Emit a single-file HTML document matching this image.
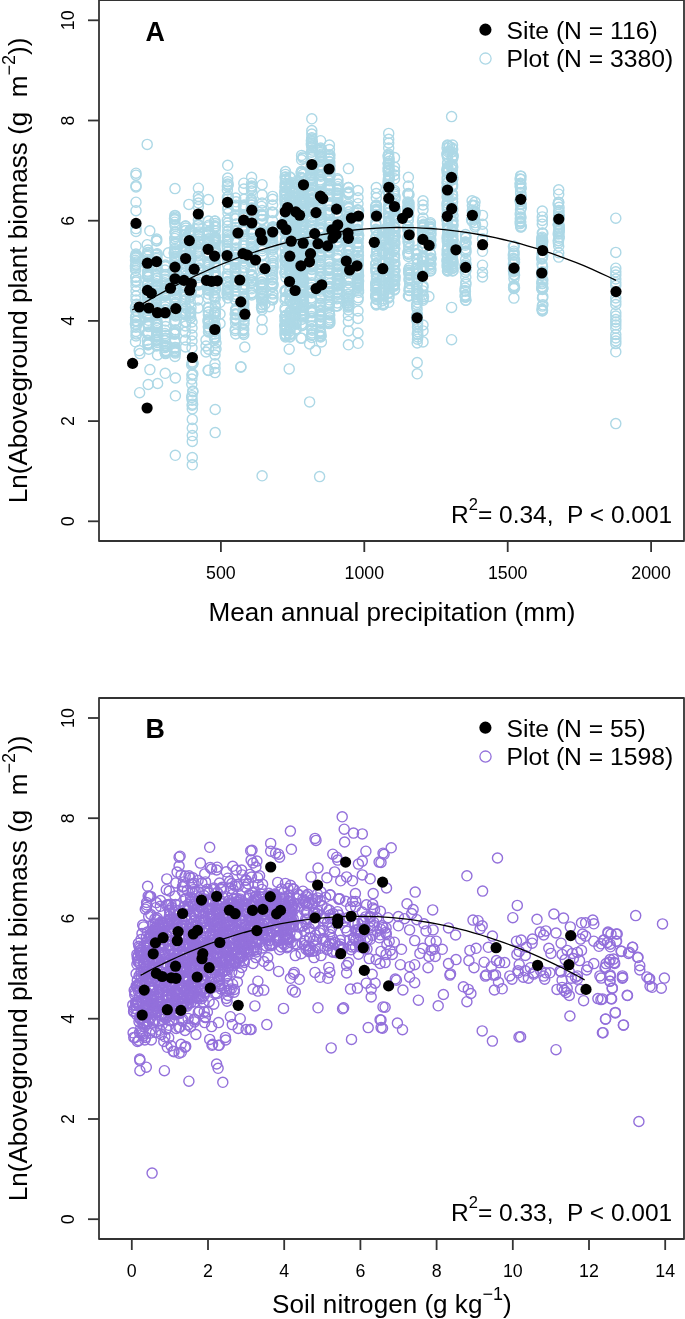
<!DOCTYPE html>
<html><head><meta charset="utf-8"><style>
html,body{margin:0;padding:0;background:#fff;}
svg{display:block;}
text{font-family:"Liberation Sans",sans-serif;fill:#000;}
svg{-webkit-font-smoothing:antialiased;will-change:transform;}
</style></head><body>
<svg width="685" height="1319" viewBox="0 0 685 1319">
<rect width="685" height="1319" fill="#fff"/>
<g fill="none" stroke="#add8e6" stroke-width="1.4">
<circle cx="136.0" cy="254.0" r="5.05"/>
<circle cx="136.0" cy="282.0" r="5.05"/>
<circle cx="135.8" cy="258.2" r="5.05"/>
<circle cx="136.2" cy="256.0" r="5.05"/>
<circle cx="136.0" cy="264.2" r="5.05"/>
<circle cx="135.5" cy="268.2" r="5.05"/>
<circle cx="135.4" cy="266.1" r="5.05"/>
<circle cx="135.5" cy="256.5" r="5.05"/>
<circle cx="135.9" cy="277.2" r="5.05"/>
<circle cx="135.5" cy="260.3" r="5.05"/>
<circle cx="136.2" cy="280.5" r="5.05"/>
<circle cx="136.1" cy="265.1" r="5.05"/>
<circle cx="136.6" cy="255.3" r="5.05"/>
<circle cx="136.4" cy="262.1" r="5.05"/>
<circle cx="135.6" cy="257.3" r="5.05"/>
<circle cx="135.8" cy="276.9" r="5.05"/>
<circle cx="135.6" cy="270.3" r="5.05"/>
<circle cx="136.2" cy="264.4" r="5.05"/>
<circle cx="136.1" cy="255.8" r="5.05"/>
<circle cx="136.0" cy="300.0" r="5.05"/>
<circle cx="136.0" cy="336.0" r="5.05"/>
<circle cx="135.5" cy="307.4" r="5.05"/>
<circle cx="136.2" cy="315.4" r="5.05"/>
<circle cx="135.8" cy="321.1" r="5.05"/>
<circle cx="135.9" cy="310.8" r="5.05"/>
<circle cx="136.4" cy="325.2" r="5.05"/>
<circle cx="135.7" cy="320.7" r="5.05"/>
<circle cx="136.0" cy="331.5" r="5.05"/>
<circle cx="136.3" cy="310.4" r="5.05"/>
<circle cx="136.6" cy="304.3" r="5.05"/>
<circle cx="135.9" cy="327.3" r="5.05"/>
<circle cx="135.6" cy="317.6" r="5.05"/>
<circle cx="135.4" cy="324.1" r="5.05"/>
<circle cx="136.3" cy="320.6" r="5.05"/>
<circle cx="136.5" cy="311.3" r="5.05"/>
<circle cx="136.2" cy="321.4" r="5.05"/>
<circle cx="136.1" cy="316.4" r="5.05"/>
<circle cx="136.4" cy="334.0" r="5.05"/>
<circle cx="148.0" cy="250.0" r="5.05"/>
<circle cx="148.0" cy="345.0" r="5.05"/>
<circle cx="148.0" cy="313.1" r="5.05"/>
<circle cx="147.5" cy="316.6" r="5.05"/>
<circle cx="148.2" cy="344.3" r="5.05"/>
<circle cx="148.4" cy="277.0" r="5.05"/>
<circle cx="147.9" cy="313.5" r="5.05"/>
<circle cx="147.4" cy="293.9" r="5.05"/>
<circle cx="147.6" cy="261.1" r="5.05"/>
<circle cx="147.5" cy="323.0" r="5.05"/>
<circle cx="147.6" cy="273.5" r="5.05"/>
<circle cx="147.9" cy="332.8" r="5.05"/>
<circle cx="147.5" cy="292.7" r="5.05"/>
<circle cx="148.1" cy="333.9" r="5.05"/>
<circle cx="148.4" cy="332.1" r="5.05"/>
<circle cx="147.7" cy="289.5" r="5.05"/>
<circle cx="147.8" cy="334.0" r="5.05"/>
<circle cx="148.5" cy="264.3" r="5.05"/>
<circle cx="147.6" cy="272.0" r="5.05"/>
<circle cx="147.7" cy="296.1" r="5.05"/>
<circle cx="148.1" cy="275.0" r="5.05"/>
<circle cx="147.4" cy="289.8" r="5.05"/>
<circle cx="147.8" cy="303.8" r="5.05"/>
<circle cx="148.5" cy="315.6" r="5.05"/>
<circle cx="148.0" cy="308.7" r="5.05"/>
<circle cx="148.2" cy="255.1" r="5.05"/>
<circle cx="148.5" cy="324.1" r="5.05"/>
<circle cx="148.4" cy="325.8" r="5.05"/>
<circle cx="147.9" cy="287.9" r="5.05"/>
<circle cx="147.5" cy="310.3" r="5.05"/>
<circle cx="147.5" cy="256.4" r="5.05"/>
<circle cx="147.7" cy="265.4" r="5.05"/>
<circle cx="147.8" cy="255.0" r="5.05"/>
<circle cx="147.4" cy="264.4" r="5.05"/>
<circle cx="147.5" cy="284.5" r="5.05"/>
<circle cx="147.4" cy="333.1" r="5.05"/>
<circle cx="148.1" cy="264.1" r="5.05"/>
<circle cx="147.7" cy="283.0" r="5.05"/>
<circle cx="147.8" cy="261.7" r="5.05"/>
<circle cx="148.4" cy="344.3" r="5.05"/>
<circle cx="148.0" cy="296.0" r="5.05"/>
<circle cx="147.5" cy="259.7" r="5.05"/>
<circle cx="147.8" cy="275.2" r="5.05"/>
<circle cx="148.4" cy="265.3" r="5.05"/>
<circle cx="147.4" cy="340.3" r="5.05"/>
<circle cx="148.0" cy="263.9" r="5.05"/>
<circle cx="148.1" cy="252.6" r="5.05"/>
<circle cx="148.0" cy="343.0" r="5.05"/>
<circle cx="148.4" cy="316.1" r="5.05"/>
<circle cx="147.7" cy="284.8" r="5.05"/>
<circle cx="147.6" cy="323.3" r="5.05"/>
<circle cx="148.0" cy="324.0" r="5.05"/>
<circle cx="147.8" cy="271.2" r="5.05"/>
<circle cx="148.4" cy="343.6" r="5.05"/>
<circle cx="148.4" cy="326.6" r="5.05"/>
<circle cx="148.4" cy="320.3" r="5.05"/>
<circle cx="147.7" cy="299.2" r="5.05"/>
<circle cx="147.8" cy="252.8" r="5.05"/>
<circle cx="147.4" cy="276.5" r="5.05"/>
<circle cx="147.7" cy="315.8" r="5.05"/>
<circle cx="156.7" cy="239.0" r="5.05"/>
<circle cx="156.7" cy="346.0" r="5.05"/>
<circle cx="157.2" cy="286.9" r="5.05"/>
<circle cx="157.2" cy="344.7" r="5.05"/>
<circle cx="157.2" cy="278.0" r="5.05"/>
<circle cx="156.4" cy="263.3" r="5.05"/>
<circle cx="156.3" cy="260.9" r="5.05"/>
<circle cx="156.8" cy="335.3" r="5.05"/>
<circle cx="157.1" cy="290.3" r="5.05"/>
<circle cx="156.9" cy="324.6" r="5.05"/>
<circle cx="156.2" cy="309.7" r="5.05"/>
<circle cx="157.2" cy="322.7" r="5.05"/>
<circle cx="157.0" cy="290.1" r="5.05"/>
<circle cx="156.3" cy="323.4" r="5.05"/>
<circle cx="156.5" cy="324.7" r="5.05"/>
<circle cx="157.3" cy="281.4" r="5.05"/>
<circle cx="156.6" cy="340.3" r="5.05"/>
<circle cx="157.0" cy="257.2" r="5.05"/>
<circle cx="156.3" cy="255.2" r="5.05"/>
<circle cx="157.2" cy="325.3" r="5.05"/>
<circle cx="156.3" cy="327.4" r="5.05"/>
<circle cx="157.3" cy="309.3" r="5.05"/>
<circle cx="156.5" cy="297.7" r="5.05"/>
<circle cx="156.3" cy="240.5" r="5.05"/>
<circle cx="157.3" cy="308.5" r="5.05"/>
<circle cx="156.7" cy="338.9" r="5.05"/>
<circle cx="156.6" cy="332.3" r="5.05"/>
<circle cx="157.1" cy="261.6" r="5.05"/>
<circle cx="156.4" cy="270.3" r="5.05"/>
<circle cx="156.4" cy="301.7" r="5.05"/>
<circle cx="156.4" cy="283.8" r="5.05"/>
<circle cx="156.3" cy="336.4" r="5.05"/>
<circle cx="156.5" cy="288.0" r="5.05"/>
<circle cx="156.8" cy="335.8" r="5.05"/>
<circle cx="156.6" cy="337.2" r="5.05"/>
<circle cx="156.7" cy="295.9" r="5.05"/>
<circle cx="156.7" cy="241.0" r="5.05"/>
<circle cx="156.6" cy="258.6" r="5.05"/>
<circle cx="156.1" cy="324.5" r="5.05"/>
<circle cx="156.3" cy="289.7" r="5.05"/>
<circle cx="157.0" cy="298.5" r="5.05"/>
<circle cx="156.5" cy="294.5" r="5.05"/>
<circle cx="156.8" cy="322.9" r="5.05"/>
<circle cx="156.2" cy="299.0" r="5.05"/>
<circle cx="156.4" cy="268.6" r="5.05"/>
<circle cx="157.0" cy="293.3" r="5.05"/>
<circle cx="156.8" cy="320.3" r="5.05"/>
<circle cx="157.2" cy="286.4" r="5.05"/>
<circle cx="156.8" cy="293.1" r="5.05"/>
<circle cx="156.7" cy="313.1" r="5.05"/>
<circle cx="156.6" cy="296.1" r="5.05"/>
<circle cx="156.7" cy="339.7" r="5.05"/>
<circle cx="156.9" cy="332.8" r="5.05"/>
<circle cx="157.2" cy="266.8" r="5.05"/>
<circle cx="156.8" cy="339.9" r="5.05"/>
<circle cx="157.1" cy="253.7" r="5.05"/>
<circle cx="156.2" cy="286.3" r="5.05"/>
<circle cx="156.2" cy="264.7" r="5.05"/>
<circle cx="156.2" cy="310.6" r="5.05"/>
<circle cx="157.0" cy="335.0" r="5.05"/>
<circle cx="156.3" cy="315.6" r="5.05"/>
<circle cx="156.9" cy="254.3" r="5.05"/>
<circle cx="157.2" cy="342.5" r="5.05"/>
<circle cx="156.4" cy="340.9" r="5.05"/>
<circle cx="156.6" cy="291.1" r="5.05"/>
<circle cx="157.3" cy="328.1" r="5.05"/>
<circle cx="156.3" cy="285.2" r="5.05"/>
<circle cx="156.7" cy="275.3" r="5.05"/>
<circle cx="165.5" cy="265.0" r="5.05"/>
<circle cx="165.5" cy="353.0" r="5.05"/>
<circle cx="165.1" cy="293.0" r="5.05"/>
<circle cx="165.8" cy="266.7" r="5.05"/>
<circle cx="165.6" cy="303.8" r="5.05"/>
<circle cx="164.9" cy="294.2" r="5.05"/>
<circle cx="165.6" cy="310.1" r="5.05"/>
<circle cx="165.0" cy="351.7" r="5.05"/>
<circle cx="165.8" cy="350.5" r="5.05"/>
<circle cx="165.0" cy="288.4" r="5.05"/>
<circle cx="164.9" cy="333.6" r="5.05"/>
<circle cx="165.2" cy="276.4" r="5.05"/>
<circle cx="165.4" cy="345.2" r="5.05"/>
<circle cx="165.9" cy="287.8" r="5.05"/>
<circle cx="165.1" cy="345.9" r="5.05"/>
<circle cx="165.6" cy="326.6" r="5.05"/>
<circle cx="165.0" cy="270.1" r="5.05"/>
<circle cx="165.7" cy="302.4" r="5.05"/>
<circle cx="165.0" cy="347.6" r="5.05"/>
<circle cx="165.7" cy="335.5" r="5.05"/>
<circle cx="165.0" cy="340.3" r="5.05"/>
<circle cx="165.0" cy="340.9" r="5.05"/>
<circle cx="165.4" cy="294.8" r="5.05"/>
<circle cx="165.6" cy="346.5" r="5.05"/>
<circle cx="165.2" cy="276.4" r="5.05"/>
<circle cx="165.5" cy="286.0" r="5.05"/>
<circle cx="165.0" cy="279.2" r="5.05"/>
<circle cx="165.0" cy="282.8" r="5.05"/>
<circle cx="165.3" cy="291.8" r="5.05"/>
<circle cx="165.8" cy="290.5" r="5.05"/>
<circle cx="165.5" cy="280.7" r="5.05"/>
<circle cx="165.3" cy="266.6" r="5.05"/>
<circle cx="165.2" cy="266.4" r="5.05"/>
<circle cx="165.8" cy="313.5" r="5.05"/>
<circle cx="165.1" cy="306.8" r="5.05"/>
<circle cx="166.0" cy="274.4" r="5.05"/>
<circle cx="165.9" cy="303.0" r="5.05"/>
<circle cx="165.5" cy="338.4" r="5.05"/>
<circle cx="165.4" cy="309.6" r="5.05"/>
<circle cx="165.7" cy="351.5" r="5.05"/>
<circle cx="165.3" cy="338.2" r="5.05"/>
<circle cx="165.7" cy="321.0" r="5.05"/>
<circle cx="165.4" cy="295.6" r="5.05"/>
<circle cx="165.0" cy="276.4" r="5.05"/>
<circle cx="165.0" cy="330.2" r="5.05"/>
<circle cx="175.0" cy="215.4" r="5.05"/>
<circle cx="175.0" cy="356.5" r="5.05"/>
<circle cx="174.7" cy="238.4" r="5.05"/>
<circle cx="174.5" cy="334.1" r="5.05"/>
<circle cx="175.4" cy="310.0" r="5.05"/>
<circle cx="174.7" cy="249.6" r="5.05"/>
<circle cx="174.8" cy="280.2" r="5.05"/>
<circle cx="174.6" cy="278.3" r="5.05"/>
<circle cx="174.7" cy="351.1" r="5.05"/>
<circle cx="175.6" cy="292.6" r="5.05"/>
<circle cx="174.7" cy="351.7" r="5.05"/>
<circle cx="174.8" cy="265.7" r="5.05"/>
<circle cx="174.4" cy="269.2" r="5.05"/>
<circle cx="175.0" cy="286.3" r="5.05"/>
<circle cx="174.6" cy="286.6" r="5.05"/>
<circle cx="174.4" cy="252.7" r="5.05"/>
<circle cx="174.5" cy="271.8" r="5.05"/>
<circle cx="174.5" cy="218.6" r="5.05"/>
<circle cx="174.8" cy="248.2" r="5.05"/>
<circle cx="175.1" cy="290.1" r="5.05"/>
<circle cx="175.3" cy="308.2" r="5.05"/>
<circle cx="175.3" cy="339.4" r="5.05"/>
<circle cx="174.9" cy="261.4" r="5.05"/>
<circle cx="175.6" cy="236.5" r="5.05"/>
<circle cx="175.3" cy="306.2" r="5.05"/>
<circle cx="174.5" cy="333.3" r="5.05"/>
<circle cx="175.5" cy="303.9" r="5.05"/>
<circle cx="175.3" cy="330.0" r="5.05"/>
<circle cx="174.6" cy="289.3" r="5.05"/>
<circle cx="175.0" cy="333.2" r="5.05"/>
<circle cx="175.4" cy="332.0" r="5.05"/>
<circle cx="175.1" cy="341.4" r="5.05"/>
<circle cx="175.2" cy="313.2" r="5.05"/>
<circle cx="174.7" cy="219.8" r="5.05"/>
<circle cx="174.6" cy="266.3" r="5.05"/>
<circle cx="174.5" cy="333.3" r="5.05"/>
<circle cx="175.1" cy="304.0" r="5.05"/>
<circle cx="175.2" cy="311.4" r="5.05"/>
<circle cx="175.0" cy="215.9" r="5.05"/>
<circle cx="175.4" cy="321.0" r="5.05"/>
<circle cx="175.0" cy="290.9" r="5.05"/>
<circle cx="175.2" cy="224.7" r="5.05"/>
<circle cx="175.3" cy="251.0" r="5.05"/>
<circle cx="174.5" cy="252.9" r="5.05"/>
<circle cx="175.3" cy="244.4" r="5.05"/>
<circle cx="175.3" cy="353.1" r="5.05"/>
<circle cx="175.0" cy="269.4" r="5.05"/>
<circle cx="175.0" cy="311.9" r="5.05"/>
<circle cx="175.3" cy="302.5" r="5.05"/>
<circle cx="175.2" cy="226.3" r="5.05"/>
<circle cx="174.6" cy="251.2" r="5.05"/>
<circle cx="175.3" cy="258.4" r="5.05"/>
<circle cx="175.1" cy="217.2" r="5.05"/>
<circle cx="174.5" cy="253.3" r="5.05"/>
<circle cx="175.2" cy="313.1" r="5.05"/>
<circle cx="175.2" cy="256.4" r="5.05"/>
<circle cx="175.0" cy="281.0" r="5.05"/>
<circle cx="175.0" cy="232.1" r="5.05"/>
<circle cx="175.5" cy="243.5" r="5.05"/>
<circle cx="175.6" cy="347.5" r="5.05"/>
<circle cx="174.4" cy="280.2" r="5.05"/>
<circle cx="175.4" cy="352.0" r="5.05"/>
<circle cx="174.9" cy="253.3" r="5.05"/>
<circle cx="174.7" cy="348.8" r="5.05"/>
<circle cx="174.7" cy="297.4" r="5.05"/>
<circle cx="174.6" cy="289.3" r="5.05"/>
<circle cx="175.5" cy="234.1" r="5.05"/>
<circle cx="175.4" cy="287.2" r="5.05"/>
<circle cx="175.5" cy="314.6" r="5.05"/>
<circle cx="174.7" cy="342.1" r="5.05"/>
<circle cx="175.0" cy="218.9" r="5.05"/>
<circle cx="174.4" cy="284.8" r="5.05"/>
<circle cx="174.9" cy="258.0" r="5.05"/>
<circle cx="174.6" cy="263.9" r="5.05"/>
<circle cx="174.8" cy="334.0" r="5.05"/>
<circle cx="174.4" cy="321.3" r="5.05"/>
<circle cx="175.4" cy="232.3" r="5.05"/>
<circle cx="175.5" cy="316.0" r="5.05"/>
<circle cx="175.5" cy="256.3" r="5.05"/>
<circle cx="174.8" cy="270.8" r="5.05"/>
<circle cx="175.6" cy="298.5" r="5.05"/>
<circle cx="174.8" cy="275.8" r="5.05"/>
<circle cx="174.7" cy="222.2" r="5.05"/>
<circle cx="174.5" cy="333.2" r="5.05"/>
<circle cx="174.7" cy="347.4" r="5.05"/>
<circle cx="174.7" cy="252.9" r="5.05"/>
<circle cx="175.0" cy="242.2" r="5.05"/>
<circle cx="174.8" cy="350.3" r="5.05"/>
<circle cx="175.5" cy="330.0" r="5.05"/>
<circle cx="185.5" cy="226.0" r="5.05"/>
<circle cx="185.5" cy="322.0" r="5.05"/>
<circle cx="185.7" cy="313.7" r="5.05"/>
<circle cx="186.0" cy="278.7" r="5.05"/>
<circle cx="185.8" cy="230.7" r="5.05"/>
<circle cx="185.8" cy="269.3" r="5.05"/>
<circle cx="185.8" cy="287.9" r="5.05"/>
<circle cx="185.2" cy="230.7" r="5.05"/>
<circle cx="186.0" cy="238.2" r="5.05"/>
<circle cx="185.5" cy="259.0" r="5.05"/>
<circle cx="185.3" cy="296.9" r="5.05"/>
<circle cx="186.1" cy="251.0" r="5.05"/>
<circle cx="185.7" cy="254.9" r="5.05"/>
<circle cx="185.6" cy="263.9" r="5.05"/>
<circle cx="185.1" cy="241.5" r="5.05"/>
<circle cx="185.1" cy="313.0" r="5.05"/>
<circle cx="185.5" cy="247.1" r="5.05"/>
<circle cx="186.0" cy="321.7" r="5.05"/>
<circle cx="185.4" cy="239.4" r="5.05"/>
<circle cx="185.1" cy="234.7" r="5.05"/>
<circle cx="185.3" cy="234.7" r="5.05"/>
<circle cx="185.2" cy="250.8" r="5.05"/>
<circle cx="185.6" cy="311.2" r="5.05"/>
<circle cx="185.8" cy="265.6" r="5.05"/>
<circle cx="185.4" cy="276.3" r="5.05"/>
<circle cx="185.4" cy="258.5" r="5.05"/>
<circle cx="185.0" cy="252.6" r="5.05"/>
<circle cx="186.1" cy="238.1" r="5.05"/>
<circle cx="185.5" cy="286.4" r="5.05"/>
<circle cx="185.9" cy="246.7" r="5.05"/>
<circle cx="185.2" cy="249.9" r="5.05"/>
<circle cx="185.4" cy="268.8" r="5.05"/>
<circle cx="186.0" cy="307.5" r="5.05"/>
<circle cx="185.9" cy="228.1" r="5.05"/>
<circle cx="184.9" cy="294.1" r="5.05"/>
<circle cx="186.0" cy="271.4" r="5.05"/>
<circle cx="185.6" cy="226.0" r="5.05"/>
<circle cx="185.4" cy="315.0" r="5.05"/>
<circle cx="185.9" cy="308.1" r="5.05"/>
<circle cx="186.1" cy="249.9" r="5.05"/>
<circle cx="185.0" cy="240.8" r="5.05"/>
<circle cx="185.5" cy="291.5" r="5.05"/>
<circle cx="186.0" cy="295.3" r="5.05"/>
<circle cx="185.7" cy="299.4" r="5.05"/>
<circle cx="185.4" cy="278.9" r="5.05"/>
<circle cx="184.9" cy="301.1" r="5.05"/>
<circle cx="185.2" cy="314.3" r="5.05"/>
<circle cx="185.7" cy="255.2" r="5.05"/>
<circle cx="185.1" cy="250.2" r="5.05"/>
<circle cx="190.5" cy="230.0" r="5.05"/>
<circle cx="190.5" cy="318.0" r="5.05"/>
<circle cx="190.7" cy="291.5" r="5.05"/>
<circle cx="190.0" cy="236.2" r="5.05"/>
<circle cx="190.5" cy="281.3" r="5.05"/>
<circle cx="190.4" cy="249.7" r="5.05"/>
<circle cx="190.6" cy="230.9" r="5.05"/>
<circle cx="190.3" cy="270.5" r="5.05"/>
<circle cx="191.1" cy="286.7" r="5.05"/>
<circle cx="191.0" cy="271.8" r="5.05"/>
<circle cx="190.2" cy="251.7" r="5.05"/>
<circle cx="191.1" cy="292.0" r="5.05"/>
<circle cx="190.3" cy="231.9" r="5.05"/>
<circle cx="190.5" cy="289.4" r="5.05"/>
<circle cx="190.4" cy="252.6" r="5.05"/>
<circle cx="190.7" cy="311.4" r="5.05"/>
<circle cx="190.2" cy="233.0" r="5.05"/>
<circle cx="190.3" cy="267.0" r="5.05"/>
<circle cx="190.7" cy="247.4" r="5.05"/>
<circle cx="190.9" cy="295.0" r="5.05"/>
<circle cx="190.5" cy="248.1" r="5.05"/>
<circle cx="191.1" cy="257.4" r="5.05"/>
<circle cx="190.9" cy="250.3" r="5.05"/>
<circle cx="190.2" cy="296.9" r="5.05"/>
<circle cx="190.3" cy="313.8" r="5.05"/>
<circle cx="190.5" cy="246.5" r="5.05"/>
<circle cx="190.2" cy="266.7" r="5.05"/>
<circle cx="190.7" cy="313.5" r="5.05"/>
<circle cx="190.1" cy="264.6" r="5.05"/>
<circle cx="190.2" cy="315.7" r="5.05"/>
<circle cx="190.1" cy="234.6" r="5.05"/>
<circle cx="190.0" cy="264.6" r="5.05"/>
<circle cx="191.0" cy="307.8" r="5.05"/>
<circle cx="190.8" cy="317.8" r="5.05"/>
<circle cx="191.0" cy="259.0" r="5.05"/>
<circle cx="190.1" cy="312.4" r="5.05"/>
<circle cx="190.8" cy="232.8" r="5.05"/>
<circle cx="190.7" cy="263.3" r="5.05"/>
<circle cx="190.3" cy="259.2" r="5.05"/>
<circle cx="190.1" cy="230.3" r="5.05"/>
<circle cx="190.2" cy="260.9" r="5.05"/>
<circle cx="191.0" cy="240.9" r="5.05"/>
<circle cx="191.1" cy="248.3" r="5.05"/>
<circle cx="190.3" cy="302.3" r="5.05"/>
<circle cx="190.9" cy="268.1" r="5.05"/>
<circle cx="192.3" cy="362.0" r="5.05"/>
<circle cx="192.3" cy="409.0" r="5.05"/>
<circle cx="191.8" cy="384.3" r="5.05"/>
<circle cx="192.1" cy="405.2" r="5.05"/>
<circle cx="191.9" cy="379.1" r="5.05"/>
<circle cx="192.8" cy="363.4" r="5.05"/>
<circle cx="192.2" cy="400.2" r="5.05"/>
<circle cx="192.6" cy="363.9" r="5.05"/>
<circle cx="191.7" cy="364.9" r="5.05"/>
<circle cx="192.8" cy="374.1" r="5.05"/>
<circle cx="192.6" cy="404.2" r="5.05"/>
<circle cx="192.1" cy="374.8" r="5.05"/>
<circle cx="192.8" cy="391.0" r="5.05"/>
<circle cx="192.0" cy="395.7" r="5.05"/>
<circle cx="192.1" cy="375.0" r="5.05"/>
<circle cx="191.7" cy="397.5" r="5.05"/>
<circle cx="192.8" cy="391.8" r="5.05"/>
<circle cx="192.8" cy="363.1" r="5.05"/>
<circle cx="198.4" cy="220.0" r="5.05"/>
<circle cx="198.4" cy="285.0" r="5.05"/>
<circle cx="198.1" cy="250.9" r="5.05"/>
<circle cx="198.9" cy="282.0" r="5.05"/>
<circle cx="198.3" cy="236.3" r="5.05"/>
<circle cx="198.3" cy="252.1" r="5.05"/>
<circle cx="198.9" cy="231.9" r="5.05"/>
<circle cx="198.8" cy="268.0" r="5.05"/>
<circle cx="198.8" cy="270.2" r="5.05"/>
<circle cx="198.5" cy="241.3" r="5.05"/>
<circle cx="198.2" cy="243.5" r="5.05"/>
<circle cx="198.7" cy="225.1" r="5.05"/>
<circle cx="198.0" cy="268.9" r="5.05"/>
<circle cx="198.1" cy="224.2" r="5.05"/>
<circle cx="197.8" cy="255.9" r="5.05"/>
<circle cx="198.2" cy="283.7" r="5.05"/>
<circle cx="198.9" cy="284.2" r="5.05"/>
<circle cx="198.1" cy="225.5" r="5.05"/>
<circle cx="197.9" cy="252.4" r="5.05"/>
<circle cx="198.7" cy="249.1" r="5.05"/>
<circle cx="198.1" cy="247.1" r="5.05"/>
<circle cx="198.5" cy="263.8" r="5.05"/>
<circle cx="198.7" cy="275.1" r="5.05"/>
<circle cx="198.6" cy="227.9" r="5.05"/>
<circle cx="198.8" cy="239.1" r="5.05"/>
<circle cx="198.5" cy="244.2" r="5.05"/>
<circle cx="198.7" cy="232.9" r="5.05"/>
<circle cx="198.1" cy="235.9" r="5.05"/>
<circle cx="198.0" cy="277.5" r="5.05"/>
<circle cx="198.5" cy="241.2" r="5.05"/>
<circle cx="198.3" cy="284.5" r="5.05"/>
<circle cx="198.4" cy="235.0" r="5.05"/>
<circle cx="198.8" cy="262.5" r="5.05"/>
<circle cx="208.5" cy="221.0" r="5.05"/>
<circle cx="208.5" cy="332.0" r="5.05"/>
<circle cx="209.1" cy="232.4" r="5.05"/>
<circle cx="208.5" cy="311.9" r="5.05"/>
<circle cx="208.9" cy="322.5" r="5.05"/>
<circle cx="207.9" cy="253.6" r="5.05"/>
<circle cx="208.0" cy="242.0" r="5.05"/>
<circle cx="209.1" cy="285.7" r="5.05"/>
<circle cx="209.0" cy="262.3" r="5.05"/>
<circle cx="208.9" cy="270.9" r="5.05"/>
<circle cx="208.2" cy="307.3" r="5.05"/>
<circle cx="209.0" cy="232.7" r="5.05"/>
<circle cx="208.6" cy="289.8" r="5.05"/>
<circle cx="208.2" cy="261.9" r="5.05"/>
<circle cx="208.1" cy="243.6" r="5.05"/>
<circle cx="208.2" cy="287.5" r="5.05"/>
<circle cx="208.7" cy="243.6" r="5.05"/>
<circle cx="207.9" cy="257.3" r="5.05"/>
<circle cx="208.7" cy="241.6" r="5.05"/>
<circle cx="208.3" cy="243.6" r="5.05"/>
<circle cx="208.9" cy="281.8" r="5.05"/>
<circle cx="208.0" cy="232.3" r="5.05"/>
<circle cx="208.4" cy="282.1" r="5.05"/>
<circle cx="208.7" cy="231.1" r="5.05"/>
<circle cx="208.1" cy="298.2" r="5.05"/>
<circle cx="208.4" cy="252.4" r="5.05"/>
<circle cx="208.3" cy="326.8" r="5.05"/>
<circle cx="208.3" cy="283.9" r="5.05"/>
<circle cx="208.3" cy="267.2" r="5.05"/>
<circle cx="208.9" cy="331.6" r="5.05"/>
<circle cx="208.3" cy="242.9" r="5.05"/>
<circle cx="208.8" cy="243.6" r="5.05"/>
<circle cx="207.9" cy="321.1" r="5.05"/>
<circle cx="208.4" cy="312.1" r="5.05"/>
<circle cx="208.4" cy="319.0" r="5.05"/>
<circle cx="208.5" cy="239.0" r="5.05"/>
<circle cx="207.9" cy="282.2" r="5.05"/>
<circle cx="208.7" cy="322.0" r="5.05"/>
<circle cx="208.0" cy="290.1" r="5.05"/>
<circle cx="208.3" cy="277.0" r="5.05"/>
<circle cx="208.1" cy="252.4" r="5.05"/>
<circle cx="208.5" cy="323.7" r="5.05"/>
<circle cx="208.0" cy="275.4" r="5.05"/>
<circle cx="208.9" cy="328.3" r="5.05"/>
<circle cx="208.1" cy="235.1" r="5.05"/>
<circle cx="209.0" cy="329.3" r="5.05"/>
<circle cx="208.5" cy="226.9" r="5.05"/>
<circle cx="209.0" cy="264.1" r="5.05"/>
<circle cx="209.0" cy="289.9" r="5.05"/>
<circle cx="208.9" cy="238.8" r="5.05"/>
<circle cx="208.8" cy="245.7" r="5.05"/>
<circle cx="208.4" cy="314.9" r="5.05"/>
<circle cx="208.9" cy="241.3" r="5.05"/>
<circle cx="208.2" cy="265.4" r="5.05"/>
<circle cx="208.5" cy="263.6" r="5.05"/>
<circle cx="208.0" cy="248.4" r="5.05"/>
<circle cx="208.8" cy="320.6" r="5.05"/>
<circle cx="207.9" cy="283.4" r="5.05"/>
<circle cx="208.8" cy="225.2" r="5.05"/>
<circle cx="208.9" cy="234.1" r="5.05"/>
<circle cx="208.6" cy="282.1" r="5.05"/>
<circle cx="208.7" cy="255.0" r="5.05"/>
<circle cx="208.4" cy="285.7" r="5.05"/>
<circle cx="208.4" cy="294.1" r="5.05"/>
<circle cx="208.4" cy="269.7" r="5.05"/>
<circle cx="207.9" cy="289.7" r="5.05"/>
<circle cx="208.5" cy="247.1" r="5.05"/>
<circle cx="208.8" cy="307.6" r="5.05"/>
<circle cx="208.4" cy="240.9" r="5.05"/>
<circle cx="208.5" cy="232.9" r="5.05"/>
<circle cx="215.0" cy="221.0" r="5.05"/>
<circle cx="215.0" cy="339.0" r="5.05"/>
<circle cx="214.6" cy="271.8" r="5.05"/>
<circle cx="214.5" cy="273.2" r="5.05"/>
<circle cx="215.0" cy="225.8" r="5.05"/>
<circle cx="215.2" cy="230.7" r="5.05"/>
<circle cx="215.3" cy="312.8" r="5.05"/>
<circle cx="215.0" cy="227.4" r="5.05"/>
<circle cx="215.0" cy="265.6" r="5.05"/>
<circle cx="215.5" cy="237.1" r="5.05"/>
<circle cx="215.4" cy="338.5" r="5.05"/>
<circle cx="215.3" cy="317.2" r="5.05"/>
<circle cx="214.6" cy="336.8" r="5.05"/>
<circle cx="215.0" cy="333.9" r="5.05"/>
<circle cx="215.5" cy="240.5" r="5.05"/>
<circle cx="215.3" cy="330.8" r="5.05"/>
<circle cx="214.5" cy="262.4" r="5.05"/>
<circle cx="215.3" cy="239.7" r="5.05"/>
<circle cx="215.5" cy="253.4" r="5.05"/>
<circle cx="215.4" cy="237.9" r="5.05"/>
<circle cx="215.0" cy="329.5" r="5.05"/>
<circle cx="214.6" cy="252.0" r="5.05"/>
<circle cx="215.0" cy="258.7" r="5.05"/>
<circle cx="214.4" cy="242.5" r="5.05"/>
<circle cx="214.6" cy="331.5" r="5.05"/>
<circle cx="215.2" cy="326.7" r="5.05"/>
<circle cx="214.6" cy="313.6" r="5.05"/>
<circle cx="214.5" cy="283.6" r="5.05"/>
<circle cx="215.2" cy="263.5" r="5.05"/>
<circle cx="215.4" cy="286.5" r="5.05"/>
<circle cx="215.1" cy="325.1" r="5.05"/>
<circle cx="214.5" cy="338.2" r="5.05"/>
<circle cx="215.2" cy="267.5" r="5.05"/>
<circle cx="215.4" cy="252.2" r="5.05"/>
<circle cx="215.6" cy="289.1" r="5.05"/>
<circle cx="214.8" cy="311.2" r="5.05"/>
<circle cx="214.9" cy="241.9" r="5.05"/>
<circle cx="215.3" cy="226.7" r="5.05"/>
<circle cx="215.4" cy="250.9" r="5.05"/>
<circle cx="215.2" cy="337.1" r="5.05"/>
<circle cx="215.1" cy="299.3" r="5.05"/>
<circle cx="214.8" cy="221.2" r="5.05"/>
<circle cx="214.4" cy="238.6" r="5.05"/>
<circle cx="215.1" cy="272.0" r="5.05"/>
<circle cx="215.0" cy="326.7" r="5.05"/>
<circle cx="214.6" cy="247.8" r="5.05"/>
<circle cx="215.2" cy="223.6" r="5.05"/>
<circle cx="214.4" cy="262.9" r="5.05"/>
<circle cx="214.5" cy="263.1" r="5.05"/>
<circle cx="214.7" cy="289.9" r="5.05"/>
<circle cx="215.1" cy="245.1" r="5.05"/>
<circle cx="215.1" cy="277.0" r="5.05"/>
<circle cx="214.6" cy="331.5" r="5.05"/>
<circle cx="214.7" cy="238.6" r="5.05"/>
<circle cx="214.5" cy="296.3" r="5.05"/>
<circle cx="215.4" cy="313.3" r="5.05"/>
<circle cx="214.9" cy="252.2" r="5.05"/>
<circle cx="214.4" cy="297.1" r="5.05"/>
<circle cx="215.1" cy="262.3" r="5.05"/>
<circle cx="215.2" cy="273.4" r="5.05"/>
<circle cx="215.5" cy="307.6" r="5.05"/>
<circle cx="214.7" cy="327.6" r="5.05"/>
<circle cx="214.5" cy="283.7" r="5.05"/>
<circle cx="214.9" cy="249.0" r="5.05"/>
<circle cx="214.5" cy="312.9" r="5.05"/>
<circle cx="214.4" cy="286.0" r="5.05"/>
<circle cx="215.5" cy="237.8" r="5.05"/>
<circle cx="214.6" cy="292.8" r="5.05"/>
<circle cx="215.0" cy="296.7" r="5.05"/>
<circle cx="215.4" cy="241.6" r="5.05"/>
<circle cx="214.8" cy="256.4" r="5.05"/>
<circle cx="214.5" cy="325.9" r="5.05"/>
<circle cx="215.3" cy="305.4" r="5.05"/>
<circle cx="214.4" cy="320.6" r="5.05"/>
<circle cx="215.3" cy="275.9" r="5.05"/>
<circle cx="227.7" cy="184.0" r="5.05"/>
<circle cx="227.7" cy="240.0" r="5.05"/>
<circle cx="228.0" cy="209.3" r="5.05"/>
<circle cx="227.4" cy="189.9" r="5.05"/>
<circle cx="227.4" cy="186.2" r="5.05"/>
<circle cx="227.5" cy="226.0" r="5.05"/>
<circle cx="227.9" cy="231.3" r="5.05"/>
<circle cx="228.0" cy="198.9" r="5.05"/>
<circle cx="227.8" cy="208.4" r="5.05"/>
<circle cx="228.0" cy="213.3" r="5.05"/>
<circle cx="227.4" cy="220.0" r="5.05"/>
<circle cx="228.3" cy="196.2" r="5.05"/>
<circle cx="228.2" cy="184.9" r="5.05"/>
<circle cx="227.4" cy="197.2" r="5.05"/>
<circle cx="228.0" cy="236.9" r="5.05"/>
<circle cx="228.0" cy="202.3" r="5.05"/>
<circle cx="228.2" cy="202.4" r="5.05"/>
<circle cx="227.4" cy="234.8" r="5.05"/>
<circle cx="227.9" cy="222.8" r="5.05"/>
<circle cx="227.9" cy="238.8" r="5.05"/>
<circle cx="227.7" cy="231.0" r="5.05"/>
<circle cx="227.7" cy="240.0" r="5.05"/>
<circle cx="227.7" cy="298.0" r="5.05"/>
<circle cx="227.9" cy="289.7" r="5.05"/>
<circle cx="227.6" cy="282.0" r="5.05"/>
<circle cx="227.8" cy="257.8" r="5.05"/>
<circle cx="227.4" cy="276.1" r="5.05"/>
<circle cx="227.2" cy="292.8" r="5.05"/>
<circle cx="227.3" cy="241.6" r="5.05"/>
<circle cx="227.2" cy="293.9" r="5.05"/>
<circle cx="227.5" cy="248.2" r="5.05"/>
<circle cx="227.1" cy="242.4" r="5.05"/>
<circle cx="227.9" cy="276.8" r="5.05"/>
<circle cx="227.9" cy="282.7" r="5.05"/>
<circle cx="227.2" cy="274.2" r="5.05"/>
<circle cx="227.5" cy="287.4" r="5.05"/>
<circle cx="228.1" cy="291.7" r="5.05"/>
<circle cx="227.2" cy="290.3" r="5.05"/>
<circle cx="228.2" cy="294.8" r="5.05"/>
<circle cx="227.2" cy="251.9" r="5.05"/>
<circle cx="227.2" cy="242.0" r="5.05"/>
<circle cx="228.1" cy="287.1" r="5.05"/>
<circle cx="227.9" cy="287.9" r="5.05"/>
<circle cx="227.9" cy="256.7" r="5.05"/>
<circle cx="227.2" cy="245.7" r="5.05"/>
<circle cx="228.0" cy="251.9" r="5.05"/>
<circle cx="227.5" cy="264.6" r="5.05"/>
<circle cx="227.1" cy="254.9" r="5.05"/>
<circle cx="227.4" cy="281.5" r="5.05"/>
<circle cx="227.5" cy="258.6" r="5.05"/>
<circle cx="228.3" cy="269.2" r="5.05"/>
<circle cx="235.7" cy="198.0" r="5.05"/>
<circle cx="235.7" cy="240.0" r="5.05"/>
<circle cx="236.1" cy="224.0" r="5.05"/>
<circle cx="235.1" cy="215.3" r="5.05"/>
<circle cx="235.6" cy="230.5" r="5.05"/>
<circle cx="235.5" cy="227.6" r="5.05"/>
<circle cx="235.7" cy="207.1" r="5.05"/>
<circle cx="236.1" cy="201.8" r="5.05"/>
<circle cx="236.1" cy="205.2" r="5.05"/>
<circle cx="235.1" cy="206.5" r="5.05"/>
<circle cx="236.0" cy="239.1" r="5.05"/>
<circle cx="235.1" cy="218.6" r="5.05"/>
<circle cx="235.7" cy="231.5" r="5.05"/>
<circle cx="235.3" cy="218.8" r="5.05"/>
<circle cx="235.7" cy="240.0" r="5.05"/>
<circle cx="235.7" cy="334.0" r="5.05"/>
<circle cx="235.5" cy="318.2" r="5.05"/>
<circle cx="235.4" cy="328.7" r="5.05"/>
<circle cx="235.4" cy="260.2" r="5.05"/>
<circle cx="235.9" cy="286.8" r="5.05"/>
<circle cx="235.2" cy="299.8" r="5.05"/>
<circle cx="235.2" cy="314.1" r="5.05"/>
<circle cx="235.9" cy="314.0" r="5.05"/>
<circle cx="235.9" cy="273.4" r="5.05"/>
<circle cx="235.6" cy="277.1" r="5.05"/>
<circle cx="236.2" cy="248.1" r="5.05"/>
<circle cx="236.2" cy="242.4" r="5.05"/>
<circle cx="235.3" cy="264.7" r="5.05"/>
<circle cx="236.2" cy="287.1" r="5.05"/>
<circle cx="235.6" cy="323.1" r="5.05"/>
<circle cx="235.4" cy="283.3" r="5.05"/>
<circle cx="235.7" cy="310.9" r="5.05"/>
<circle cx="236.0" cy="300.8" r="5.05"/>
<circle cx="235.5" cy="270.7" r="5.05"/>
<circle cx="235.3" cy="319.3" r="5.05"/>
<circle cx="235.9" cy="309.7" r="5.05"/>
<circle cx="235.3" cy="281.2" r="5.05"/>
<circle cx="236.0" cy="294.4" r="5.05"/>
<circle cx="235.3" cy="283.4" r="5.05"/>
<circle cx="236.2" cy="262.4" r="5.05"/>
<circle cx="235.3" cy="268.3" r="5.05"/>
<circle cx="235.9" cy="319.3" r="5.05"/>
<circle cx="235.3" cy="254.7" r="5.05"/>
<circle cx="235.4" cy="270.7" r="5.05"/>
<circle cx="235.7" cy="255.1" r="5.05"/>
<circle cx="235.5" cy="257.8" r="5.05"/>
<circle cx="236.3" cy="308.5" r="5.05"/>
<circle cx="235.2" cy="330.5" r="5.05"/>
<circle cx="235.2" cy="276.1" r="5.05"/>
<circle cx="236.3" cy="314.7" r="5.05"/>
<circle cx="236.0" cy="280.9" r="5.05"/>
<circle cx="235.3" cy="300.0" r="5.05"/>
<circle cx="235.2" cy="259.4" r="5.05"/>
<circle cx="235.6" cy="243.2" r="5.05"/>
<circle cx="235.6" cy="314.4" r="5.05"/>
<circle cx="235.9" cy="287.0" r="5.05"/>
<circle cx="235.9" cy="283.5" r="5.05"/>
<circle cx="235.3" cy="296.7" r="5.05"/>
<circle cx="235.6" cy="309.6" r="5.05"/>
<circle cx="236.2" cy="280.4" r="5.05"/>
<circle cx="235.8" cy="310.4" r="5.05"/>
<circle cx="235.6" cy="261.5" r="5.05"/>
<circle cx="243.8" cy="189.0" r="5.05"/>
<circle cx="243.8" cy="230.0" r="5.05"/>
<circle cx="244.1" cy="225.1" r="5.05"/>
<circle cx="244.1" cy="217.7" r="5.05"/>
<circle cx="244.2" cy="216.9" r="5.05"/>
<circle cx="244.0" cy="207.6" r="5.05"/>
<circle cx="243.6" cy="214.8" r="5.05"/>
<circle cx="243.3" cy="206.2" r="5.05"/>
<circle cx="244.1" cy="218.2" r="5.05"/>
<circle cx="244.0" cy="199.3" r="5.05"/>
<circle cx="243.7" cy="207.7" r="5.05"/>
<circle cx="243.9" cy="205.8" r="5.05"/>
<circle cx="244.0" cy="227.1" r="5.05"/>
<circle cx="243.4" cy="215.8" r="5.05"/>
<circle cx="244.1" cy="204.9" r="5.05"/>
<circle cx="243.8" cy="229.0" r="5.05"/>
<circle cx="243.8" cy="230.0" r="5.05"/>
<circle cx="243.8" cy="334.5" r="5.05"/>
<circle cx="243.2" cy="286.8" r="5.05"/>
<circle cx="243.4" cy="311.7" r="5.05"/>
<circle cx="244.3" cy="284.3" r="5.05"/>
<circle cx="243.3" cy="290.0" r="5.05"/>
<circle cx="243.8" cy="305.0" r="5.05"/>
<circle cx="243.8" cy="296.8" r="5.05"/>
<circle cx="244.2" cy="284.5" r="5.05"/>
<circle cx="243.7" cy="329.1" r="5.05"/>
<circle cx="243.5" cy="301.5" r="5.05"/>
<circle cx="243.7" cy="309.7" r="5.05"/>
<circle cx="243.3" cy="332.9" r="5.05"/>
<circle cx="243.6" cy="235.9" r="5.05"/>
<circle cx="243.5" cy="271.8" r="5.05"/>
<circle cx="243.2" cy="273.7" r="5.05"/>
<circle cx="243.7" cy="303.0" r="5.05"/>
<circle cx="243.6" cy="257.7" r="5.05"/>
<circle cx="243.5" cy="307.5" r="5.05"/>
<circle cx="244.3" cy="285.1" r="5.05"/>
<circle cx="243.5" cy="313.8" r="5.05"/>
<circle cx="243.7" cy="252.2" r="5.05"/>
<circle cx="243.4" cy="311.2" r="5.05"/>
<circle cx="244.2" cy="296.3" r="5.05"/>
<circle cx="243.8" cy="288.7" r="5.05"/>
<circle cx="243.5" cy="330.7" r="5.05"/>
<circle cx="243.6" cy="296.8" r="5.05"/>
<circle cx="244.2" cy="315.3" r="5.05"/>
<circle cx="243.8" cy="260.8" r="5.05"/>
<circle cx="243.9" cy="243.1" r="5.05"/>
<circle cx="244.2" cy="267.1" r="5.05"/>
<circle cx="244.2" cy="257.9" r="5.05"/>
<circle cx="243.7" cy="256.5" r="5.05"/>
<circle cx="243.7" cy="249.4" r="5.05"/>
<circle cx="243.2" cy="305.4" r="5.05"/>
<circle cx="243.5" cy="255.6" r="5.05"/>
<circle cx="243.6" cy="280.1" r="5.05"/>
<circle cx="243.7" cy="296.6" r="5.05"/>
<circle cx="244.0" cy="267.9" r="5.05"/>
<circle cx="244.3" cy="319.3" r="5.05"/>
<circle cx="243.3" cy="316.5" r="5.05"/>
<circle cx="244.3" cy="311.9" r="5.05"/>
<circle cx="243.4" cy="316.9" r="5.05"/>
<circle cx="244.0" cy="231.6" r="5.05"/>
<circle cx="243.2" cy="329.5" r="5.05"/>
<circle cx="244.0" cy="256.1" r="5.05"/>
<circle cx="243.3" cy="244.9" r="5.05"/>
<circle cx="243.5" cy="311.1" r="5.05"/>
<circle cx="243.6" cy="246.0" r="5.05"/>
<circle cx="244.3" cy="312.7" r="5.05"/>
<circle cx="243.4" cy="323.1" r="5.05"/>
<circle cx="243.9" cy="311.6" r="5.05"/>
<circle cx="244.0" cy="323.4" r="5.05"/>
<circle cx="251.6" cy="186.0" r="5.05"/>
<circle cx="251.6" cy="205.0" r="5.05"/>
<circle cx="251.9" cy="201.9" r="5.05"/>
<circle cx="251.2" cy="199.2" r="5.05"/>
<circle cx="251.6" cy="200.1" r="5.05"/>
<circle cx="251.5" cy="202.8" r="5.05"/>
<circle cx="251.7" cy="191.0" r="5.05"/>
<circle cx="251.3" cy="188.6" r="5.05"/>
<circle cx="251.6" cy="187.1" r="5.05"/>
<circle cx="251.6" cy="205.0" r="5.05"/>
<circle cx="251.6" cy="295.0" r="5.05"/>
<circle cx="251.6" cy="218.0" r="5.05"/>
<circle cx="251.6" cy="249.8" r="5.05"/>
<circle cx="251.6" cy="282.7" r="5.05"/>
<circle cx="251.0" cy="280.7" r="5.05"/>
<circle cx="251.6" cy="255.6" r="5.05"/>
<circle cx="251.8" cy="280.7" r="5.05"/>
<circle cx="251.4" cy="242.7" r="5.05"/>
<circle cx="252.2" cy="211.8" r="5.05"/>
<circle cx="251.8" cy="262.3" r="5.05"/>
<circle cx="251.0" cy="259.9" r="5.05"/>
<circle cx="251.8" cy="288.8" r="5.05"/>
<circle cx="251.4" cy="293.4" r="5.05"/>
<circle cx="251.6" cy="248.6" r="5.05"/>
<circle cx="252.1" cy="208.1" r="5.05"/>
<circle cx="251.9" cy="261.3" r="5.05"/>
<circle cx="251.4" cy="282.6" r="5.05"/>
<circle cx="251.4" cy="247.7" r="5.05"/>
<circle cx="251.6" cy="274.4" r="5.05"/>
<circle cx="251.3" cy="244.2" r="5.05"/>
<circle cx="251.5" cy="254.9" r="5.05"/>
<circle cx="252.0" cy="231.4" r="5.05"/>
<circle cx="252.0" cy="241.3" r="5.05"/>
<circle cx="251.6" cy="229.5" r="5.05"/>
<circle cx="251.6" cy="292.7" r="5.05"/>
<circle cx="251.8" cy="276.3" r="5.05"/>
<circle cx="251.4" cy="233.5" r="5.05"/>
<circle cx="251.4" cy="257.8" r="5.05"/>
<circle cx="251.8" cy="275.6" r="5.05"/>
<circle cx="251.0" cy="270.0" r="5.05"/>
<circle cx="252.1" cy="254.1" r="5.05"/>
<circle cx="251.1" cy="232.0" r="5.05"/>
<circle cx="251.0" cy="222.1" r="5.05"/>
<circle cx="252.1" cy="259.8" r="5.05"/>
<circle cx="251.8" cy="276.0" r="5.05"/>
<circle cx="252.1" cy="260.1" r="5.05"/>
<circle cx="251.7" cy="261.4" r="5.05"/>
<circle cx="251.8" cy="258.7" r="5.05"/>
<circle cx="251.8" cy="224.1" r="5.05"/>
<circle cx="251.8" cy="246.2" r="5.05"/>
<circle cx="251.9" cy="214.1" r="5.05"/>
<circle cx="251.2" cy="208.3" r="5.05"/>
<circle cx="251.9" cy="287.3" r="5.05"/>
<circle cx="251.8" cy="238.2" r="5.05"/>
<circle cx="252.0" cy="275.8" r="5.05"/>
<circle cx="262.1" cy="203.0" r="5.05"/>
<circle cx="262.1" cy="232.0" r="5.05"/>
<circle cx="262.2" cy="210.5" r="5.05"/>
<circle cx="261.9" cy="215.2" r="5.05"/>
<circle cx="261.9" cy="215.5" r="5.05"/>
<circle cx="262.3" cy="230.1" r="5.05"/>
<circle cx="261.6" cy="219.5" r="5.05"/>
<circle cx="261.5" cy="206.4" r="5.05"/>
<circle cx="262.5" cy="219.7" r="5.05"/>
<circle cx="262.6" cy="215.9" r="5.05"/>
<circle cx="261.5" cy="214.2" r="5.05"/>
<circle cx="262.1" cy="232.0" r="5.05"/>
<circle cx="262.1" cy="309.6" r="5.05"/>
<circle cx="262.2" cy="304.8" r="5.05"/>
<circle cx="262.7" cy="268.9" r="5.05"/>
<circle cx="262.0" cy="239.9" r="5.05"/>
<circle cx="262.3" cy="248.5" r="5.05"/>
<circle cx="261.7" cy="233.2" r="5.05"/>
<circle cx="261.5" cy="285.1" r="5.05"/>
<circle cx="261.6" cy="307.0" r="5.05"/>
<circle cx="261.6" cy="299.5" r="5.05"/>
<circle cx="261.7" cy="233.4" r="5.05"/>
<circle cx="262.4" cy="250.8" r="5.05"/>
<circle cx="262.4" cy="246.5" r="5.05"/>
<circle cx="261.6" cy="292.1" r="5.05"/>
<circle cx="262.4" cy="298.4" r="5.05"/>
<circle cx="262.4" cy="238.5" r="5.05"/>
<circle cx="262.3" cy="287.0" r="5.05"/>
<circle cx="262.1" cy="304.4" r="5.05"/>
<circle cx="261.8" cy="306.8" r="5.05"/>
<circle cx="262.4" cy="232.9" r="5.05"/>
<circle cx="261.5" cy="282.5" r="5.05"/>
<circle cx="262.5" cy="238.2" r="5.05"/>
<circle cx="261.9" cy="288.6" r="5.05"/>
<circle cx="261.7" cy="298.8" r="5.05"/>
<circle cx="262.1" cy="236.6" r="5.05"/>
<circle cx="261.9" cy="276.6" r="5.05"/>
<circle cx="262.0" cy="284.5" r="5.05"/>
<circle cx="261.7" cy="293.9" r="5.05"/>
<circle cx="261.9" cy="282.0" r="5.05"/>
<circle cx="262.3" cy="264.4" r="5.05"/>
<circle cx="262.0" cy="293.0" r="5.05"/>
<circle cx="262.6" cy="292.9" r="5.05"/>
<circle cx="262.2" cy="254.7" r="5.05"/>
<circle cx="261.6" cy="307.6" r="5.05"/>
<circle cx="262.3" cy="296.2" r="5.05"/>
<circle cx="261.9" cy="279.0" r="5.05"/>
<circle cx="262.7" cy="296.5" r="5.05"/>
<circle cx="262.2" cy="255.9" r="5.05"/>
<circle cx="262.0" cy="300.9" r="5.05"/>
<circle cx="262.0" cy="285.1" r="5.05"/>
<circle cx="272.6" cy="205.0" r="5.05"/>
<circle cx="272.6" cy="232.0" r="5.05"/>
<circle cx="272.7" cy="229.2" r="5.05"/>
<circle cx="273.0" cy="212.6" r="5.05"/>
<circle cx="272.0" cy="212.1" r="5.05"/>
<circle cx="272.5" cy="220.8" r="5.05"/>
<circle cx="273.0" cy="229.0" r="5.05"/>
<circle cx="272.1" cy="227.5" r="5.05"/>
<circle cx="273.0" cy="228.4" r="5.05"/>
<circle cx="272.7" cy="212.4" r="5.05"/>
<circle cx="273.0" cy="226.8" r="5.05"/>
<circle cx="272.6" cy="232.0" r="5.05"/>
<circle cx="272.6" cy="300.0" r="5.05"/>
<circle cx="272.8" cy="294.1" r="5.05"/>
<circle cx="272.4" cy="237.8" r="5.05"/>
<circle cx="272.7" cy="286.2" r="5.05"/>
<circle cx="272.2" cy="283.0" r="5.05"/>
<circle cx="273.1" cy="247.9" r="5.05"/>
<circle cx="272.7" cy="278.1" r="5.05"/>
<circle cx="272.6" cy="246.0" r="5.05"/>
<circle cx="272.3" cy="283.1" r="5.05"/>
<circle cx="272.9" cy="263.3" r="5.05"/>
<circle cx="272.1" cy="286.8" r="5.05"/>
<circle cx="272.9" cy="247.8" r="5.05"/>
<circle cx="272.7" cy="293.0" r="5.05"/>
<circle cx="273.1" cy="267.5" r="5.05"/>
<circle cx="272.6" cy="272.1" r="5.05"/>
<circle cx="272.2" cy="245.1" r="5.05"/>
<circle cx="272.2" cy="279.7" r="5.05"/>
<circle cx="272.4" cy="270.4" r="5.05"/>
<circle cx="272.5" cy="267.2" r="5.05"/>
<circle cx="272.2" cy="235.0" r="5.05"/>
<circle cx="273.2" cy="257.4" r="5.05"/>
<circle cx="272.1" cy="275.0" r="5.05"/>
<circle cx="272.9" cy="242.6" r="5.05"/>
<circle cx="272.7" cy="255.5" r="5.05"/>
<circle cx="272.6" cy="233.4" r="5.05"/>
<circle cx="272.0" cy="299.3" r="5.05"/>
<circle cx="273.0" cy="265.1" r="5.05"/>
<circle cx="272.7" cy="249.8" r="5.05"/>
<circle cx="272.9" cy="261.0" r="5.05"/>
<circle cx="273.1" cy="284.2" r="5.05"/>
<circle cx="273.0" cy="297.5" r="5.05"/>
<circle cx="272.3" cy="234.6" r="5.05"/>
<circle cx="272.2" cy="244.3" r="5.05"/>
<circle cx="272.1" cy="235.5" r="5.05"/>
<circle cx="285.5" cy="177.0" r="5.05"/>
<circle cx="285.5" cy="337.0" r="5.05"/>
<circle cx="285.6" cy="316.3" r="5.05"/>
<circle cx="285.4" cy="328.6" r="5.05"/>
<circle cx="286.0" cy="187.3" r="5.05"/>
<circle cx="285.6" cy="240.6" r="5.05"/>
<circle cx="285.0" cy="330.5" r="5.05"/>
<circle cx="285.2" cy="267.3" r="5.05"/>
<circle cx="285.7" cy="330.0" r="5.05"/>
<circle cx="285.7" cy="239.9" r="5.05"/>
<circle cx="285.4" cy="202.6" r="5.05"/>
<circle cx="286.1" cy="335.7" r="5.05"/>
<circle cx="285.2" cy="183.2" r="5.05"/>
<circle cx="285.2" cy="233.3" r="5.05"/>
<circle cx="286.0" cy="321.7" r="5.05"/>
<circle cx="285.9" cy="184.5" r="5.05"/>
<circle cx="285.8" cy="290.5" r="5.05"/>
<circle cx="285.7" cy="334.7" r="5.05"/>
<circle cx="285.0" cy="200.2" r="5.05"/>
<circle cx="285.8" cy="327.3" r="5.05"/>
<circle cx="285.7" cy="224.8" r="5.05"/>
<circle cx="285.6" cy="298.3" r="5.05"/>
<circle cx="285.0" cy="228.8" r="5.05"/>
<circle cx="285.2" cy="196.9" r="5.05"/>
<circle cx="285.5" cy="204.0" r="5.05"/>
<circle cx="285.2" cy="199.9" r="5.05"/>
<circle cx="285.7" cy="179.0" r="5.05"/>
<circle cx="285.8" cy="208.2" r="5.05"/>
<circle cx="284.9" cy="325.4" r="5.05"/>
<circle cx="285.2" cy="326.4" r="5.05"/>
<circle cx="285.9" cy="319.2" r="5.05"/>
<circle cx="285.1" cy="248.6" r="5.05"/>
<circle cx="285.0" cy="325.6" r="5.05"/>
<circle cx="285.9" cy="277.5" r="5.05"/>
<circle cx="285.4" cy="231.4" r="5.05"/>
<circle cx="285.9" cy="253.4" r="5.05"/>
<circle cx="285.7" cy="199.8" r="5.05"/>
<circle cx="285.2" cy="186.1" r="5.05"/>
<circle cx="285.8" cy="265.5" r="5.05"/>
<circle cx="285.1" cy="316.3" r="5.05"/>
<circle cx="285.2" cy="242.9" r="5.05"/>
<circle cx="285.1" cy="220.4" r="5.05"/>
<circle cx="285.9" cy="230.5" r="5.05"/>
<circle cx="285.1" cy="255.6" r="5.05"/>
<circle cx="285.3" cy="321.5" r="5.05"/>
<circle cx="285.0" cy="333.6" r="5.05"/>
<circle cx="285.0" cy="320.2" r="5.05"/>
<circle cx="285.7" cy="210.8" r="5.05"/>
<circle cx="285.5" cy="222.8" r="5.05"/>
<circle cx="285.2" cy="209.3" r="5.05"/>
<circle cx="285.3" cy="335.6" r="5.05"/>
<circle cx="286.1" cy="325.0" r="5.05"/>
<circle cx="285.0" cy="223.3" r="5.05"/>
<circle cx="286.0" cy="186.2" r="5.05"/>
<circle cx="285.8" cy="224.0" r="5.05"/>
<circle cx="286.1" cy="179.6" r="5.05"/>
<circle cx="285.9" cy="231.5" r="5.05"/>
<circle cx="285.1" cy="177.3" r="5.05"/>
<circle cx="285.9" cy="261.3" r="5.05"/>
<circle cx="285.1" cy="246.6" r="5.05"/>
<circle cx="286.0" cy="211.9" r="5.05"/>
<circle cx="285.6" cy="199.1" r="5.05"/>
<circle cx="285.1" cy="300.3" r="5.05"/>
<circle cx="285.8" cy="208.5" r="5.05"/>
<circle cx="285.0" cy="191.0" r="5.05"/>
<circle cx="285.6" cy="256.3" r="5.05"/>
<circle cx="285.2" cy="210.0" r="5.05"/>
<circle cx="285.6" cy="290.2" r="5.05"/>
<circle cx="285.9" cy="270.3" r="5.05"/>
<circle cx="285.1" cy="187.5" r="5.05"/>
<circle cx="285.8" cy="242.3" r="5.05"/>
<circle cx="285.8" cy="185.9" r="5.05"/>
<circle cx="285.9" cy="230.6" r="5.05"/>
<circle cx="285.9" cy="315.3" r="5.05"/>
<circle cx="285.5" cy="179.5" r="5.05"/>
<circle cx="286.0" cy="253.3" r="5.05"/>
<circle cx="285.9" cy="219.6" r="5.05"/>
<circle cx="285.1" cy="310.1" r="5.05"/>
<circle cx="285.3" cy="203.2" r="5.05"/>
<circle cx="285.3" cy="272.2" r="5.05"/>
<circle cx="284.9" cy="260.2" r="5.05"/>
<circle cx="285.4" cy="259.5" r="5.05"/>
<circle cx="285.0" cy="291.3" r="5.05"/>
<circle cx="285.9" cy="315.5" r="5.05"/>
<circle cx="285.3" cy="290.8" r="5.05"/>
<circle cx="285.4" cy="297.2" r="5.05"/>
<circle cx="285.0" cy="316.6" r="5.05"/>
<circle cx="286.0" cy="256.2" r="5.05"/>
<circle cx="285.5" cy="261.9" r="5.05"/>
<circle cx="285.5" cy="180.3" r="5.05"/>
<circle cx="286.1" cy="212.8" r="5.05"/>
<circle cx="285.1" cy="193.4" r="5.05"/>
<circle cx="285.2" cy="307.7" r="5.05"/>
<circle cx="284.9" cy="192.4" r="5.05"/>
<circle cx="285.7" cy="208.2" r="5.05"/>
<circle cx="284.9" cy="272.9" r="5.05"/>
<circle cx="285.6" cy="260.7" r="5.05"/>
<circle cx="285.7" cy="193.5" r="5.05"/>
<circle cx="285.9" cy="291.7" r="5.05"/>
<circle cx="285.0" cy="196.7" r="5.05"/>
<circle cx="285.5" cy="257.1" r="5.05"/>
<circle cx="290.0" cy="177.0" r="5.05"/>
<circle cx="290.0" cy="337.0" r="5.05"/>
<circle cx="289.7" cy="196.5" r="5.05"/>
<circle cx="289.9" cy="198.9" r="5.05"/>
<circle cx="290.1" cy="314.8" r="5.05"/>
<circle cx="289.6" cy="268.7" r="5.05"/>
<circle cx="290.3" cy="203.3" r="5.05"/>
<circle cx="290.4" cy="327.0" r="5.05"/>
<circle cx="289.9" cy="244.3" r="5.05"/>
<circle cx="290.4" cy="261.1" r="5.05"/>
<circle cx="289.9" cy="327.6" r="5.05"/>
<circle cx="290.3" cy="231.2" r="5.05"/>
<circle cx="289.7" cy="230.6" r="5.05"/>
<circle cx="289.9" cy="334.0" r="5.05"/>
<circle cx="290.4" cy="323.0" r="5.05"/>
<circle cx="290.4" cy="312.6" r="5.05"/>
<circle cx="289.5" cy="259.8" r="5.05"/>
<circle cx="290.5" cy="326.5" r="5.05"/>
<circle cx="289.7" cy="244.5" r="5.05"/>
<circle cx="290.2" cy="235.3" r="5.05"/>
<circle cx="290.0" cy="188.1" r="5.05"/>
<circle cx="289.9" cy="257.8" r="5.05"/>
<circle cx="289.4" cy="199.3" r="5.05"/>
<circle cx="290.6" cy="301.3" r="5.05"/>
<circle cx="290.5" cy="278.3" r="5.05"/>
<circle cx="290.4" cy="318.5" r="5.05"/>
<circle cx="290.5" cy="182.5" r="5.05"/>
<circle cx="290.2" cy="219.5" r="5.05"/>
<circle cx="290.2" cy="220.7" r="5.05"/>
<circle cx="290.1" cy="324.9" r="5.05"/>
<circle cx="290.1" cy="217.1" r="5.05"/>
<circle cx="290.0" cy="246.4" r="5.05"/>
<circle cx="290.5" cy="223.0" r="5.05"/>
<circle cx="289.8" cy="280.6" r="5.05"/>
<circle cx="289.5" cy="272.1" r="5.05"/>
<circle cx="290.5" cy="259.2" r="5.05"/>
<circle cx="289.7" cy="251.6" r="5.05"/>
<circle cx="290.0" cy="200.7" r="5.05"/>
<circle cx="289.5" cy="198.0" r="5.05"/>
<circle cx="289.8" cy="242.0" r="5.05"/>
<circle cx="289.7" cy="215.9" r="5.05"/>
<circle cx="289.5" cy="264.4" r="5.05"/>
<circle cx="290.4" cy="274.6" r="5.05"/>
<circle cx="290.1" cy="281.1" r="5.05"/>
<circle cx="289.6" cy="290.7" r="5.05"/>
<circle cx="290.0" cy="264.7" r="5.05"/>
<circle cx="290.1" cy="252.0" r="5.05"/>
<circle cx="289.8" cy="215.8" r="5.05"/>
<circle cx="289.7" cy="259.0" r="5.05"/>
<circle cx="289.9" cy="270.7" r="5.05"/>
<circle cx="289.4" cy="233.4" r="5.05"/>
<circle cx="290.4" cy="215.2" r="5.05"/>
<circle cx="290.1" cy="255.6" r="5.05"/>
<circle cx="289.7" cy="335.0" r="5.05"/>
<circle cx="289.8" cy="300.5" r="5.05"/>
<circle cx="289.6" cy="187.7" r="5.05"/>
<circle cx="290.4" cy="247.4" r="5.05"/>
<circle cx="289.5" cy="239.1" r="5.05"/>
<circle cx="289.9" cy="294.7" r="5.05"/>
<circle cx="289.5" cy="213.0" r="5.05"/>
<circle cx="290.6" cy="295.2" r="5.05"/>
<circle cx="289.6" cy="230.9" r="5.05"/>
<circle cx="289.8" cy="285.1" r="5.05"/>
<circle cx="290.1" cy="313.0" r="5.05"/>
<circle cx="290.4" cy="259.8" r="5.05"/>
<circle cx="290.3" cy="295.9" r="5.05"/>
<circle cx="290.3" cy="253.0" r="5.05"/>
<circle cx="290.3" cy="290.4" r="5.05"/>
<circle cx="290.5" cy="197.4" r="5.05"/>
<circle cx="290.4" cy="177.7" r="5.05"/>
<circle cx="290.3" cy="270.7" r="5.05"/>
<circle cx="290.0" cy="331.0" r="5.05"/>
<circle cx="290.1" cy="243.9" r="5.05"/>
<circle cx="290.3" cy="316.6" r="5.05"/>
<circle cx="290.1" cy="237.7" r="5.05"/>
<circle cx="289.9" cy="250.3" r="5.05"/>
<circle cx="290.3" cy="223.9" r="5.05"/>
<circle cx="289.9" cy="265.9" r="5.05"/>
<circle cx="289.9" cy="228.5" r="5.05"/>
<circle cx="290.3" cy="312.9" r="5.05"/>
<circle cx="290.0" cy="248.0" r="5.05"/>
<circle cx="289.6" cy="225.6" r="5.05"/>
<circle cx="289.6" cy="269.1" r="5.05"/>
<circle cx="290.1" cy="191.1" r="5.05"/>
<circle cx="290.5" cy="228.8" r="5.05"/>
<circle cx="290.4" cy="311.1" r="5.05"/>
<circle cx="290.6" cy="209.7" r="5.05"/>
<circle cx="289.9" cy="322.7" r="5.05"/>
<circle cx="289.4" cy="184.6" r="5.05"/>
<circle cx="290.1" cy="256.6" r="5.05"/>
<circle cx="290.5" cy="300.8" r="5.05"/>
<circle cx="290.0" cy="336.7" r="5.05"/>
<circle cx="290.0" cy="259.8" r="5.05"/>
<circle cx="290.2" cy="239.3" r="5.05"/>
<circle cx="289.8" cy="272.2" r="5.05"/>
<circle cx="289.8" cy="328.7" r="5.05"/>
<circle cx="290.2" cy="261.0" r="5.05"/>
<circle cx="289.5" cy="236.9" r="5.05"/>
<circle cx="289.9" cy="266.8" r="5.05"/>
<circle cx="290.1" cy="317.8" r="5.05"/>
<circle cx="290.6" cy="254.9" r="5.05"/>
<circle cx="295.8" cy="181.7" r="5.05"/>
<circle cx="295.8" cy="330.0" r="5.05"/>
<circle cx="295.7" cy="274.3" r="5.05"/>
<circle cx="296.4" cy="232.6" r="5.05"/>
<circle cx="295.8" cy="302.7" r="5.05"/>
<circle cx="295.4" cy="228.9" r="5.05"/>
<circle cx="296.4" cy="304.2" r="5.05"/>
<circle cx="295.8" cy="198.1" r="5.05"/>
<circle cx="296.3" cy="284.0" r="5.05"/>
<circle cx="296.2" cy="328.6" r="5.05"/>
<circle cx="296.3" cy="244.1" r="5.05"/>
<circle cx="295.4" cy="224.7" r="5.05"/>
<circle cx="295.8" cy="256.6" r="5.05"/>
<circle cx="295.4" cy="208.8" r="5.05"/>
<circle cx="296.0" cy="271.1" r="5.05"/>
<circle cx="295.6" cy="329.1" r="5.05"/>
<circle cx="296.0" cy="188.0" r="5.05"/>
<circle cx="295.7" cy="298.5" r="5.05"/>
<circle cx="295.6" cy="284.1" r="5.05"/>
<circle cx="295.2" cy="226.9" r="5.05"/>
<circle cx="296.2" cy="268.6" r="5.05"/>
<circle cx="296.0" cy="210.9" r="5.05"/>
<circle cx="295.8" cy="263.7" r="5.05"/>
<circle cx="295.5" cy="277.6" r="5.05"/>
<circle cx="295.8" cy="329.6" r="5.05"/>
<circle cx="295.9" cy="242.7" r="5.05"/>
<circle cx="295.3" cy="204.9" r="5.05"/>
<circle cx="296.1" cy="197.5" r="5.05"/>
<circle cx="295.3" cy="207.0" r="5.05"/>
<circle cx="295.8" cy="303.8" r="5.05"/>
<circle cx="295.9" cy="301.3" r="5.05"/>
<circle cx="295.3" cy="183.6" r="5.05"/>
<circle cx="296.1" cy="229.6" r="5.05"/>
<circle cx="296.1" cy="234.2" r="5.05"/>
<circle cx="295.4" cy="221.2" r="5.05"/>
<circle cx="295.3" cy="315.7" r="5.05"/>
<circle cx="295.9" cy="233.4" r="5.05"/>
<circle cx="295.7" cy="238.9" r="5.05"/>
<circle cx="295.3" cy="313.8" r="5.05"/>
<circle cx="295.9" cy="324.0" r="5.05"/>
<circle cx="295.7" cy="273.7" r="5.05"/>
<circle cx="295.5" cy="188.2" r="5.05"/>
<circle cx="296.3" cy="308.5" r="5.05"/>
<circle cx="295.6" cy="315.0" r="5.05"/>
<circle cx="296.2" cy="226.7" r="5.05"/>
<circle cx="295.9" cy="324.1" r="5.05"/>
<circle cx="295.8" cy="322.5" r="5.05"/>
<circle cx="295.5" cy="239.5" r="5.05"/>
<circle cx="296.1" cy="214.5" r="5.05"/>
<circle cx="295.6" cy="311.5" r="5.05"/>
<circle cx="295.8" cy="299.3" r="5.05"/>
<circle cx="295.5" cy="207.4" r="5.05"/>
<circle cx="295.6" cy="209.4" r="5.05"/>
<circle cx="296.4" cy="224.8" r="5.05"/>
<circle cx="295.9" cy="198.7" r="5.05"/>
<circle cx="295.8" cy="238.9" r="5.05"/>
<circle cx="295.7" cy="191.4" r="5.05"/>
<circle cx="295.3" cy="304.2" r="5.05"/>
<circle cx="295.6" cy="218.0" r="5.05"/>
<circle cx="295.4" cy="223.8" r="5.05"/>
<circle cx="295.5" cy="186.9" r="5.05"/>
<circle cx="296.0" cy="232.3" r="5.05"/>
<circle cx="295.4" cy="286.4" r="5.05"/>
<circle cx="295.3" cy="221.7" r="5.05"/>
<circle cx="296.2" cy="200.7" r="5.05"/>
<circle cx="295.7" cy="305.7" r="5.05"/>
<circle cx="296.2" cy="205.3" r="5.05"/>
<circle cx="295.6" cy="288.8" r="5.05"/>
<circle cx="295.7" cy="323.8" r="5.05"/>
<circle cx="295.4" cy="322.7" r="5.05"/>
<circle cx="295.8" cy="215.4" r="5.05"/>
<circle cx="295.7" cy="201.1" r="5.05"/>
<circle cx="296.0" cy="220.4" r="5.05"/>
<circle cx="296.3" cy="268.8" r="5.05"/>
<circle cx="295.6" cy="218.2" r="5.05"/>
<circle cx="295.9" cy="213.2" r="5.05"/>
<circle cx="296.2" cy="199.9" r="5.05"/>
<circle cx="295.8" cy="262.2" r="5.05"/>
<circle cx="295.5" cy="296.1" r="5.05"/>
<circle cx="295.7" cy="279.2" r="5.05"/>
<circle cx="295.9" cy="227.8" r="5.05"/>
<circle cx="295.7" cy="194.5" r="5.05"/>
<circle cx="295.4" cy="307.9" r="5.05"/>
<circle cx="295.6" cy="280.0" r="5.05"/>
<circle cx="295.3" cy="265.0" r="5.05"/>
<circle cx="295.6" cy="255.9" r="5.05"/>
<circle cx="295.6" cy="191.5" r="5.05"/>
<circle cx="295.6" cy="215.3" r="5.05"/>
<circle cx="295.4" cy="288.0" r="5.05"/>
<circle cx="295.5" cy="241.5" r="5.05"/>
<circle cx="296.3" cy="296.6" r="5.05"/>
<circle cx="296.3" cy="309.4" r="5.05"/>
<circle cx="295.4" cy="222.7" r="5.05"/>
<circle cx="295.2" cy="282.5" r="5.05"/>
<circle cx="301.6" cy="171.5" r="5.05"/>
<circle cx="301.6" cy="324.0" r="5.05"/>
<circle cx="301.8" cy="225.1" r="5.05"/>
<circle cx="301.5" cy="272.0" r="5.05"/>
<circle cx="301.8" cy="209.4" r="5.05"/>
<circle cx="302.0" cy="225.2" r="5.05"/>
<circle cx="301.8" cy="199.2" r="5.05"/>
<circle cx="301.1" cy="310.7" r="5.05"/>
<circle cx="301.9" cy="280.2" r="5.05"/>
<circle cx="301.0" cy="177.6" r="5.05"/>
<circle cx="301.2" cy="201.7" r="5.05"/>
<circle cx="301.4" cy="229.6" r="5.05"/>
<circle cx="301.0" cy="218.9" r="5.05"/>
<circle cx="301.8" cy="198.9" r="5.05"/>
<circle cx="302.0" cy="258.5" r="5.05"/>
<circle cx="301.9" cy="210.3" r="5.05"/>
<circle cx="301.5" cy="275.9" r="5.05"/>
<circle cx="301.4" cy="171.6" r="5.05"/>
<circle cx="302.0" cy="289.9" r="5.05"/>
<circle cx="301.3" cy="178.1" r="5.05"/>
<circle cx="302.0" cy="264.1" r="5.05"/>
<circle cx="301.1" cy="208.8" r="5.05"/>
<circle cx="301.1" cy="292.2" r="5.05"/>
<circle cx="301.3" cy="311.0" r="5.05"/>
<circle cx="301.9" cy="184.6" r="5.05"/>
<circle cx="301.8" cy="231.5" r="5.05"/>
<circle cx="301.9" cy="297.9" r="5.05"/>
<circle cx="301.3" cy="185.2" r="5.05"/>
<circle cx="302.1" cy="236.2" r="5.05"/>
<circle cx="302.1" cy="277.0" r="5.05"/>
<circle cx="301.9" cy="298.1" r="5.05"/>
<circle cx="301.8" cy="240.5" r="5.05"/>
<circle cx="301.1" cy="278.0" r="5.05"/>
<circle cx="301.5" cy="249.6" r="5.05"/>
<circle cx="302.1" cy="191.0" r="5.05"/>
<circle cx="301.9" cy="178.2" r="5.05"/>
<circle cx="301.8" cy="294.4" r="5.05"/>
<circle cx="301.3" cy="254.8" r="5.05"/>
<circle cx="302.2" cy="268.7" r="5.05"/>
<circle cx="301.7" cy="209.6" r="5.05"/>
<circle cx="301.1" cy="226.1" r="5.05"/>
<circle cx="301.5" cy="202.2" r="5.05"/>
<circle cx="301.4" cy="192.3" r="5.05"/>
<circle cx="301.8" cy="273.7" r="5.05"/>
<circle cx="301.3" cy="208.4" r="5.05"/>
<circle cx="301.6" cy="239.4" r="5.05"/>
<circle cx="302.1" cy="225.1" r="5.05"/>
<circle cx="301.4" cy="306.4" r="5.05"/>
<circle cx="301.2" cy="257.4" r="5.05"/>
<circle cx="301.4" cy="295.8" r="5.05"/>
<circle cx="301.7" cy="287.5" r="5.05"/>
<circle cx="301.2" cy="273.1" r="5.05"/>
<circle cx="301.7" cy="241.8" r="5.05"/>
<circle cx="301.9" cy="298.3" r="5.05"/>
<circle cx="301.1" cy="215.6" r="5.05"/>
<circle cx="301.4" cy="203.0" r="5.05"/>
<circle cx="301.1" cy="214.3" r="5.05"/>
<circle cx="301.2" cy="278.5" r="5.05"/>
<circle cx="301.5" cy="188.7" r="5.05"/>
<circle cx="301.4" cy="243.0" r="5.05"/>
<circle cx="301.4" cy="197.1" r="5.05"/>
<circle cx="301.1" cy="173.1" r="5.05"/>
<circle cx="302.2" cy="285.9" r="5.05"/>
<circle cx="301.1" cy="280.9" r="5.05"/>
<circle cx="302.2" cy="257.5" r="5.05"/>
<circle cx="301.1" cy="246.1" r="5.05"/>
<circle cx="301.5" cy="200.4" r="5.05"/>
<circle cx="301.7" cy="172.8" r="5.05"/>
<circle cx="302.1" cy="269.8" r="5.05"/>
<circle cx="301.8" cy="314.1" r="5.05"/>
<circle cx="301.8" cy="209.8" r="5.05"/>
<circle cx="301.3" cy="192.6" r="5.05"/>
<circle cx="301.0" cy="289.6" r="5.05"/>
<circle cx="302.0" cy="216.7" r="5.05"/>
<circle cx="301.2" cy="268.8" r="5.05"/>
<circle cx="302.0" cy="312.8" r="5.05"/>
<circle cx="301.2" cy="291.2" r="5.05"/>
<circle cx="302.0" cy="284.7" r="5.05"/>
<circle cx="301.4" cy="199.6" r="5.05"/>
<circle cx="302.0" cy="220.3" r="5.05"/>
<circle cx="301.4" cy="255.5" r="5.05"/>
<circle cx="301.4" cy="298.3" r="5.05"/>
<circle cx="301.3" cy="177.8" r="5.05"/>
<circle cx="301.7" cy="267.3" r="5.05"/>
<circle cx="302.0" cy="279.1" r="5.05"/>
<circle cx="302.1" cy="315.6" r="5.05"/>
<circle cx="301.6" cy="247.7" r="5.05"/>
<circle cx="301.2" cy="217.2" r="5.05"/>
<circle cx="301.7" cy="183.7" r="5.05"/>
<circle cx="301.8" cy="196.5" r="5.05"/>
<circle cx="301.5" cy="319.4" r="5.05"/>
<circle cx="301.1" cy="177.6" r="5.05"/>
<circle cx="301.5" cy="200.6" r="5.05"/>
<circle cx="301.9" cy="171.9" r="5.05"/>
<circle cx="302.0" cy="301.9" r="5.05"/>
<circle cx="301.9" cy="236.4" r="5.05"/>
<circle cx="303.0" cy="189.0" r="5.05"/>
<circle cx="303.0" cy="317.0" r="5.05"/>
<circle cx="302.7" cy="273.7" r="5.05"/>
<circle cx="303.0" cy="242.9" r="5.05"/>
<circle cx="302.8" cy="245.2" r="5.05"/>
<circle cx="303.2" cy="294.7" r="5.05"/>
<circle cx="303.5" cy="210.1" r="5.05"/>
<circle cx="302.8" cy="245.7" r="5.05"/>
<circle cx="303.1" cy="233.6" r="5.05"/>
<circle cx="302.6" cy="199.9" r="5.05"/>
<circle cx="302.8" cy="247.9" r="5.05"/>
<circle cx="303.6" cy="305.3" r="5.05"/>
<circle cx="303.4" cy="313.7" r="5.05"/>
<circle cx="303.6" cy="268.3" r="5.05"/>
<circle cx="303.4" cy="196.7" r="5.05"/>
<circle cx="303.2" cy="267.0" r="5.05"/>
<circle cx="302.8" cy="262.1" r="5.05"/>
<circle cx="303.5" cy="250.5" r="5.05"/>
<circle cx="303.2" cy="227.3" r="5.05"/>
<circle cx="302.8" cy="302.3" r="5.05"/>
<circle cx="302.4" cy="213.2" r="5.05"/>
<circle cx="303.2" cy="246.3" r="5.05"/>
<circle cx="302.5" cy="273.5" r="5.05"/>
<circle cx="302.8" cy="263.3" r="5.05"/>
<circle cx="302.9" cy="256.8" r="5.05"/>
<circle cx="303.1" cy="239.7" r="5.05"/>
<circle cx="302.5" cy="212.1" r="5.05"/>
<circle cx="303.5" cy="259.2" r="5.05"/>
<circle cx="302.5" cy="299.4" r="5.05"/>
<circle cx="302.7" cy="201.2" r="5.05"/>
<circle cx="303.0" cy="221.2" r="5.05"/>
<circle cx="303.0" cy="259.9" r="5.05"/>
<circle cx="302.7" cy="262.3" r="5.05"/>
<circle cx="302.5" cy="254.7" r="5.05"/>
<circle cx="303.1" cy="199.3" r="5.05"/>
<circle cx="302.9" cy="198.4" r="5.05"/>
<circle cx="302.9" cy="299.5" r="5.05"/>
<circle cx="303.1" cy="280.5" r="5.05"/>
<circle cx="303.3" cy="203.7" r="5.05"/>
<circle cx="303.6" cy="281.4" r="5.05"/>
<circle cx="302.5" cy="295.3" r="5.05"/>
<circle cx="302.9" cy="210.9" r="5.05"/>
<circle cx="303.6" cy="261.1" r="5.05"/>
<circle cx="303.3" cy="206.5" r="5.05"/>
<circle cx="303.3" cy="196.4" r="5.05"/>
<circle cx="302.7" cy="236.7" r="5.05"/>
<circle cx="302.4" cy="265.1" r="5.05"/>
<circle cx="302.7" cy="227.4" r="5.05"/>
<circle cx="303.2" cy="243.5" r="5.05"/>
<circle cx="303.5" cy="268.5" r="5.05"/>
<circle cx="303.4" cy="261.1" r="5.05"/>
<circle cx="303.5" cy="300.5" r="5.05"/>
<circle cx="302.6" cy="284.4" r="5.05"/>
<circle cx="302.8" cy="286.7" r="5.05"/>
<circle cx="303.2" cy="294.7" r="5.05"/>
<circle cx="302.5" cy="236.7" r="5.05"/>
<circle cx="303.3" cy="310.3" r="5.05"/>
<circle cx="303.3" cy="194.6" r="5.05"/>
<circle cx="303.1" cy="201.8" r="5.05"/>
<circle cx="303.1" cy="291.8" r="5.05"/>
<circle cx="302.5" cy="307.4" r="5.05"/>
<circle cx="303.2" cy="221.6" r="5.05"/>
<circle cx="302.6" cy="246.2" r="5.05"/>
<circle cx="303.4" cy="263.4" r="5.05"/>
<circle cx="302.5" cy="191.7" r="5.05"/>
<circle cx="311.8" cy="139.0" r="5.05"/>
<circle cx="311.8" cy="337.5" r="5.05"/>
<circle cx="311.3" cy="297.9" r="5.05"/>
<circle cx="311.4" cy="249.0" r="5.05"/>
<circle cx="311.5" cy="275.4" r="5.05"/>
<circle cx="311.7" cy="167.6" r="5.05"/>
<circle cx="312.3" cy="245.9" r="5.05"/>
<circle cx="312.0" cy="299.4" r="5.05"/>
<circle cx="312.3" cy="141.7" r="5.05"/>
<circle cx="311.6" cy="169.0" r="5.05"/>
<circle cx="311.8" cy="312.3" r="5.05"/>
<circle cx="312.2" cy="146.0" r="5.05"/>
<circle cx="311.4" cy="301.4" r="5.05"/>
<circle cx="312.0" cy="216.9" r="5.05"/>
<circle cx="311.8" cy="170.4" r="5.05"/>
<circle cx="312.2" cy="217.1" r="5.05"/>
<circle cx="312.2" cy="260.3" r="5.05"/>
<circle cx="311.3" cy="204.4" r="5.05"/>
<circle cx="311.5" cy="316.5" r="5.05"/>
<circle cx="311.9" cy="147.7" r="5.05"/>
<circle cx="311.4" cy="210.7" r="5.05"/>
<circle cx="311.8" cy="253.5" r="5.05"/>
<circle cx="311.7" cy="209.2" r="5.05"/>
<circle cx="311.2" cy="254.0" r="5.05"/>
<circle cx="311.6" cy="143.1" r="5.05"/>
<circle cx="311.8" cy="334.8" r="5.05"/>
<circle cx="311.3" cy="167.9" r="5.05"/>
<circle cx="312.0" cy="193.1" r="5.05"/>
<circle cx="311.5" cy="238.3" r="5.05"/>
<circle cx="311.5" cy="251.9" r="5.05"/>
<circle cx="311.8" cy="329.0" r="5.05"/>
<circle cx="312.4" cy="145.8" r="5.05"/>
<circle cx="311.9" cy="292.0" r="5.05"/>
<circle cx="312.2" cy="292.7" r="5.05"/>
<circle cx="312.0" cy="265.0" r="5.05"/>
<circle cx="311.6" cy="194.9" r="5.05"/>
<circle cx="312.2" cy="312.3" r="5.05"/>
<circle cx="312.3" cy="274.2" r="5.05"/>
<circle cx="311.6" cy="290.5" r="5.05"/>
<circle cx="312.1" cy="240.0" r="5.05"/>
<circle cx="312.0" cy="208.6" r="5.05"/>
<circle cx="311.9" cy="219.6" r="5.05"/>
<circle cx="311.3" cy="205.9" r="5.05"/>
<circle cx="311.6" cy="335.2" r="5.05"/>
<circle cx="311.8" cy="211.9" r="5.05"/>
<circle cx="311.5" cy="185.6" r="5.05"/>
<circle cx="311.6" cy="165.9" r="5.05"/>
<circle cx="311.2" cy="311.9" r="5.05"/>
<circle cx="311.7" cy="227.4" r="5.05"/>
<circle cx="311.9" cy="199.0" r="5.05"/>
<circle cx="311.4" cy="152.2" r="5.05"/>
<circle cx="311.6" cy="200.2" r="5.05"/>
<circle cx="312.1" cy="248.4" r="5.05"/>
<circle cx="312.3" cy="206.6" r="5.05"/>
<circle cx="312.3" cy="254.8" r="5.05"/>
<circle cx="311.3" cy="174.5" r="5.05"/>
<circle cx="311.9" cy="335.0" r="5.05"/>
<circle cx="311.6" cy="292.7" r="5.05"/>
<circle cx="311.7" cy="311.4" r="5.05"/>
<circle cx="311.3" cy="235.2" r="5.05"/>
<circle cx="312.3" cy="193.8" r="5.05"/>
<circle cx="311.5" cy="143.6" r="5.05"/>
<circle cx="311.4" cy="192.2" r="5.05"/>
<circle cx="312.0" cy="182.3" r="5.05"/>
<circle cx="311.7" cy="178.8" r="5.05"/>
<circle cx="311.9" cy="310.5" r="5.05"/>
<circle cx="312.0" cy="178.0" r="5.05"/>
<circle cx="312.1" cy="330.2" r="5.05"/>
<circle cx="311.9" cy="154.7" r="5.05"/>
<circle cx="312.2" cy="312.8" r="5.05"/>
<circle cx="311.6" cy="166.1" r="5.05"/>
<circle cx="311.4" cy="245.6" r="5.05"/>
<circle cx="312.3" cy="266.0" r="5.05"/>
<circle cx="312.3" cy="181.1" r="5.05"/>
<circle cx="311.6" cy="287.7" r="5.05"/>
<circle cx="312.0" cy="219.5" r="5.05"/>
<circle cx="312.0" cy="206.0" r="5.05"/>
<circle cx="311.3" cy="221.2" r="5.05"/>
<circle cx="311.3" cy="263.3" r="5.05"/>
<circle cx="311.6" cy="237.1" r="5.05"/>
<circle cx="311.9" cy="190.0" r="5.05"/>
<circle cx="311.8" cy="141.7" r="5.05"/>
<circle cx="312.3" cy="251.0" r="5.05"/>
<circle cx="312.4" cy="150.1" r="5.05"/>
<circle cx="311.9" cy="282.7" r="5.05"/>
<circle cx="311.6" cy="157.5" r="5.05"/>
<circle cx="311.4" cy="167.3" r="5.05"/>
<circle cx="312.1" cy="156.8" r="5.05"/>
<circle cx="312.2" cy="223.0" r="5.05"/>
<circle cx="311.8" cy="255.8" r="5.05"/>
<circle cx="311.9" cy="269.5" r="5.05"/>
<circle cx="311.9" cy="204.7" r="5.05"/>
<circle cx="312.1" cy="190.2" r="5.05"/>
<circle cx="312.1" cy="290.5" r="5.05"/>
<circle cx="312.1" cy="200.4" r="5.05"/>
<circle cx="312.1" cy="333.0" r="5.05"/>
<circle cx="311.7" cy="194.2" r="5.05"/>
<circle cx="311.8" cy="325.8" r="5.05"/>
<circle cx="311.4" cy="140.8" r="5.05"/>
<circle cx="311.8" cy="269.1" r="5.05"/>
<circle cx="312.1" cy="211.0" r="5.05"/>
<circle cx="312.4" cy="184.3" r="5.05"/>
<circle cx="312.1" cy="156.8" r="5.05"/>
<circle cx="311.2" cy="165.6" r="5.05"/>
<circle cx="311.3" cy="238.6" r="5.05"/>
<circle cx="311.9" cy="175.1" r="5.05"/>
<circle cx="312.3" cy="211.6" r="5.05"/>
<circle cx="311.4" cy="174.2" r="5.05"/>
<circle cx="312.1" cy="321.9" r="5.05"/>
<circle cx="311.4" cy="144.8" r="5.05"/>
<circle cx="312.1" cy="187.2" r="5.05"/>
<circle cx="312.4" cy="238.0" r="5.05"/>
<circle cx="312.0" cy="207.3" r="5.05"/>
<circle cx="312.2" cy="230.3" r="5.05"/>
<circle cx="311.6" cy="318.3" r="5.05"/>
<circle cx="311.3" cy="284.6" r="5.05"/>
<circle cx="311.3" cy="267.1" r="5.05"/>
<circle cx="311.7" cy="310.5" r="5.05"/>
<circle cx="311.3" cy="251.0" r="5.05"/>
<circle cx="311.7" cy="321.4" r="5.05"/>
<circle cx="312.3" cy="263.5" r="5.05"/>
<circle cx="311.5" cy="189.0" r="5.05"/>
<circle cx="311.5" cy="225.1" r="5.05"/>
<circle cx="311.5" cy="179.3" r="5.05"/>
<circle cx="312.1" cy="266.6" r="5.05"/>
<circle cx="320.6" cy="148.0" r="5.05"/>
<circle cx="320.6" cy="337.0" r="5.05"/>
<circle cx="320.4" cy="335.9" r="5.05"/>
<circle cx="320.3" cy="255.6" r="5.05"/>
<circle cx="320.2" cy="311.1" r="5.05"/>
<circle cx="321.0" cy="198.5" r="5.05"/>
<circle cx="320.9" cy="303.5" r="5.05"/>
<circle cx="320.3" cy="210.7" r="5.05"/>
<circle cx="320.6" cy="316.4" r="5.05"/>
<circle cx="320.2" cy="277.0" r="5.05"/>
<circle cx="320.7" cy="233.6" r="5.05"/>
<circle cx="320.7" cy="314.9" r="5.05"/>
<circle cx="320.3" cy="315.0" r="5.05"/>
<circle cx="320.4" cy="295.4" r="5.05"/>
<circle cx="321.0" cy="182.5" r="5.05"/>
<circle cx="321.0" cy="336.0" r="5.05"/>
<circle cx="320.4" cy="152.6" r="5.05"/>
<circle cx="320.1" cy="332.1" r="5.05"/>
<circle cx="320.0" cy="320.3" r="5.05"/>
<circle cx="320.2" cy="287.1" r="5.05"/>
<circle cx="320.1" cy="179.9" r="5.05"/>
<circle cx="320.8" cy="165.1" r="5.05"/>
<circle cx="320.4" cy="321.6" r="5.05"/>
<circle cx="320.9" cy="314.7" r="5.05"/>
<circle cx="321.2" cy="154.2" r="5.05"/>
<circle cx="320.3" cy="297.7" r="5.05"/>
<circle cx="320.8" cy="155.2" r="5.05"/>
<circle cx="320.6" cy="191.8" r="5.05"/>
<circle cx="320.5" cy="167.8" r="5.05"/>
<circle cx="320.0" cy="335.3" r="5.05"/>
<circle cx="320.4" cy="314.1" r="5.05"/>
<circle cx="320.1" cy="240.1" r="5.05"/>
<circle cx="320.2" cy="229.0" r="5.05"/>
<circle cx="320.2" cy="277.5" r="5.05"/>
<circle cx="320.2" cy="287.5" r="5.05"/>
<circle cx="320.6" cy="169.2" r="5.05"/>
<circle cx="320.4" cy="241.8" r="5.05"/>
<circle cx="321.1" cy="214.0" r="5.05"/>
<circle cx="320.3" cy="330.9" r="5.05"/>
<circle cx="321.1" cy="286.2" r="5.05"/>
<circle cx="320.3" cy="181.5" r="5.05"/>
<circle cx="320.3" cy="161.0" r="5.05"/>
<circle cx="320.1" cy="244.2" r="5.05"/>
<circle cx="320.5" cy="253.2" r="5.05"/>
<circle cx="320.4" cy="150.0" r="5.05"/>
<circle cx="320.8" cy="271.4" r="5.05"/>
<circle cx="320.7" cy="251.7" r="5.05"/>
<circle cx="320.8" cy="333.7" r="5.05"/>
<circle cx="321.0" cy="283.7" r="5.05"/>
<circle cx="320.5" cy="208.2" r="5.05"/>
<circle cx="320.5" cy="331.9" r="5.05"/>
<circle cx="320.5" cy="220.8" r="5.05"/>
<circle cx="320.5" cy="175.0" r="5.05"/>
<circle cx="321.2" cy="149.0" r="5.05"/>
<circle cx="320.7" cy="323.1" r="5.05"/>
<circle cx="320.3" cy="263.5" r="5.05"/>
<circle cx="320.5" cy="193.5" r="5.05"/>
<circle cx="320.2" cy="170.0" r="5.05"/>
<circle cx="321.0" cy="296.2" r="5.05"/>
<circle cx="321.1" cy="157.4" r="5.05"/>
<circle cx="320.8" cy="209.3" r="5.05"/>
<circle cx="320.8" cy="251.8" r="5.05"/>
<circle cx="320.4" cy="331.6" r="5.05"/>
<circle cx="320.0" cy="289.0" r="5.05"/>
<circle cx="321.0" cy="244.4" r="5.05"/>
<circle cx="320.7" cy="336.0" r="5.05"/>
<circle cx="320.3" cy="267.0" r="5.05"/>
<circle cx="320.9" cy="219.6" r="5.05"/>
<circle cx="320.9" cy="222.4" r="5.05"/>
<circle cx="320.6" cy="263.8" r="5.05"/>
<circle cx="320.8" cy="208.9" r="5.05"/>
<circle cx="320.8" cy="250.6" r="5.05"/>
<circle cx="320.3" cy="263.8" r="5.05"/>
<circle cx="320.3" cy="319.8" r="5.05"/>
<circle cx="320.6" cy="284.4" r="5.05"/>
<circle cx="320.6" cy="238.1" r="5.05"/>
<circle cx="320.3" cy="174.9" r="5.05"/>
<circle cx="321.1" cy="247.9" r="5.05"/>
<circle cx="320.6" cy="247.7" r="5.05"/>
<circle cx="321.0" cy="193.1" r="5.05"/>
<circle cx="320.2" cy="303.3" r="5.05"/>
<circle cx="320.6" cy="269.1" r="5.05"/>
<circle cx="321.0" cy="317.0" r="5.05"/>
<circle cx="321.0" cy="156.2" r="5.05"/>
<circle cx="320.5" cy="305.3" r="5.05"/>
<circle cx="321.0" cy="171.3" r="5.05"/>
<circle cx="320.2" cy="195.5" r="5.05"/>
<circle cx="320.1" cy="215.4" r="5.05"/>
<circle cx="321.0" cy="246.5" r="5.05"/>
<circle cx="320.5" cy="164.6" r="5.05"/>
<circle cx="320.5" cy="336.4" r="5.05"/>
<circle cx="320.8" cy="232.9" r="5.05"/>
<circle cx="320.6" cy="298.9" r="5.05"/>
<circle cx="320.9" cy="176.3" r="5.05"/>
<circle cx="320.8" cy="217.3" r="5.05"/>
<circle cx="320.6" cy="192.9" r="5.05"/>
<circle cx="320.4" cy="212.3" r="5.05"/>
<circle cx="320.5" cy="151.4" r="5.05"/>
<circle cx="320.2" cy="255.8" r="5.05"/>
<circle cx="320.1" cy="181.7" r="5.05"/>
<circle cx="320.9" cy="199.9" r="5.05"/>
<circle cx="320.4" cy="193.7" r="5.05"/>
<circle cx="321.0" cy="165.3" r="5.05"/>
<circle cx="320.8" cy="310.3" r="5.05"/>
<circle cx="320.2" cy="228.0" r="5.05"/>
<circle cx="321.0" cy="264.8" r="5.05"/>
<circle cx="320.4" cy="156.3" r="5.05"/>
<circle cx="320.5" cy="217.4" r="5.05"/>
<circle cx="320.9" cy="203.8" r="5.05"/>
<circle cx="320.5" cy="270.5" r="5.05"/>
<circle cx="321.0" cy="214.6" r="5.05"/>
<circle cx="320.5" cy="257.4" r="5.05"/>
<circle cx="321.1" cy="184.2" r="5.05"/>
<circle cx="321.2" cy="282.5" r="5.05"/>
<circle cx="320.4" cy="273.8" r="5.05"/>
<circle cx="320.4" cy="161.4" r="5.05"/>
<circle cx="320.9" cy="219.7" r="5.05"/>
<circle cx="320.6" cy="241.9" r="5.05"/>
<circle cx="321.1" cy="291.1" r="5.05"/>
<circle cx="329.4" cy="149.5" r="5.05"/>
<circle cx="329.4" cy="323.5" r="5.05"/>
<circle cx="328.8" cy="252.6" r="5.05"/>
<circle cx="329.4" cy="229.9" r="5.05"/>
<circle cx="329.8" cy="221.7" r="5.05"/>
<circle cx="329.4" cy="304.4" r="5.05"/>
<circle cx="329.3" cy="235.0" r="5.05"/>
<circle cx="329.4" cy="293.0" r="5.05"/>
<circle cx="329.6" cy="278.3" r="5.05"/>
<circle cx="329.3" cy="156.6" r="5.05"/>
<circle cx="329.6" cy="245.9" r="5.05"/>
<circle cx="329.7" cy="283.5" r="5.05"/>
<circle cx="328.9" cy="187.9" r="5.05"/>
<circle cx="328.9" cy="291.7" r="5.05"/>
<circle cx="328.9" cy="164.9" r="5.05"/>
<circle cx="329.7" cy="247.7" r="5.05"/>
<circle cx="328.9" cy="268.0" r="5.05"/>
<circle cx="329.7" cy="233.5" r="5.05"/>
<circle cx="328.9" cy="269.7" r="5.05"/>
<circle cx="329.3" cy="251.1" r="5.05"/>
<circle cx="330.0" cy="291.6" r="5.05"/>
<circle cx="329.8" cy="174.8" r="5.05"/>
<circle cx="329.2" cy="239.7" r="5.05"/>
<circle cx="328.8" cy="321.5" r="5.05"/>
<circle cx="329.1" cy="195.1" r="5.05"/>
<circle cx="329.2" cy="193.9" r="5.05"/>
<circle cx="329.8" cy="246.2" r="5.05"/>
<circle cx="329.4" cy="222.6" r="5.05"/>
<circle cx="328.9" cy="202.5" r="5.05"/>
<circle cx="329.8" cy="289.0" r="5.05"/>
<circle cx="329.8" cy="194.2" r="5.05"/>
<circle cx="329.0" cy="158.6" r="5.05"/>
<circle cx="329.4" cy="214.5" r="5.05"/>
<circle cx="329.4" cy="234.6" r="5.05"/>
<circle cx="329.5" cy="213.1" r="5.05"/>
<circle cx="329.8" cy="184.3" r="5.05"/>
<circle cx="329.9" cy="246.3" r="5.05"/>
<circle cx="328.9" cy="204.2" r="5.05"/>
<circle cx="329.4" cy="220.7" r="5.05"/>
<circle cx="329.5" cy="205.8" r="5.05"/>
<circle cx="329.1" cy="288.0" r="5.05"/>
<circle cx="329.1" cy="273.1" r="5.05"/>
<circle cx="329.8" cy="252.5" r="5.05"/>
<circle cx="329.3" cy="312.2" r="5.05"/>
<circle cx="329.3" cy="302.3" r="5.05"/>
<circle cx="328.9" cy="225.0" r="5.05"/>
<circle cx="329.6" cy="158.0" r="5.05"/>
<circle cx="329.8" cy="162.0" r="5.05"/>
<circle cx="329.5" cy="180.8" r="5.05"/>
<circle cx="329.9" cy="247.1" r="5.05"/>
<circle cx="329.8" cy="236.2" r="5.05"/>
<circle cx="329.6" cy="266.9" r="5.05"/>
<circle cx="329.2" cy="186.2" r="5.05"/>
<circle cx="329.8" cy="174.9" r="5.05"/>
<circle cx="329.9" cy="185.5" r="5.05"/>
<circle cx="328.9" cy="166.1" r="5.05"/>
<circle cx="329.7" cy="315.0" r="5.05"/>
<circle cx="329.3" cy="264.1" r="5.05"/>
<circle cx="329.1" cy="307.1" r="5.05"/>
<circle cx="329.6" cy="176.4" r="5.05"/>
<circle cx="328.9" cy="270.6" r="5.05"/>
<circle cx="328.9" cy="295.0" r="5.05"/>
<circle cx="329.2" cy="190.0" r="5.05"/>
<circle cx="329.5" cy="205.0" r="5.05"/>
<circle cx="329.5" cy="176.3" r="5.05"/>
<circle cx="329.9" cy="205.9" r="5.05"/>
<circle cx="329.8" cy="175.9" r="5.05"/>
<circle cx="329.8" cy="320.0" r="5.05"/>
<circle cx="329.3" cy="155.2" r="5.05"/>
<circle cx="329.3" cy="261.0" r="5.05"/>
<circle cx="329.1" cy="244.5" r="5.05"/>
<circle cx="328.9" cy="230.3" r="5.05"/>
<circle cx="329.7" cy="224.3" r="5.05"/>
<circle cx="329.6" cy="169.4" r="5.05"/>
<circle cx="329.8" cy="170.8" r="5.05"/>
<circle cx="329.9" cy="322.8" r="5.05"/>
<circle cx="329.9" cy="241.1" r="5.05"/>
<circle cx="329.1" cy="210.0" r="5.05"/>
<circle cx="329.7" cy="235.9" r="5.05"/>
<circle cx="329.9" cy="165.7" r="5.05"/>
<circle cx="329.4" cy="299.8" r="5.05"/>
<circle cx="329.5" cy="243.6" r="5.05"/>
<circle cx="328.9" cy="173.8" r="5.05"/>
<circle cx="329.1" cy="304.9" r="5.05"/>
<circle cx="329.8" cy="189.0" r="5.05"/>
<circle cx="329.9" cy="155.1" r="5.05"/>
<circle cx="329.5" cy="317.8" r="5.05"/>
<circle cx="329.2" cy="313.8" r="5.05"/>
<circle cx="329.6" cy="158.2" r="5.05"/>
<circle cx="329.2" cy="227.7" r="5.05"/>
<circle cx="329.1" cy="278.7" r="5.05"/>
<circle cx="329.0" cy="286.6" r="5.05"/>
<circle cx="329.2" cy="161.6" r="5.05"/>
<circle cx="329.5" cy="166.1" r="5.05"/>
<circle cx="329.5" cy="286.6" r="5.05"/>
<circle cx="329.5" cy="229.8" r="5.05"/>
<circle cx="328.8" cy="238.8" r="5.05"/>
<circle cx="328.9" cy="262.0" r="5.05"/>
<circle cx="329.0" cy="250.1" r="5.05"/>
<circle cx="329.2" cy="214.7" r="5.05"/>
<circle cx="329.6" cy="178.0" r="5.05"/>
<circle cx="329.0" cy="313.3" r="5.05"/>
<circle cx="329.2" cy="296.1" r="5.05"/>
<circle cx="329.8" cy="233.1" r="5.05"/>
<circle cx="329.0" cy="165.9" r="5.05"/>
<circle cx="329.9" cy="169.9" r="5.05"/>
<circle cx="329.4" cy="242.8" r="5.05"/>
<circle cx="328.9" cy="230.9" r="5.05"/>
<circle cx="329.0" cy="242.7" r="5.05"/>
<circle cx="329.4" cy="213.3" r="5.05"/>
<circle cx="337.5" cy="178.8" r="5.05"/>
<circle cx="337.5" cy="306.0" r="5.05"/>
<circle cx="337.1" cy="230.2" r="5.05"/>
<circle cx="337.1" cy="195.0" r="5.05"/>
<circle cx="337.2" cy="289.7" r="5.05"/>
<circle cx="337.5" cy="292.1" r="5.05"/>
<circle cx="336.9" cy="298.8" r="5.05"/>
<circle cx="337.5" cy="279.4" r="5.05"/>
<circle cx="337.6" cy="266.4" r="5.05"/>
<circle cx="337.2" cy="274.2" r="5.05"/>
<circle cx="337.1" cy="212.4" r="5.05"/>
<circle cx="336.9" cy="228.8" r="5.05"/>
<circle cx="337.5" cy="215.9" r="5.05"/>
<circle cx="338.0" cy="189.5" r="5.05"/>
<circle cx="337.6" cy="208.6" r="5.05"/>
<circle cx="337.6" cy="278.5" r="5.05"/>
<circle cx="337.8" cy="186.7" r="5.05"/>
<circle cx="337.2" cy="255.0" r="5.05"/>
<circle cx="338.1" cy="184.0" r="5.05"/>
<circle cx="337.6" cy="266.8" r="5.05"/>
<circle cx="337.9" cy="222.3" r="5.05"/>
<circle cx="337.9" cy="237.5" r="5.05"/>
<circle cx="338.0" cy="180.2" r="5.05"/>
<circle cx="338.0" cy="231.2" r="5.05"/>
<circle cx="337.4" cy="190.0" r="5.05"/>
<circle cx="337.2" cy="272.1" r="5.05"/>
<circle cx="337.7" cy="198.0" r="5.05"/>
<circle cx="337.3" cy="196.7" r="5.05"/>
<circle cx="337.1" cy="206.7" r="5.05"/>
<circle cx="337.3" cy="302.9" r="5.05"/>
<circle cx="338.1" cy="279.5" r="5.05"/>
<circle cx="337.5" cy="242.1" r="5.05"/>
<circle cx="337.8" cy="294.3" r="5.05"/>
<circle cx="337.8" cy="259.7" r="5.05"/>
<circle cx="337.1" cy="258.3" r="5.05"/>
<circle cx="337.9" cy="278.9" r="5.05"/>
<circle cx="337.0" cy="270.1" r="5.05"/>
<circle cx="337.3" cy="199.4" r="5.05"/>
<circle cx="338.1" cy="264.4" r="5.05"/>
<circle cx="337.8" cy="196.0" r="5.05"/>
<circle cx="337.9" cy="298.0" r="5.05"/>
<circle cx="338.0" cy="273.6" r="5.05"/>
<circle cx="337.9" cy="280.8" r="5.05"/>
<circle cx="337.6" cy="234.2" r="5.05"/>
<circle cx="337.9" cy="278.6" r="5.05"/>
<circle cx="337.9" cy="216.8" r="5.05"/>
<circle cx="338.1" cy="246.4" r="5.05"/>
<circle cx="338.0" cy="193.5" r="5.05"/>
<circle cx="338.1" cy="279.0" r="5.05"/>
<circle cx="337.2" cy="285.4" r="5.05"/>
<circle cx="337.2" cy="204.0" r="5.05"/>
<circle cx="337.4" cy="208.9" r="5.05"/>
<circle cx="337.5" cy="294.3" r="5.05"/>
<circle cx="337.7" cy="269.2" r="5.05"/>
<circle cx="337.4" cy="278.5" r="5.05"/>
<circle cx="337.9" cy="265.7" r="5.05"/>
<circle cx="338.0" cy="283.8" r="5.05"/>
<circle cx="337.4" cy="189.9" r="5.05"/>
<circle cx="337.7" cy="285.2" r="5.05"/>
<circle cx="337.3" cy="254.5" r="5.05"/>
<circle cx="337.9" cy="279.7" r="5.05"/>
<circle cx="336.9" cy="241.0" r="5.05"/>
<circle cx="336.9" cy="192.9" r="5.05"/>
<circle cx="337.9" cy="232.1" r="5.05"/>
<circle cx="337.6" cy="237.0" r="5.05"/>
<circle cx="337.3" cy="206.0" r="5.05"/>
<circle cx="337.3" cy="286.2" r="5.05"/>
<circle cx="337.6" cy="216.0" r="5.05"/>
<circle cx="337.0" cy="213.3" r="5.05"/>
<circle cx="337.7" cy="235.0" r="5.05"/>
<circle cx="337.7" cy="281.5" r="5.05"/>
<circle cx="337.0" cy="265.7" r="5.05"/>
<circle cx="336.9" cy="283.5" r="5.05"/>
<circle cx="337.1" cy="213.3" r="5.05"/>
<circle cx="338.0" cy="224.9" r="5.05"/>
<circle cx="337.2" cy="292.0" r="5.05"/>
<circle cx="337.6" cy="292.5" r="5.05"/>
<circle cx="337.4" cy="242.4" r="5.05"/>
<circle cx="338.0" cy="243.3" r="5.05"/>
<circle cx="338.1" cy="202.9" r="5.05"/>
<circle cx="337.9" cy="199.4" r="5.05"/>
<circle cx="348.4" cy="187.6" r="5.05"/>
<circle cx="348.4" cy="310.0" r="5.05"/>
<circle cx="348.4" cy="187.6" r="5.05"/>
<circle cx="348.0" cy="303.3" r="5.05"/>
<circle cx="348.3" cy="286.7" r="5.05"/>
<circle cx="348.1" cy="230.7" r="5.05"/>
<circle cx="347.9" cy="255.2" r="5.05"/>
<circle cx="348.8" cy="250.5" r="5.05"/>
<circle cx="348.3" cy="301.3" r="5.05"/>
<circle cx="348.9" cy="269.2" r="5.05"/>
<circle cx="347.9" cy="264.0" r="5.05"/>
<circle cx="348.3" cy="304.8" r="5.05"/>
<circle cx="348.2" cy="268.5" r="5.05"/>
<circle cx="348.6" cy="233.6" r="5.05"/>
<circle cx="348.4" cy="270.4" r="5.05"/>
<circle cx="348.9" cy="248.6" r="5.05"/>
<circle cx="348.2" cy="307.1" r="5.05"/>
<circle cx="347.9" cy="289.8" r="5.05"/>
<circle cx="348.6" cy="255.8" r="5.05"/>
<circle cx="348.3" cy="279.5" r="5.05"/>
<circle cx="348.9" cy="276.8" r="5.05"/>
<circle cx="348.7" cy="191.9" r="5.05"/>
<circle cx="348.2" cy="204.4" r="5.05"/>
<circle cx="348.9" cy="296.7" r="5.05"/>
<circle cx="348.0" cy="259.5" r="5.05"/>
<circle cx="348.5" cy="193.3" r="5.05"/>
<circle cx="348.3" cy="279.1" r="5.05"/>
<circle cx="348.6" cy="222.0" r="5.05"/>
<circle cx="348.7" cy="223.2" r="5.05"/>
<circle cx="348.5" cy="239.1" r="5.05"/>
<circle cx="349.0" cy="267.0" r="5.05"/>
<circle cx="348.8" cy="270.4" r="5.05"/>
<circle cx="348.3" cy="305.5" r="5.05"/>
<circle cx="348.7" cy="272.2" r="5.05"/>
<circle cx="348.1" cy="207.4" r="5.05"/>
<circle cx="348.5" cy="288.7" r="5.05"/>
<circle cx="348.8" cy="230.1" r="5.05"/>
<circle cx="348.0" cy="250.8" r="5.05"/>
<circle cx="348.9" cy="207.4" r="5.05"/>
<circle cx="348.7" cy="208.5" r="5.05"/>
<circle cx="348.2" cy="194.1" r="5.05"/>
<circle cx="348.2" cy="234.5" r="5.05"/>
<circle cx="349.0" cy="305.4" r="5.05"/>
<circle cx="348.0" cy="225.5" r="5.05"/>
<circle cx="348.9" cy="211.8" r="5.05"/>
<circle cx="348.2" cy="241.2" r="5.05"/>
<circle cx="347.9" cy="219.4" r="5.05"/>
<circle cx="348.3" cy="234.8" r="5.05"/>
<circle cx="349.0" cy="220.3" r="5.05"/>
<circle cx="348.0" cy="298.8" r="5.05"/>
<circle cx="348.3" cy="290.1" r="5.05"/>
<circle cx="348.6" cy="282.9" r="5.05"/>
<circle cx="348.2" cy="206.2" r="5.05"/>
<circle cx="348.7" cy="245.2" r="5.05"/>
<circle cx="348.5" cy="269.7" r="5.05"/>
<circle cx="348.7" cy="221.3" r="5.05"/>
<circle cx="348.2" cy="299.9" r="5.05"/>
<circle cx="348.4" cy="222.9" r="5.05"/>
<circle cx="348.6" cy="219.4" r="5.05"/>
<circle cx="348.7" cy="192.7" r="5.05"/>
<circle cx="348.8" cy="256.9" r="5.05"/>
<circle cx="348.2" cy="302.6" r="5.05"/>
<circle cx="348.1" cy="217.4" r="5.05"/>
<circle cx="347.9" cy="254.7" r="5.05"/>
<circle cx="348.7" cy="270.6" r="5.05"/>
<circle cx="348.3" cy="286.5" r="5.05"/>
<circle cx="347.9" cy="225.2" r="5.05"/>
<circle cx="348.6" cy="306.0" r="5.05"/>
<circle cx="348.6" cy="272.3" r="5.05"/>
<circle cx="348.7" cy="235.9" r="5.05"/>
<circle cx="348.9" cy="278.5" r="5.05"/>
<circle cx="348.2" cy="235.7" r="5.05"/>
<circle cx="348.8" cy="230.4" r="5.05"/>
<circle cx="348.0" cy="294.3" r="5.05"/>
<circle cx="348.4" cy="251.4" r="5.05"/>
<circle cx="348.6" cy="297.9" r="5.05"/>
<circle cx="348.0" cy="229.1" r="5.05"/>
<circle cx="358.0" cy="203.7" r="5.05"/>
<circle cx="358.0" cy="300.0" r="5.05"/>
<circle cx="357.5" cy="243.5" r="5.05"/>
<circle cx="358.0" cy="285.7" r="5.05"/>
<circle cx="358.2" cy="259.3" r="5.05"/>
<circle cx="357.9" cy="258.9" r="5.05"/>
<circle cx="357.7" cy="285.1" r="5.05"/>
<circle cx="358.3" cy="284.4" r="5.05"/>
<circle cx="357.6" cy="268.4" r="5.05"/>
<circle cx="358.3" cy="251.9" r="5.05"/>
<circle cx="358.5" cy="290.3" r="5.05"/>
<circle cx="358.3" cy="282.8" r="5.05"/>
<circle cx="358.2" cy="288.3" r="5.05"/>
<circle cx="357.6" cy="271.5" r="5.05"/>
<circle cx="358.2" cy="262.7" r="5.05"/>
<circle cx="357.7" cy="210.2" r="5.05"/>
<circle cx="358.1" cy="283.1" r="5.05"/>
<circle cx="357.7" cy="224.2" r="5.05"/>
<circle cx="357.7" cy="212.7" r="5.05"/>
<circle cx="358.2" cy="297.6" r="5.05"/>
<circle cx="358.4" cy="238.3" r="5.05"/>
<circle cx="358.2" cy="210.7" r="5.05"/>
<circle cx="358.4" cy="235.0" r="5.05"/>
<circle cx="357.4" cy="264.3" r="5.05"/>
<circle cx="357.6" cy="230.2" r="5.05"/>
<circle cx="357.5" cy="246.6" r="5.05"/>
<circle cx="358.1" cy="281.5" r="5.05"/>
<circle cx="357.4" cy="283.4" r="5.05"/>
<circle cx="357.5" cy="225.3" r="5.05"/>
<circle cx="358.2" cy="236.5" r="5.05"/>
<circle cx="357.8" cy="258.4" r="5.05"/>
<circle cx="357.7" cy="280.1" r="5.05"/>
<circle cx="357.7" cy="284.5" r="5.05"/>
<circle cx="358.4" cy="255.4" r="5.05"/>
<circle cx="357.4" cy="278.6" r="5.05"/>
<circle cx="357.4" cy="252.3" r="5.05"/>
<circle cx="357.9" cy="209.8" r="5.05"/>
<circle cx="358.2" cy="273.5" r="5.05"/>
<circle cx="358.1" cy="242.2" r="5.05"/>
<circle cx="358.0" cy="260.4" r="5.05"/>
<circle cx="357.7" cy="287.3" r="5.05"/>
<circle cx="358.6" cy="281.1" r="5.05"/>
<circle cx="358.6" cy="235.4" r="5.05"/>
<circle cx="358.6" cy="210.6" r="5.05"/>
<circle cx="358.0" cy="216.6" r="5.05"/>
<circle cx="357.9" cy="269.4" r="5.05"/>
<circle cx="358.3" cy="247.5" r="5.05"/>
<circle cx="357.8" cy="222.0" r="5.05"/>
<circle cx="357.9" cy="230.9" r="5.05"/>
<circle cx="357.6" cy="274.6" r="5.05"/>
<circle cx="358.0" cy="245.9" r="5.05"/>
<circle cx="357.6" cy="271.5" r="5.05"/>
<circle cx="357.6" cy="229.3" r="5.05"/>
<circle cx="358.1" cy="271.2" r="5.05"/>
<circle cx="358.6" cy="275.7" r="5.05"/>
<circle cx="358.5" cy="292.3" r="5.05"/>
<circle cx="358.3" cy="273.0" r="5.05"/>
<circle cx="357.5" cy="223.5" r="5.05"/>
<circle cx="357.4" cy="286.9" r="5.05"/>
<circle cx="358.3" cy="264.4" r="5.05"/>
<circle cx="357.7" cy="237.9" r="5.05"/>
<circle cx="376.3" cy="205.0" r="5.05"/>
<circle cx="376.3" cy="305.0" r="5.05"/>
<circle cx="375.9" cy="268.2" r="5.05"/>
<circle cx="376.9" cy="235.6" r="5.05"/>
<circle cx="375.8" cy="222.5" r="5.05"/>
<circle cx="376.1" cy="294.9" r="5.05"/>
<circle cx="376.7" cy="250.5" r="5.05"/>
<circle cx="375.8" cy="215.7" r="5.05"/>
<circle cx="375.9" cy="282.7" r="5.05"/>
<circle cx="376.3" cy="304.1" r="5.05"/>
<circle cx="376.8" cy="284.5" r="5.05"/>
<circle cx="376.3" cy="287.2" r="5.05"/>
<circle cx="375.9" cy="215.9" r="5.05"/>
<circle cx="376.4" cy="255.8" r="5.05"/>
<circle cx="376.0" cy="230.2" r="5.05"/>
<circle cx="375.7" cy="295.9" r="5.05"/>
<circle cx="376.6" cy="299.5" r="5.05"/>
<circle cx="376.9" cy="248.7" r="5.05"/>
<circle cx="376.6" cy="243.4" r="5.05"/>
<circle cx="376.7" cy="289.1" r="5.05"/>
<circle cx="375.9" cy="206.3" r="5.05"/>
<circle cx="376.0" cy="263.5" r="5.05"/>
<circle cx="376.2" cy="205.9" r="5.05"/>
<circle cx="376.7" cy="283.6" r="5.05"/>
<circle cx="376.3" cy="209.3" r="5.05"/>
<circle cx="376.8" cy="258.4" r="5.05"/>
<circle cx="375.8" cy="237.3" r="5.05"/>
<circle cx="376.4" cy="293.5" r="5.05"/>
<circle cx="376.3" cy="268.9" r="5.05"/>
<circle cx="375.9" cy="229.3" r="5.05"/>
<circle cx="376.8" cy="243.3" r="5.05"/>
<circle cx="375.8" cy="264.1" r="5.05"/>
<circle cx="375.9" cy="225.0" r="5.05"/>
<circle cx="376.2" cy="263.6" r="5.05"/>
<circle cx="376.5" cy="275.7" r="5.05"/>
<circle cx="376.2" cy="211.8" r="5.05"/>
<circle cx="376.6" cy="210.4" r="5.05"/>
<circle cx="376.3" cy="245.0" r="5.05"/>
<circle cx="376.5" cy="276.4" r="5.05"/>
<circle cx="376.0" cy="270.0" r="5.05"/>
<circle cx="376.5" cy="252.2" r="5.05"/>
<circle cx="375.9" cy="295.9" r="5.05"/>
<circle cx="376.4" cy="211.3" r="5.05"/>
<circle cx="376.0" cy="303.7" r="5.05"/>
<circle cx="376.0" cy="244.2" r="5.05"/>
<circle cx="376.6" cy="287.4" r="5.05"/>
<circle cx="376.5" cy="279.2" r="5.05"/>
<circle cx="375.7" cy="214.4" r="5.05"/>
<circle cx="376.9" cy="285.3" r="5.05"/>
<circle cx="375.7" cy="209.9" r="5.05"/>
<circle cx="376.0" cy="298.1" r="5.05"/>
<circle cx="376.0" cy="272.2" r="5.05"/>
<circle cx="376.8" cy="268.9" r="5.05"/>
<circle cx="376.8" cy="231.3" r="5.05"/>
<circle cx="375.9" cy="206.8" r="5.05"/>
<circle cx="376.6" cy="215.4" r="5.05"/>
<circle cx="376.9" cy="276.0" r="5.05"/>
<circle cx="375.9" cy="285.7" r="5.05"/>
<circle cx="375.9" cy="256.2" r="5.05"/>
<circle cx="375.8" cy="283.7" r="5.05"/>
<circle cx="376.8" cy="296.6" r="5.05"/>
<circle cx="375.7" cy="290.1" r="5.05"/>
<circle cx="376.4" cy="287.1" r="5.05"/>
<circle cx="383.0" cy="230.0" r="5.05"/>
<circle cx="383.0" cy="305.0" r="5.05"/>
<circle cx="383.0" cy="276.5" r="5.05"/>
<circle cx="383.1" cy="290.0" r="5.05"/>
<circle cx="382.5" cy="234.1" r="5.05"/>
<circle cx="383.1" cy="251.8" r="5.05"/>
<circle cx="382.9" cy="230.6" r="5.05"/>
<circle cx="383.3" cy="231.8" r="5.05"/>
<circle cx="383.4" cy="290.9" r="5.05"/>
<circle cx="382.9" cy="239.2" r="5.05"/>
<circle cx="383.2" cy="245.5" r="5.05"/>
<circle cx="382.9" cy="238.3" r="5.05"/>
<circle cx="383.6" cy="271.0" r="5.05"/>
<circle cx="382.8" cy="237.1" r="5.05"/>
<circle cx="383.3" cy="293.7" r="5.05"/>
<circle cx="383.4" cy="237.6" r="5.05"/>
<circle cx="382.8" cy="252.7" r="5.05"/>
<circle cx="383.3" cy="241.1" r="5.05"/>
<circle cx="383.1" cy="303.4" r="5.05"/>
<circle cx="383.3" cy="230.5" r="5.05"/>
<circle cx="382.5" cy="238.5" r="5.05"/>
<circle cx="383.2" cy="274.9" r="5.05"/>
<circle cx="383.0" cy="264.2" r="5.05"/>
<circle cx="382.9" cy="275.8" r="5.05"/>
<circle cx="383.2" cy="298.7" r="5.05"/>
<circle cx="383.3" cy="289.7" r="5.05"/>
<circle cx="383.5" cy="292.8" r="5.05"/>
<circle cx="383.3" cy="232.3" r="5.05"/>
<circle cx="383.2" cy="293.7" r="5.05"/>
<circle cx="382.9" cy="295.9" r="5.05"/>
<circle cx="382.6" cy="300.7" r="5.05"/>
<circle cx="382.9" cy="283.0" r="5.05"/>
<circle cx="382.7" cy="252.5" r="5.05"/>
<circle cx="382.8" cy="254.3" r="5.05"/>
<circle cx="382.5" cy="263.2" r="5.05"/>
<circle cx="383.6" cy="279.1" r="5.05"/>
<circle cx="383.5" cy="287.2" r="5.05"/>
<circle cx="383.4" cy="304.6" r="5.05"/>
<circle cx="383.3" cy="250.6" r="5.05"/>
<circle cx="388.7" cy="154.0" r="5.05"/>
<circle cx="388.7" cy="298.0" r="5.05"/>
<circle cx="388.4" cy="213.4" r="5.05"/>
<circle cx="388.1" cy="187.2" r="5.05"/>
<circle cx="389.2" cy="286.6" r="5.05"/>
<circle cx="388.5" cy="264.9" r="5.05"/>
<circle cx="389.0" cy="282.1" r="5.05"/>
<circle cx="389.1" cy="230.6" r="5.05"/>
<circle cx="388.2" cy="272.9" r="5.05"/>
<circle cx="388.5" cy="244.3" r="5.05"/>
<circle cx="388.5" cy="231.4" r="5.05"/>
<circle cx="389.3" cy="177.2" r="5.05"/>
<circle cx="388.7" cy="247.6" r="5.05"/>
<circle cx="388.7" cy="289.1" r="5.05"/>
<circle cx="388.6" cy="285.6" r="5.05"/>
<circle cx="388.9" cy="293.3" r="5.05"/>
<circle cx="388.2" cy="184.6" r="5.05"/>
<circle cx="388.4" cy="284.5" r="5.05"/>
<circle cx="388.1" cy="191.5" r="5.05"/>
<circle cx="389.0" cy="296.5" r="5.05"/>
<circle cx="388.3" cy="217.1" r="5.05"/>
<circle cx="388.9" cy="253.5" r="5.05"/>
<circle cx="389.0" cy="262.5" r="5.05"/>
<circle cx="388.4" cy="191.0" r="5.05"/>
<circle cx="388.1" cy="253.5" r="5.05"/>
<circle cx="388.4" cy="191.4" r="5.05"/>
<circle cx="389.3" cy="246.6" r="5.05"/>
<circle cx="388.8" cy="248.5" r="5.05"/>
<circle cx="388.8" cy="254.1" r="5.05"/>
<circle cx="388.5" cy="163.2" r="5.05"/>
<circle cx="388.2" cy="156.1" r="5.05"/>
<circle cx="388.5" cy="174.5" r="5.05"/>
<circle cx="388.2" cy="225.1" r="5.05"/>
<circle cx="389.3" cy="253.0" r="5.05"/>
<circle cx="388.4" cy="264.8" r="5.05"/>
<circle cx="388.3" cy="168.4" r="5.05"/>
<circle cx="388.5" cy="212.9" r="5.05"/>
<circle cx="388.9" cy="218.1" r="5.05"/>
<circle cx="389.0" cy="167.7" r="5.05"/>
<circle cx="389.2" cy="203.3" r="5.05"/>
<circle cx="389.1" cy="158.4" r="5.05"/>
<circle cx="389.1" cy="186.6" r="5.05"/>
<circle cx="389.1" cy="269.6" r="5.05"/>
<circle cx="388.9" cy="194.0" r="5.05"/>
<circle cx="388.1" cy="181.4" r="5.05"/>
<circle cx="389.2" cy="176.8" r="5.05"/>
<circle cx="388.9" cy="238.5" r="5.05"/>
<circle cx="388.9" cy="180.0" r="5.05"/>
<circle cx="388.3" cy="168.0" r="5.05"/>
<circle cx="389.3" cy="209.2" r="5.05"/>
<circle cx="388.9" cy="236.0" r="5.05"/>
<circle cx="388.4" cy="163.3" r="5.05"/>
<circle cx="388.1" cy="276.8" r="5.05"/>
<circle cx="388.3" cy="292.7" r="5.05"/>
<circle cx="388.5" cy="258.1" r="5.05"/>
<circle cx="388.3" cy="267.5" r="5.05"/>
<circle cx="388.4" cy="206.7" r="5.05"/>
<circle cx="388.7" cy="170.1" r="5.05"/>
<circle cx="388.4" cy="268.6" r="5.05"/>
<circle cx="388.4" cy="208.8" r="5.05"/>
<circle cx="389.0" cy="186.3" r="5.05"/>
<circle cx="388.3" cy="185.5" r="5.05"/>
<circle cx="388.6" cy="206.6" r="5.05"/>
<circle cx="388.9" cy="221.9" r="5.05"/>
<circle cx="389.1" cy="161.3" r="5.05"/>
<circle cx="388.9" cy="274.4" r="5.05"/>
<circle cx="388.4" cy="158.2" r="5.05"/>
<circle cx="388.6" cy="170.7" r="5.05"/>
<circle cx="388.7" cy="256.5" r="5.05"/>
<circle cx="388.2" cy="171.0" r="5.05"/>
<circle cx="388.7" cy="179.0" r="5.05"/>
<circle cx="388.4" cy="217.4" r="5.05"/>
<circle cx="388.2" cy="163.8" r="5.05"/>
<circle cx="388.5" cy="221.6" r="5.05"/>
<circle cx="389.2" cy="233.9" r="5.05"/>
<circle cx="388.2" cy="186.0" r="5.05"/>
<circle cx="389.0" cy="235.1" r="5.05"/>
<circle cx="389.1" cy="292.6" r="5.05"/>
<circle cx="389.1" cy="169.8" r="5.05"/>
<circle cx="389.2" cy="229.6" r="5.05"/>
<circle cx="388.4" cy="178.6" r="5.05"/>
<circle cx="389.1" cy="184.6" r="5.05"/>
<circle cx="388.2" cy="192.2" r="5.05"/>
<circle cx="389.2" cy="220.4" r="5.05"/>
<circle cx="389.0" cy="164.7" r="5.05"/>
<circle cx="388.6" cy="199.8" r="5.05"/>
<circle cx="388.3" cy="249.5" r="5.05"/>
<circle cx="388.5" cy="171.2" r="5.05"/>
<circle cx="389.3" cy="223.3" r="5.05"/>
<circle cx="388.3" cy="155.6" r="5.05"/>
<circle cx="388.9" cy="228.1" r="5.05"/>
<circle cx="394.5" cy="190.5" r="5.05"/>
<circle cx="394.5" cy="290.0" r="5.05"/>
<circle cx="393.9" cy="237.3" r="5.05"/>
<circle cx="394.8" cy="243.9" r="5.05"/>
<circle cx="394.2" cy="240.2" r="5.05"/>
<circle cx="394.6" cy="255.3" r="5.05"/>
<circle cx="394.1" cy="270.5" r="5.05"/>
<circle cx="395.0" cy="264.2" r="5.05"/>
<circle cx="394.9" cy="227.1" r="5.05"/>
<circle cx="395.0" cy="208.6" r="5.05"/>
<circle cx="394.2" cy="250.0" r="5.05"/>
<circle cx="395.0" cy="198.7" r="5.05"/>
<circle cx="394.2" cy="194.1" r="5.05"/>
<circle cx="394.4" cy="204.5" r="5.05"/>
<circle cx="394.1" cy="265.0" r="5.05"/>
<circle cx="394.6" cy="284.0" r="5.05"/>
<circle cx="394.4" cy="258.1" r="5.05"/>
<circle cx="393.9" cy="284.9" r="5.05"/>
<circle cx="394.2" cy="238.0" r="5.05"/>
<circle cx="394.5" cy="284.9" r="5.05"/>
<circle cx="394.5" cy="289.2" r="5.05"/>
<circle cx="394.6" cy="212.0" r="5.05"/>
<circle cx="394.9" cy="210.6" r="5.05"/>
<circle cx="395.1" cy="235.9" r="5.05"/>
<circle cx="394.2" cy="286.1" r="5.05"/>
<circle cx="394.3" cy="231.0" r="5.05"/>
<circle cx="394.3" cy="257.0" r="5.05"/>
<circle cx="393.9" cy="227.7" r="5.05"/>
<circle cx="394.1" cy="272.9" r="5.05"/>
<circle cx="393.9" cy="251.0" r="5.05"/>
<circle cx="394.2" cy="235.7" r="5.05"/>
<circle cx="394.6" cy="261.3" r="5.05"/>
<circle cx="394.1" cy="214.4" r="5.05"/>
<circle cx="394.0" cy="286.0" r="5.05"/>
<circle cx="394.1" cy="204.1" r="5.05"/>
<circle cx="394.5" cy="248.4" r="5.05"/>
<circle cx="395.0" cy="196.2" r="5.05"/>
<circle cx="394.2" cy="207.2" r="5.05"/>
<circle cx="394.6" cy="235.5" r="5.05"/>
<circle cx="394.4" cy="278.9" r="5.05"/>
<circle cx="394.7" cy="276.1" r="5.05"/>
<circle cx="395.0" cy="217.3" r="5.05"/>
<circle cx="395.0" cy="231.1" r="5.05"/>
<circle cx="394.0" cy="281.5" r="5.05"/>
<circle cx="394.0" cy="192.2" r="5.05"/>
<circle cx="394.2" cy="219.3" r="5.05"/>
<circle cx="395.1" cy="277.1" r="5.05"/>
<circle cx="394.4" cy="243.2" r="5.05"/>
<circle cx="394.9" cy="270.8" r="5.05"/>
<circle cx="394.7" cy="241.5" r="5.05"/>
<circle cx="394.0" cy="214.8" r="5.05"/>
<circle cx="394.7" cy="248.8" r="5.05"/>
<circle cx="394.9" cy="279.9" r="5.05"/>
<circle cx="395.1" cy="209.7" r="5.05"/>
<circle cx="394.0" cy="279.8" r="5.05"/>
<circle cx="394.6" cy="208.6" r="5.05"/>
<circle cx="394.7" cy="215.9" r="5.05"/>
<circle cx="394.2" cy="226.9" r="5.05"/>
<circle cx="394.5" cy="257.9" r="5.05"/>
<circle cx="394.0" cy="264.3" r="5.05"/>
<circle cx="394.6" cy="237.4" r="5.05"/>
<circle cx="394.7" cy="270.1" r="5.05"/>
<circle cx="393.9" cy="237.8" r="5.05"/>
<circle cx="408.4" cy="193.5" r="5.05"/>
<circle cx="408.4" cy="256.4" r="5.05"/>
<circle cx="408.6" cy="238.1" r="5.05"/>
<circle cx="408.6" cy="204.8" r="5.05"/>
<circle cx="409.0" cy="242.9" r="5.05"/>
<circle cx="408.1" cy="220.6" r="5.05"/>
<circle cx="408.9" cy="206.5" r="5.05"/>
<circle cx="408.3" cy="254.0" r="5.05"/>
<circle cx="408.9" cy="208.1" r="5.05"/>
<circle cx="408.7" cy="216.1" r="5.05"/>
<circle cx="408.6" cy="241.7" r="5.05"/>
<circle cx="408.0" cy="207.5" r="5.05"/>
<circle cx="408.1" cy="210.2" r="5.05"/>
<circle cx="407.8" cy="202.1" r="5.05"/>
<circle cx="408.3" cy="220.0" r="5.05"/>
<circle cx="407.9" cy="230.1" r="5.05"/>
<circle cx="408.9" cy="229.8" r="5.05"/>
<circle cx="408.2" cy="237.8" r="5.05"/>
<circle cx="408.3" cy="204.5" r="5.05"/>
<circle cx="408.4" cy="194.6" r="5.05"/>
<circle cx="408.6" cy="203.6" r="5.05"/>
<circle cx="408.2" cy="254.0" r="5.05"/>
<circle cx="408.7" cy="246.1" r="5.05"/>
<circle cx="408.6" cy="233.4" r="5.05"/>
<circle cx="408.6" cy="254.3" r="5.05"/>
<circle cx="408.0" cy="241.7" r="5.05"/>
<circle cx="408.2" cy="209.6" r="5.05"/>
<circle cx="408.8" cy="231.3" r="5.05"/>
<circle cx="408.8" cy="248.5" r="5.05"/>
<circle cx="408.5" cy="206.0" r="5.05"/>
<circle cx="407.8" cy="227.1" r="5.05"/>
<circle cx="408.7" cy="210.6" r="5.05"/>
<circle cx="407.9" cy="193.8" r="5.05"/>
<circle cx="408.0" cy="237.3" r="5.05"/>
<circle cx="407.8" cy="208.0" r="5.05"/>
<circle cx="408.1" cy="238.2" r="5.05"/>
<circle cx="409.0" cy="194.7" r="5.05"/>
<circle cx="407.9" cy="252.3" r="5.05"/>
<circle cx="409.0" cy="202.8" r="5.05"/>
<circle cx="408.2" cy="226.4" r="5.05"/>
<circle cx="409.2" cy="268.0" r="5.05"/>
<circle cx="409.2" cy="296.0" r="5.05"/>
<circle cx="409.0" cy="279.7" r="5.05"/>
<circle cx="409.2" cy="275.2" r="5.05"/>
<circle cx="408.7" cy="270.3" r="5.05"/>
<circle cx="408.8" cy="270.6" r="5.05"/>
<circle cx="409.3" cy="287.5" r="5.05"/>
<circle cx="408.9" cy="290.2" r="5.05"/>
<circle cx="409.5" cy="277.6" r="5.05"/>
<circle cx="409.2" cy="273.3" r="5.05"/>
<circle cx="409.7" cy="283.7" r="5.05"/>
<circle cx="408.7" cy="272.3" r="5.05"/>
<circle cx="409.4" cy="278.8" r="5.05"/>
<circle cx="409.5" cy="274.4" r="5.05"/>
<circle cx="409.6" cy="290.5" r="5.05"/>
<circle cx="417.2" cy="250.0" r="5.05"/>
<circle cx="417.2" cy="343.0" r="5.05"/>
<circle cx="416.7" cy="304.5" r="5.05"/>
<circle cx="416.8" cy="315.8" r="5.05"/>
<circle cx="417.6" cy="323.6" r="5.05"/>
<circle cx="416.9" cy="258.7" r="5.05"/>
<circle cx="417.4" cy="302.5" r="5.05"/>
<circle cx="416.8" cy="267.9" r="5.05"/>
<circle cx="417.3" cy="260.0" r="5.05"/>
<circle cx="417.4" cy="272.4" r="5.05"/>
<circle cx="416.9" cy="289.4" r="5.05"/>
<circle cx="417.2" cy="317.4" r="5.05"/>
<circle cx="416.6" cy="317.4" r="5.05"/>
<circle cx="416.9" cy="277.0" r="5.05"/>
<circle cx="417.4" cy="314.3" r="5.05"/>
<circle cx="417.3" cy="333.9" r="5.05"/>
<circle cx="416.8" cy="278.9" r="5.05"/>
<circle cx="417.4" cy="274.3" r="5.05"/>
<circle cx="416.8" cy="271.0" r="5.05"/>
<circle cx="417.5" cy="326.9" r="5.05"/>
<circle cx="417.5" cy="339.2" r="5.05"/>
<circle cx="417.6" cy="278.8" r="5.05"/>
<circle cx="417.0" cy="317.1" r="5.05"/>
<circle cx="416.7" cy="306.7" r="5.05"/>
<circle cx="416.7" cy="254.6" r="5.05"/>
<circle cx="417.2" cy="264.1" r="5.05"/>
<circle cx="417.7" cy="331.6" r="5.05"/>
<circle cx="417.2" cy="268.4" r="5.05"/>
<circle cx="416.7" cy="297.1" r="5.05"/>
<circle cx="417.2" cy="283.7" r="5.05"/>
<circle cx="417.5" cy="299.2" r="5.05"/>
<circle cx="417.5" cy="259.9" r="5.05"/>
<circle cx="416.7" cy="286.0" r="5.05"/>
<circle cx="417.2" cy="273.5" r="5.05"/>
<circle cx="417.4" cy="270.6" r="5.05"/>
<circle cx="417.0" cy="294.4" r="5.05"/>
<circle cx="417.5" cy="321.6" r="5.05"/>
<circle cx="417.0" cy="291.6" r="5.05"/>
<circle cx="417.7" cy="336.9" r="5.05"/>
<circle cx="417.3" cy="259.8" r="5.05"/>
<circle cx="417.1" cy="309.2" r="5.05"/>
<circle cx="416.9" cy="253.5" r="5.05"/>
<circle cx="417.8" cy="334.6" r="5.05"/>
<circle cx="416.8" cy="293.3" r="5.05"/>
<circle cx="417.3" cy="277.9" r="5.05"/>
<circle cx="416.7" cy="319.8" r="5.05"/>
<circle cx="417.5" cy="290.7" r="5.05"/>
<circle cx="423.0" cy="218.0" r="5.05"/>
<circle cx="423.0" cy="271.0" r="5.05"/>
<circle cx="422.5" cy="238.9" r="5.05"/>
<circle cx="422.5" cy="269.1" r="5.05"/>
<circle cx="422.5" cy="233.3" r="5.05"/>
<circle cx="423.3" cy="225.2" r="5.05"/>
<circle cx="422.5" cy="221.7" r="5.05"/>
<circle cx="422.6" cy="246.2" r="5.05"/>
<circle cx="423.4" cy="227.0" r="5.05"/>
<circle cx="422.6" cy="258.5" r="5.05"/>
<circle cx="422.9" cy="235.9" r="5.05"/>
<circle cx="422.5" cy="230.9" r="5.05"/>
<circle cx="423.6" cy="224.2" r="5.05"/>
<circle cx="422.7" cy="257.3" r="5.05"/>
<circle cx="423.5" cy="265.9" r="5.05"/>
<circle cx="423.0" cy="268.7" r="5.05"/>
<circle cx="423.1" cy="233.3" r="5.05"/>
<circle cx="423.0" cy="256.0" r="5.05"/>
<circle cx="423.3" cy="224.9" r="5.05"/>
<circle cx="422.6" cy="268.8" r="5.05"/>
<circle cx="422.5" cy="261.1" r="5.05"/>
<circle cx="422.8" cy="231.1" r="5.05"/>
<circle cx="422.7" cy="242.9" r="5.05"/>
<circle cx="423.6" cy="225.9" r="5.05"/>
<circle cx="423.4" cy="235.0" r="5.05"/>
<circle cx="422.6" cy="257.5" r="5.05"/>
<circle cx="422.8" cy="227.9" r="5.05"/>
<circle cx="422.9" cy="261.5" r="5.05"/>
<circle cx="423.4" cy="248.5" r="5.05"/>
<circle cx="422.4" cy="258.5" r="5.05"/>
<circle cx="423.1" cy="265.7" r="5.05"/>
<circle cx="423.5" cy="235.3" r="5.05"/>
<circle cx="423.4" cy="261.4" r="5.05"/>
<circle cx="422.7" cy="237.4" r="5.05"/>
<circle cx="423.0" cy="285.7" r="5.05"/>
<circle cx="423.0" cy="300.3" r="5.05"/>
<circle cx="422.8" cy="290.9" r="5.05"/>
<circle cx="422.9" cy="287.3" r="5.05"/>
<circle cx="422.7" cy="299.0" r="5.05"/>
<circle cx="422.9" cy="295.0" r="5.05"/>
<circle cx="423.5" cy="296.7" r="5.05"/>
<circle cx="430.4" cy="222.7" r="5.05"/>
<circle cx="430.4" cy="271.0" r="5.05"/>
<circle cx="430.1" cy="267.1" r="5.05"/>
<circle cx="430.8" cy="270.5" r="5.05"/>
<circle cx="430.7" cy="259.2" r="5.05"/>
<circle cx="430.8" cy="234.9" r="5.05"/>
<circle cx="430.6" cy="241.1" r="5.05"/>
<circle cx="430.8" cy="229.2" r="5.05"/>
<circle cx="430.4" cy="238.9" r="5.05"/>
<circle cx="430.8" cy="239.4" r="5.05"/>
<circle cx="430.8" cy="263.7" r="5.05"/>
<circle cx="430.9" cy="229.4" r="5.05"/>
<circle cx="430.9" cy="258.6" r="5.05"/>
<circle cx="430.6" cy="254.2" r="5.05"/>
<circle cx="429.9" cy="264.7" r="5.05"/>
<circle cx="430.5" cy="244.7" r="5.05"/>
<circle cx="430.2" cy="260.5" r="5.05"/>
<circle cx="430.7" cy="264.7" r="5.05"/>
<circle cx="430.1" cy="239.1" r="5.05"/>
<circle cx="430.1" cy="227.5" r="5.05"/>
<circle cx="430.2" cy="224.0" r="5.05"/>
<circle cx="430.8" cy="233.7" r="5.05"/>
<circle cx="429.9" cy="226.0" r="5.05"/>
<circle cx="430.7" cy="232.3" r="5.05"/>
<circle cx="430.4" cy="242.1" r="5.05"/>
<circle cx="430.8" cy="268.8" r="5.05"/>
<circle cx="430.2" cy="253.2" r="5.05"/>
<circle cx="430.9" cy="245.4" r="5.05"/>
<circle cx="430.9" cy="258.1" r="5.05"/>
<circle cx="430.2" cy="264.9" r="5.05"/>
<circle cx="430.5" cy="227.8" r="5.05"/>
<circle cx="447.5" cy="145.0" r="5.05"/>
<circle cx="447.5" cy="271.0" r="5.05"/>
<circle cx="447.6" cy="249.5" r="5.05"/>
<circle cx="447.5" cy="206.0" r="5.05"/>
<circle cx="447.4" cy="255.9" r="5.05"/>
<circle cx="447.7" cy="171.2" r="5.05"/>
<circle cx="447.3" cy="190.8" r="5.05"/>
<circle cx="448.1" cy="232.7" r="5.05"/>
<circle cx="447.0" cy="260.2" r="5.05"/>
<circle cx="446.9" cy="219.4" r="5.05"/>
<circle cx="447.4" cy="235.4" r="5.05"/>
<circle cx="447.4" cy="156.6" r="5.05"/>
<circle cx="447.5" cy="248.4" r="5.05"/>
<circle cx="447.8" cy="189.9" r="5.05"/>
<circle cx="447.2" cy="238.8" r="5.05"/>
<circle cx="447.9" cy="172.6" r="5.05"/>
<circle cx="448.0" cy="270.0" r="5.05"/>
<circle cx="447.4" cy="193.0" r="5.05"/>
<circle cx="447.8" cy="262.2" r="5.05"/>
<circle cx="447.1" cy="183.0" r="5.05"/>
<circle cx="447.3" cy="237.3" r="5.05"/>
<circle cx="447.1" cy="213.9" r="5.05"/>
<circle cx="447.5" cy="229.2" r="5.05"/>
<circle cx="447.1" cy="265.5" r="5.05"/>
<circle cx="448.1" cy="215.7" r="5.05"/>
<circle cx="447.9" cy="168.1" r="5.05"/>
<circle cx="448.0" cy="214.5" r="5.05"/>
<circle cx="447.8" cy="254.4" r="5.05"/>
<circle cx="447.3" cy="261.4" r="5.05"/>
<circle cx="447.1" cy="148.0" r="5.05"/>
<circle cx="447.5" cy="258.2" r="5.05"/>
<circle cx="448.0" cy="265.3" r="5.05"/>
<circle cx="447.5" cy="262.5" r="5.05"/>
<circle cx="447.6" cy="163.1" r="5.05"/>
<circle cx="447.7" cy="246.2" r="5.05"/>
<circle cx="447.4" cy="220.9" r="5.05"/>
<circle cx="447.2" cy="179.8" r="5.05"/>
<circle cx="447.4" cy="209.7" r="5.05"/>
<circle cx="447.5" cy="156.6" r="5.05"/>
<circle cx="446.9" cy="187.9" r="5.05"/>
<circle cx="447.8" cy="239.3" r="5.05"/>
<circle cx="447.2" cy="177.2" r="5.05"/>
<circle cx="447.5" cy="167.1" r="5.05"/>
<circle cx="447.6" cy="258.9" r="5.05"/>
<circle cx="447.1" cy="218.8" r="5.05"/>
<circle cx="447.8" cy="239.4" r="5.05"/>
<circle cx="447.8" cy="234.5" r="5.05"/>
<circle cx="447.2" cy="250.6" r="5.05"/>
<circle cx="448.0" cy="151.6" r="5.05"/>
<circle cx="448.0" cy="200.8" r="5.05"/>
<circle cx="447.0" cy="153.8" r="5.05"/>
<circle cx="447.9" cy="230.4" r="5.05"/>
<circle cx="447.1" cy="203.0" r="5.05"/>
<circle cx="447.7" cy="270.7" r="5.05"/>
<circle cx="447.3" cy="241.6" r="5.05"/>
<circle cx="447.2" cy="170.1" r="5.05"/>
<circle cx="447.1" cy="196.7" r="5.05"/>
<circle cx="447.6" cy="183.2" r="5.05"/>
<circle cx="447.1" cy="172.5" r="5.05"/>
<circle cx="447.0" cy="169.3" r="5.05"/>
<circle cx="447.3" cy="208.6" r="5.05"/>
<circle cx="447.1" cy="205.4" r="5.05"/>
<circle cx="447.4" cy="267.6" r="5.05"/>
<circle cx="447.5" cy="264.0" r="5.05"/>
<circle cx="447.5" cy="169.9" r="5.05"/>
<circle cx="447.6" cy="163.2" r="5.05"/>
<circle cx="447.1" cy="154.2" r="5.05"/>
<circle cx="447.7" cy="266.8" r="5.05"/>
<circle cx="447.4" cy="189.6" r="5.05"/>
<circle cx="447.4" cy="189.4" r="5.05"/>
<circle cx="447.7" cy="194.4" r="5.05"/>
<circle cx="447.1" cy="253.9" r="5.05"/>
<circle cx="447.6" cy="145.8" r="5.05"/>
<circle cx="447.9" cy="236.8" r="5.05"/>
<circle cx="447.3" cy="224.4" r="5.05"/>
<circle cx="448.0" cy="195.6" r="5.05"/>
<circle cx="447.4" cy="182.6" r="5.05"/>
<circle cx="447.6" cy="228.5" r="5.05"/>
<circle cx="447.8" cy="264.6" r="5.05"/>
<circle cx="447.1" cy="191.1" r="5.05"/>
<circle cx="452.5" cy="145.0" r="5.05"/>
<circle cx="452.5" cy="271.0" r="5.05"/>
<circle cx="452.9" cy="244.7" r="5.05"/>
<circle cx="452.6" cy="230.3" r="5.05"/>
<circle cx="452.3" cy="264.0" r="5.05"/>
<circle cx="452.6" cy="195.7" r="5.05"/>
<circle cx="452.1" cy="159.5" r="5.05"/>
<circle cx="453.0" cy="245.9" r="5.05"/>
<circle cx="451.9" cy="185.7" r="5.05"/>
<circle cx="452.5" cy="207.5" r="5.05"/>
<circle cx="452.3" cy="257.8" r="5.05"/>
<circle cx="452.3" cy="212.0" r="5.05"/>
<circle cx="453.0" cy="225.5" r="5.05"/>
<circle cx="452.5" cy="186.9" r="5.05"/>
<circle cx="452.4" cy="221.8" r="5.05"/>
<circle cx="452.8" cy="177.8" r="5.05"/>
<circle cx="452.3" cy="193.9" r="5.05"/>
<circle cx="452.3" cy="260.0" r="5.05"/>
<circle cx="452.5" cy="179.8" r="5.05"/>
<circle cx="452.3" cy="248.5" r="5.05"/>
<circle cx="452.1" cy="231.9" r="5.05"/>
<circle cx="451.9" cy="169.3" r="5.05"/>
<circle cx="452.0" cy="246.5" r="5.05"/>
<circle cx="452.1" cy="173.7" r="5.05"/>
<circle cx="452.0" cy="178.2" r="5.05"/>
<circle cx="452.8" cy="235.7" r="5.05"/>
<circle cx="453.0" cy="264.3" r="5.05"/>
<circle cx="452.6" cy="261.2" r="5.05"/>
<circle cx="452.0" cy="261.6" r="5.05"/>
<circle cx="452.4" cy="169.3" r="5.05"/>
<circle cx="452.8" cy="253.2" r="5.05"/>
<circle cx="452.4" cy="156.7" r="5.05"/>
<circle cx="452.9" cy="239.9" r="5.05"/>
<circle cx="452.6" cy="268.1" r="5.05"/>
<circle cx="451.9" cy="152.0" r="5.05"/>
<circle cx="452.0" cy="147.7" r="5.05"/>
<circle cx="452.7" cy="224.4" r="5.05"/>
<circle cx="452.0" cy="165.4" r="5.05"/>
<circle cx="452.1" cy="221.8" r="5.05"/>
<circle cx="452.7" cy="267.2" r="5.05"/>
<circle cx="452.3" cy="268.4" r="5.05"/>
<circle cx="452.4" cy="194.3" r="5.05"/>
<circle cx="452.2" cy="174.3" r="5.05"/>
<circle cx="453.1" cy="270.4" r="5.05"/>
<circle cx="452.7" cy="167.1" r="5.05"/>
<circle cx="452.1" cy="164.2" r="5.05"/>
<circle cx="452.3" cy="237.9" r="5.05"/>
<circle cx="452.0" cy="211.8" r="5.05"/>
<circle cx="452.7" cy="149.2" r="5.05"/>
<circle cx="452.4" cy="244.7" r="5.05"/>
<circle cx="452.6" cy="201.9" r="5.05"/>
<circle cx="453.0" cy="220.7" r="5.05"/>
<circle cx="452.3" cy="194.9" r="5.05"/>
<circle cx="453.0" cy="253.3" r="5.05"/>
<circle cx="453.0" cy="215.7" r="5.05"/>
<circle cx="452.1" cy="167.1" r="5.05"/>
<circle cx="452.4" cy="232.0" r="5.05"/>
<circle cx="451.9" cy="246.1" r="5.05"/>
<circle cx="452.8" cy="209.9" r="5.05"/>
<circle cx="451.9" cy="245.6" r="5.05"/>
<circle cx="452.4" cy="229.3" r="5.05"/>
<circle cx="452.6" cy="236.8" r="5.05"/>
<circle cx="452.4" cy="266.0" r="5.05"/>
<circle cx="453.0" cy="262.0" r="5.05"/>
<circle cx="452.6" cy="184.9" r="5.05"/>
<circle cx="452.4" cy="178.9" r="5.05"/>
<circle cx="453.0" cy="244.8" r="5.05"/>
<circle cx="452.8" cy="248.5" r="5.05"/>
<circle cx="453.1" cy="231.7" r="5.05"/>
<circle cx="452.3" cy="240.5" r="5.05"/>
<circle cx="452.2" cy="222.0" r="5.05"/>
<circle cx="452.1" cy="253.1" r="5.05"/>
<circle cx="452.5" cy="179.7" r="5.05"/>
<circle cx="453.0" cy="155.5" r="5.05"/>
<circle cx="453.0" cy="240.4" r="5.05"/>
<circle cx="452.1" cy="240.9" r="5.05"/>
<circle cx="452.6" cy="259.3" r="5.05"/>
<circle cx="452.6" cy="198.8" r="5.05"/>
<circle cx="453.0" cy="156.0" r="5.05"/>
<circle cx="452.8" cy="158.0" r="5.05"/>
<circle cx="465.5" cy="234.5" r="5.05"/>
<circle cx="465.5" cy="300.3" r="5.05"/>
<circle cx="465.2" cy="242.0" r="5.05"/>
<circle cx="465.9" cy="263.6" r="5.05"/>
<circle cx="465.8" cy="251.4" r="5.05"/>
<circle cx="465.8" cy="277.2" r="5.05"/>
<circle cx="465.0" cy="267.0" r="5.05"/>
<circle cx="465.8" cy="248.6" r="5.05"/>
<circle cx="465.7" cy="252.8" r="5.05"/>
<circle cx="465.3" cy="295.0" r="5.05"/>
<circle cx="466.0" cy="300.2" r="5.05"/>
<circle cx="465.4" cy="272.1" r="5.05"/>
<circle cx="465.9" cy="284.4" r="5.05"/>
<circle cx="465.4" cy="291.3" r="5.05"/>
<circle cx="465.4" cy="297.0" r="5.05"/>
<circle cx="465.5" cy="242.3" r="5.05"/>
<circle cx="465.8" cy="244.0" r="5.05"/>
<circle cx="465.7" cy="238.0" r="5.05"/>
<circle cx="466.1" cy="270.1" r="5.05"/>
<circle cx="465.8" cy="243.1" r="5.05"/>
<circle cx="465.7" cy="259.3" r="5.05"/>
<circle cx="465.2" cy="288.1" r="5.05"/>
<circle cx="464.9" cy="265.9" r="5.05"/>
<circle cx="465.0" cy="290.5" r="5.05"/>
<circle cx="466.0" cy="236.8" r="5.05"/>
<circle cx="465.5" cy="265.4" r="5.05"/>
<circle cx="465.8" cy="282.5" r="5.05"/>
<circle cx="465.3" cy="295.9" r="5.05"/>
<circle cx="465.1" cy="243.5" r="5.05"/>
<circle cx="465.9" cy="242.4" r="5.05"/>
<circle cx="465.1" cy="267.4" r="5.05"/>
<circle cx="465.3" cy="245.3" r="5.05"/>
<circle cx="466.0" cy="265.7" r="5.05"/>
<circle cx="465.8" cy="251.0" r="5.05"/>
<circle cx="472.1" cy="200.8" r="5.05"/>
<circle cx="472.1" cy="221.3" r="5.05"/>
<circle cx="472.6" cy="205.3" r="5.05"/>
<circle cx="472.6" cy="213.4" r="5.05"/>
<circle cx="472.7" cy="216.6" r="5.05"/>
<circle cx="472.3" cy="211.7" r="5.05"/>
<circle cx="472.5" cy="209.9" r="5.05"/>
<circle cx="471.6" cy="219.5" r="5.05"/>
<circle cx="472.5" cy="214.8" r="5.05"/>
<circle cx="472.4" cy="205.6" r="5.05"/>
<circle cx="475.0" cy="202.0" r="5.05"/>
<circle cx="475.0" cy="227.0" r="5.05"/>
<circle cx="475.0" cy="222.6" r="5.05"/>
<circle cx="475.6" cy="225.1" r="5.05"/>
<circle cx="474.6" cy="219.1" r="5.05"/>
<circle cx="475.1" cy="212.1" r="5.05"/>
<circle cx="474.6" cy="205.4" r="5.05"/>
<circle cx="475.0" cy="214.3" r="5.05"/>
<circle cx="474.7" cy="211.2" r="5.05"/>
<circle cx="513.9" cy="246.2" r="5.05"/>
<circle cx="513.9" cy="288.6" r="5.05"/>
<circle cx="514.0" cy="278.5" r="5.05"/>
<circle cx="514.0" cy="253.1" r="5.05"/>
<circle cx="514.4" cy="261.8" r="5.05"/>
<circle cx="514.5" cy="287.8" r="5.05"/>
<circle cx="513.5" cy="270.9" r="5.05"/>
<circle cx="514.5" cy="262.5" r="5.05"/>
<circle cx="514.0" cy="259.5" r="5.05"/>
<circle cx="513.3" cy="254.9" r="5.05"/>
<circle cx="513.4" cy="258.3" r="5.05"/>
<circle cx="514.1" cy="270.1" r="5.05"/>
<circle cx="514.4" cy="275.3" r="5.05"/>
<circle cx="513.7" cy="286.5" r="5.05"/>
<circle cx="514.1" cy="269.2" r="5.05"/>
<circle cx="514.3" cy="274.6" r="5.05"/>
<circle cx="513.7" cy="271.8" r="5.05"/>
<circle cx="513.7" cy="287.3" r="5.05"/>
<circle cx="513.6" cy="287.5" r="5.05"/>
<circle cx="513.4" cy="246.6" r="5.05"/>
<circle cx="514.0" cy="254.9" r="5.05"/>
<circle cx="513.9" cy="251.2" r="5.05"/>
<circle cx="514.3" cy="274.6" r="5.05"/>
<circle cx="514.1" cy="285.5" r="5.05"/>
<circle cx="514.5" cy="275.0" r="5.05"/>
<circle cx="514.2" cy="246.3" r="5.05"/>
<circle cx="513.4" cy="264.3" r="5.05"/>
<circle cx="514.5" cy="259.5" r="5.05"/>
<circle cx="520.7" cy="175.9" r="5.05"/>
<circle cx="520.7" cy="227.1" r="5.05"/>
<circle cx="520.8" cy="176.4" r="5.05"/>
<circle cx="520.6" cy="222.1" r="5.05"/>
<circle cx="520.8" cy="218.1" r="5.05"/>
<circle cx="520.1" cy="186.3" r="5.05"/>
<circle cx="520.3" cy="218.5" r="5.05"/>
<circle cx="520.2" cy="223.6" r="5.05"/>
<circle cx="520.4" cy="221.0" r="5.05"/>
<circle cx="520.7" cy="192.5" r="5.05"/>
<circle cx="521.3" cy="196.6" r="5.05"/>
<circle cx="520.9" cy="179.3" r="5.05"/>
<circle cx="521.1" cy="226.1" r="5.05"/>
<circle cx="520.2" cy="214.1" r="5.05"/>
<circle cx="520.4" cy="183.5" r="5.05"/>
<circle cx="520.5" cy="209.8" r="5.05"/>
<circle cx="521.2" cy="226.8" r="5.05"/>
<circle cx="521.3" cy="207.8" r="5.05"/>
<circle cx="520.9" cy="184.1" r="5.05"/>
<circle cx="521.0" cy="204.1" r="5.05"/>
<circle cx="520.5" cy="222.0" r="5.05"/>
<circle cx="520.4" cy="183.2" r="5.05"/>
<circle cx="520.3" cy="183.5" r="5.05"/>
<circle cx="520.8" cy="216.9" r="5.05"/>
<circle cx="520.3" cy="201.6" r="5.05"/>
<circle cx="520.8" cy="204.6" r="5.05"/>
<circle cx="520.6" cy="203.7" r="5.05"/>
<circle cx="520.1" cy="178.9" r="5.05"/>
<circle cx="520.6" cy="188.0" r="5.05"/>
<circle cx="521.0" cy="188.3" r="5.05"/>
<circle cx="521.1" cy="188.3" r="5.05"/>
<circle cx="520.2" cy="200.3" r="5.05"/>
<circle cx="520.6" cy="193.1" r="5.05"/>
<circle cx="542.3" cy="233.0" r="5.05"/>
<circle cx="542.3" cy="311.0" r="5.05"/>
<circle cx="542.6" cy="250.3" r="5.05"/>
<circle cx="542.5" cy="298.1" r="5.05"/>
<circle cx="542.2" cy="272.2" r="5.05"/>
<circle cx="542.8" cy="280.1" r="5.05"/>
<circle cx="541.9" cy="238.4" r="5.05"/>
<circle cx="541.8" cy="258.9" r="5.05"/>
<circle cx="541.8" cy="283.6" r="5.05"/>
<circle cx="542.2" cy="257.1" r="5.05"/>
<circle cx="542.3" cy="306.1" r="5.05"/>
<circle cx="542.0" cy="245.1" r="5.05"/>
<circle cx="542.1" cy="258.3" r="5.05"/>
<circle cx="542.8" cy="288.1" r="5.05"/>
<circle cx="542.2" cy="245.9" r="5.05"/>
<circle cx="541.8" cy="242.5" r="5.05"/>
<circle cx="542.7" cy="283.5" r="5.05"/>
<circle cx="541.9" cy="281.8" r="5.05"/>
<circle cx="541.8" cy="272.5" r="5.05"/>
<circle cx="542.1" cy="241.0" r="5.05"/>
<circle cx="542.6" cy="288.9" r="5.05"/>
<circle cx="542.3" cy="246.1" r="5.05"/>
<circle cx="542.5" cy="266.8" r="5.05"/>
<circle cx="542.5" cy="240.1" r="5.05"/>
<circle cx="542.8" cy="233.3" r="5.05"/>
<circle cx="542.0" cy="264.1" r="5.05"/>
<circle cx="541.9" cy="239.8" r="5.05"/>
<circle cx="542.5" cy="310.5" r="5.05"/>
<circle cx="542.1" cy="253.8" r="5.05"/>
<circle cx="542.5" cy="250.4" r="5.05"/>
<circle cx="542.2" cy="286.7" r="5.05"/>
<circle cx="542.2" cy="245.1" r="5.05"/>
<circle cx="541.8" cy="275.4" r="5.05"/>
<circle cx="542.9" cy="304.8" r="5.05"/>
<circle cx="541.8" cy="272.2" r="5.05"/>
<circle cx="542.3" cy="248.1" r="5.05"/>
<circle cx="542.5" cy="271.7" r="5.05"/>
<circle cx="542.7" cy="255.8" r="5.05"/>
<circle cx="542.8" cy="296.5" r="5.05"/>
<circle cx="542.3" cy="244.0" r="5.05"/>
<circle cx="542.3" cy="242.9" r="5.05"/>
<circle cx="542.5" cy="287.4" r="5.05"/>
<circle cx="542.4" cy="309.2" r="5.05"/>
<circle cx="541.8" cy="288.8" r="5.05"/>
<circle cx="542.7" cy="241.8" r="5.05"/>
<circle cx="542.1" cy="237.2" r="5.05"/>
<circle cx="542.4" cy="289.4" r="5.05"/>
<circle cx="542.1" cy="287.2" r="5.05"/>
<circle cx="542.1" cy="288.6" r="5.05"/>
<circle cx="542.0" cy="309.3" r="5.05"/>
<circle cx="558.7" cy="202.2" r="5.05"/>
<circle cx="558.7" cy="246.2" r="5.05"/>
<circle cx="558.6" cy="202.4" r="5.05"/>
<circle cx="558.2" cy="234.1" r="5.05"/>
<circle cx="559.1" cy="230.2" r="5.05"/>
<circle cx="558.3" cy="240.6" r="5.05"/>
<circle cx="559.0" cy="207.3" r="5.05"/>
<circle cx="558.6" cy="231.7" r="5.05"/>
<circle cx="558.1" cy="204.1" r="5.05"/>
<circle cx="558.5" cy="240.7" r="5.05"/>
<circle cx="559.3" cy="216.2" r="5.05"/>
<circle cx="559.2" cy="236.8" r="5.05"/>
<circle cx="559.1" cy="228.1" r="5.05"/>
<circle cx="559.3" cy="230.5" r="5.05"/>
<circle cx="559.2" cy="227.1" r="5.05"/>
<circle cx="558.3" cy="225.0" r="5.05"/>
<circle cx="558.7" cy="217.0" r="5.05"/>
<circle cx="558.5" cy="224.7" r="5.05"/>
<circle cx="558.8" cy="212.0" r="5.05"/>
<circle cx="558.4" cy="224.3" r="5.05"/>
<circle cx="558.7" cy="220.6" r="5.05"/>
<circle cx="558.9" cy="210.4" r="5.05"/>
<circle cx="558.7" cy="214.3" r="5.05"/>
<circle cx="559.0" cy="233.2" r="5.05"/>
<circle cx="559.0" cy="225.0" r="5.05"/>
<circle cx="558.4" cy="242.9" r="5.05"/>
<circle cx="558.7" cy="218.7" r="5.05"/>
<circle cx="558.4" cy="219.9" r="5.05"/>
<circle cx="559.0" cy="238.2" r="5.05"/>
<circle cx="185.5" cy="326.0" r="5.05"/>
<circle cx="185.5" cy="332.0" r="5.05"/>
<circle cx="185.5" cy="340.0" r="5.05"/>
<circle cx="185.5" cy="347.0" r="5.05"/>
<circle cx="192.0" cy="322.0" r="5.05"/>
<circle cx="192.0" cy="328.0" r="5.05"/>
<circle cx="192.0" cy="335.0" r="5.05"/>
<circle cx="192.0" cy="341.0" r="5.05"/>
<circle cx="192.0" cy="348.0" r="5.05"/>
<circle cx="198.0" cy="292.0" r="5.05"/>
<circle cx="198.0" cy="300.0" r="5.05"/>
<circle cx="198.0" cy="308.0" r="5.05"/>
<circle cx="206.0" cy="340.0" r="5.05"/>
<circle cx="206.0" cy="346.0" r="5.05"/>
<circle cx="206.0" cy="352.0" r="5.05"/>
<circle cx="216.0" cy="343.0" r="5.05"/>
<circle cx="216.0" cy="349.0" r="5.05"/>
<circle cx="136.0" cy="173.2" r="5.05"/>
<circle cx="136.0" cy="175.2" r="5.05"/>
<circle cx="136.0" cy="185.8" r="5.05"/>
<circle cx="136.0" cy="186.9" r="5.05"/>
<circle cx="136.0" cy="202.2" r="5.05"/>
<circle cx="136.0" cy="210.7" r="5.05"/>
<circle cx="136.0" cy="228.6" r="5.05"/>
<circle cx="136.0" cy="231.5" r="5.05"/>
<circle cx="136.0" cy="246.2" r="5.05"/>
<circle cx="136.0" cy="286.0" r="5.05"/>
<circle cx="136.0" cy="291.0" r="5.05"/>
<circle cx="136.0" cy="296.0" r="5.05"/>
<circle cx="135.5" cy="341.8" r="5.05"/>
<circle cx="139.2" cy="350.6" r="5.05"/>
<circle cx="139.9" cy="353.6" r="5.05"/>
<circle cx="149.8" cy="230.8" r="5.05"/>
<circle cx="147.2" cy="244.7" r="5.05"/>
<circle cx="148.7" cy="349.2" r="5.05"/>
<circle cx="157.5" cy="355.0" r="5.05"/>
<circle cx="165.5" cy="353.6" r="5.05"/>
<circle cx="168.4" cy="252.8" r="5.05"/>
<circle cx="175.0" cy="188.6" r="5.05"/>
<circle cx="188.9" cy="204.4" r="5.05"/>
<circle cx="198.4" cy="188.2" r="5.05"/>
<circle cx="198.4" cy="196.4" r="5.05"/>
<circle cx="198.4" cy="199.5" r="5.05"/>
<circle cx="198.4" cy="203.0" r="5.05"/>
<circle cx="198.4" cy="206.6" r="5.05"/>
<circle cx="208.4" cy="199.6" r="5.05"/>
<circle cx="192.3" cy="419.4" r="5.05"/>
<circle cx="192.3" cy="428.2" r="5.05"/>
<circle cx="192.3" cy="435.6" r="5.05"/>
<circle cx="192.3" cy="441.4" r="5.05"/>
<circle cx="192.3" cy="457.5" r="5.05"/>
<circle cx="192.3" cy="464.8" r="5.05"/>
<circle cx="208.5" cy="349.2" r="5.05"/>
<circle cx="208.5" cy="370.4" r="5.05"/>
<circle cx="215.0" cy="350.6" r="5.05"/>
<circle cx="215.0" cy="355.0" r="5.05"/>
<circle cx="215.0" cy="363.8" r="5.05"/>
<circle cx="215.0" cy="368.2" r="5.05"/>
<circle cx="215.0" cy="372.6" r="5.05"/>
<circle cx="215.2" cy="409.5" r="5.05"/>
<circle cx="215.2" cy="432.6" r="5.05"/>
<circle cx="220.0" cy="302.3" r="5.05"/>
<circle cx="220.0" cy="314.0" r="5.05"/>
<circle cx="220.0" cy="323.5" r="5.05"/>
<circle cx="227.7" cy="165.3" r="5.05"/>
<circle cx="227.7" cy="178.1" r="5.05"/>
<circle cx="227.7" cy="181.7" r="5.05"/>
<circle cx="243.8" cy="183.2" r="5.05"/>
<circle cx="244.8" cy="347.0" r="5.05"/>
<circle cx="240.9" cy="366.7" r="5.05"/>
<circle cx="251.6" cy="177.3" r="5.05"/>
<circle cx="251.6" cy="183.2" r="5.05"/>
<circle cx="262.1" cy="184.7" r="5.05"/>
<circle cx="262.1" cy="194.9" r="5.05"/>
<circle cx="262.1" cy="319.9" r="5.05"/>
<circle cx="262.1" cy="329.4" r="5.05"/>
<circle cx="262.1" cy="475.8" r="5.05"/>
<circle cx="272.6" cy="196.4" r="5.05"/>
<circle cx="272.6" cy="199.3" r="5.05"/>
<circle cx="265.0" cy="304.0" r="5.05"/>
<circle cx="269.4" cy="306.7" r="5.05"/>
<circle cx="285.5" cy="171.5" r="5.05"/>
<circle cx="285.5" cy="174.4" r="5.05"/>
<circle cx="289.2" cy="349.2" r="5.05"/>
<circle cx="289.2" cy="368.9" r="5.05"/>
<circle cx="301.6" cy="155.4" r="5.05"/>
<circle cx="301.6" cy="159.8" r="5.05"/>
<circle cx="301.6" cy="325.7" r="5.05"/>
<circle cx="301.6" cy="338.2" r="5.05"/>
<circle cx="303.0" cy="156.9" r="5.05"/>
<circle cx="303.0" cy="158.3" r="5.05"/>
<circle cx="303.0" cy="174.4" r="5.05"/>
<circle cx="303.0" cy="178.8" r="5.05"/>
<circle cx="303.0" cy="325.0" r="5.05"/>
<circle cx="300.9" cy="338.2" r="5.05"/>
<circle cx="309.6" cy="344.0" r="5.05"/>
<circle cx="311.8" cy="118.8" r="5.05"/>
<circle cx="311.8" cy="130.5" r="5.05"/>
<circle cx="311.8" cy="134.0" r="5.05"/>
<circle cx="311.8" cy="137.8" r="5.05"/>
<circle cx="315.5" cy="350.6" r="5.05"/>
<circle cx="321.4" cy="341.9" r="5.05"/>
<circle cx="320.6" cy="140.7" r="5.05"/>
<circle cx="329.4" cy="145.1" r="5.05"/>
<circle cx="336.0" cy="306.0" r="5.05"/>
<circle cx="328.0" cy="323.5" r="5.05"/>
<circle cx="348.4" cy="168.6" r="5.05"/>
<circle cx="348.4" cy="315.5" r="5.05"/>
<circle cx="348.4" cy="321.4" r="5.05"/>
<circle cx="348.4" cy="330.9" r="5.05"/>
<circle cx="348.4" cy="344.8" r="5.05"/>
<circle cx="358.0" cy="190.5" r="5.05"/>
<circle cx="358.0" cy="197.8" r="5.05"/>
<circle cx="358.0" cy="311.0" r="5.05"/>
<circle cx="358.0" cy="318.4" r="5.05"/>
<circle cx="358.0" cy="333.0" r="5.05"/>
<circle cx="358.0" cy="343.3" r="5.05"/>
<circle cx="376.3" cy="187.6" r="5.05"/>
<circle cx="376.3" cy="193.5" r="5.05"/>
<circle cx="376.3" cy="197.8" r="5.05"/>
<circle cx="388.7" cy="133.4" r="5.05"/>
<circle cx="388.7" cy="139.3" r="5.05"/>
<circle cx="388.7" cy="143.0" r="5.05"/>
<circle cx="388.7" cy="148.0" r="5.05"/>
<circle cx="388.7" cy="302.3" r="5.05"/>
<circle cx="394.5" cy="157.6" r="5.05"/>
<circle cx="394.5" cy="167.0" r="5.05"/>
<circle cx="394.5" cy="171.0" r="5.05"/>
<circle cx="394.5" cy="175.0" r="5.05"/>
<circle cx="394.5" cy="178.8" r="5.05"/>
<circle cx="408.4" cy="177.3" r="5.05"/>
<circle cx="408.4" cy="186.1" r="5.05"/>
<circle cx="408.4" cy="295.7" r="5.05"/>
<circle cx="417.2" cy="362.6" r="5.05"/>
<circle cx="417.2" cy="373.8" r="5.05"/>
<circle cx="423.0" cy="200.8" r="5.05"/>
<circle cx="423.0" cy="205.0" r="5.05"/>
<circle cx="423.0" cy="209.6" r="5.05"/>
<circle cx="423.0" cy="325.0" r="5.05"/>
<circle cx="423.0" cy="330.9" r="5.05"/>
<circle cx="423.0" cy="341.9" r="5.05"/>
<circle cx="428.9" cy="296.5" r="5.05"/>
<circle cx="449.4" cy="146.6" r="5.05"/>
<circle cx="449.4" cy="151.0" r="5.05"/>
<circle cx="451.6" cy="116.6" r="5.05"/>
<circle cx="451.6" cy="307.4" r="5.05"/>
<circle cx="451.6" cy="339.7" r="5.05"/>
<circle cx="465.5" cy="297.2" r="5.05"/>
<circle cx="482.5" cy="215.4" r="5.05"/>
<circle cx="482.5" cy="224.2" r="5.05"/>
<circle cx="482.5" cy="231.5" r="5.05"/>
<circle cx="482.5" cy="238.8" r="5.05"/>
<circle cx="482.5" cy="251.3" r="5.05"/>
<circle cx="482.5" cy="265.2" r="5.05"/>
<circle cx="482.5" cy="272.5" r="5.05"/>
<circle cx="482.5" cy="276.9" r="5.05"/>
<circle cx="513.9" cy="298.1" r="5.05"/>
<circle cx="542.3" cy="211.0" r="5.05"/>
<circle cx="542.3" cy="216.9" r="5.05"/>
<circle cx="542.3" cy="220.5" r="5.05"/>
<circle cx="542.3" cy="224.2" r="5.05"/>
<circle cx="558.7" cy="189.8" r="5.05"/>
<circle cx="558.7" cy="194.2" r="5.05"/>
<circle cx="558.7" cy="252.8" r="5.05"/>
<circle cx="558.7" cy="257.1" r="5.05"/>
<circle cx="149.9" cy="369.6" r="5.05"/>
<circle cx="165.2" cy="373.3" r="5.05"/>
<circle cx="175.4" cy="378.0" r="5.05"/>
<circle cx="148.2" cy="384.5" r="5.05"/>
<circle cx="157.6" cy="383.5" r="5.05"/>
<circle cx="139.6" cy="392.7" r="5.05"/>
<circle cx="175.4" cy="395.8" r="5.05"/>
<circle cx="175.3" cy="455.3" r="5.05"/>
<circle cx="208.1" cy="370.2" r="5.05"/>
<circle cx="240.8" cy="367.2" r="5.05"/>
<circle cx="147.2" cy="144.4" r="5.05"/>
<circle cx="309.6" cy="401.9" r="5.05"/>
<circle cx="319.6" cy="476.6" r="5.05"/>
<circle cx="615.8" cy="218.2" r="5.05"/>
<circle cx="615.8" cy="252.4" r="5.05"/>
<circle cx="615.8" cy="268.2" r="5.05"/>
<circle cx="615.8" cy="271.8" r="5.05"/>
<circle cx="615.8" cy="275.0" r="5.05"/>
<circle cx="615.8" cy="279.0" r="5.05"/>
<circle cx="615.8" cy="282.5" r="5.05"/>
<circle cx="615.8" cy="285.5" r="5.05"/>
<circle cx="615.8" cy="298.0" r="5.05"/>
<circle cx="615.8" cy="301.5" r="5.05"/>
<circle cx="615.8" cy="304.5" r="5.05"/>
<circle cx="615.8" cy="312.7" r="5.05"/>
<circle cx="615.8" cy="316.0" r="5.05"/>
<circle cx="615.8" cy="319.5" r="5.05"/>
<circle cx="615.8" cy="322.0" r="5.05"/>
<circle cx="615.8" cy="325.0" r="5.05"/>
<circle cx="615.8" cy="328.2" r="5.05"/>
<circle cx="615.8" cy="334.5" r="5.05"/>
<circle cx="615.8" cy="338.0" r="5.05"/>
<circle cx="615.8" cy="341.0" r="5.05"/>
<circle cx="615.8" cy="343.6" r="5.05"/>
<circle cx="615.8" cy="351.8" r="5.05"/>
<circle cx="615.8" cy="423.6" r="5.05"/>
</g>
<g fill="#000">
<circle cx="136.0" cy="223.4" r="5.6"/>
<circle cx="147.4" cy="263.2" r="5.6"/>
<circle cx="156.6" cy="261.6" r="5.6"/>
<circle cx="198.3" cy="214.0" r="5.6"/>
<circle cx="189.3" cy="240.6" r="5.6"/>
<circle cx="185.6" cy="258.5" r="5.6"/>
<circle cx="175.0" cy="267.1" r="5.6"/>
<circle cx="194.2" cy="269.2" r="5.6"/>
<circle cx="227.5" cy="202.3" r="5.6"/>
<circle cx="208.1" cy="249.3" r="5.6"/>
<circle cx="214.6" cy="256.1" r="5.6"/>
<circle cx="227.1" cy="255.5" r="5.6"/>
<circle cx="238.0" cy="233.0" r="5.6"/>
<circle cx="243.7" cy="220.2" r="5.6"/>
<circle cx="243.0" cy="253.7" r="5.6"/>
<circle cx="247.3" cy="255.1" r="5.6"/>
<circle cx="175.0" cy="278.8" r="5.6"/>
<circle cx="184.0" cy="280.4" r="5.6"/>
<circle cx="191.3" cy="283.5" r="5.6"/>
<circle cx="189.7" cy="290.2" r="5.6"/>
<circle cx="170.5" cy="288.2" r="5.6"/>
<circle cx="147.5" cy="290.4" r="5.6"/>
<circle cx="151.3" cy="293.3" r="5.6"/>
<circle cx="139.2" cy="307.0" r="5.6"/>
<circle cx="148.8" cy="308.0" r="5.6"/>
<circle cx="157.4" cy="312.7" r="5.6"/>
<circle cx="165.2" cy="312.7" r="5.6"/>
<circle cx="175.8" cy="308.6" r="5.6"/>
<circle cx="206.5" cy="280.4" r="5.6"/>
<circle cx="211.6" cy="281.3" r="5.6"/>
<circle cx="217.3" cy="280.8" r="5.6"/>
<circle cx="239.8" cy="280.0" r="5.6"/>
<circle cx="240.8" cy="301.9" r="5.6"/>
<circle cx="244.9" cy="314.2" r="5.6"/>
<circle cx="214.8" cy="329.5" r="5.6"/>
<circle cx="192.4" cy="357.5" r="5.6"/>
<circle cx="132.6" cy="363.4" r="5.6"/>
<circle cx="147.1" cy="408.0" r="5.6"/>
<circle cx="311.9" cy="164.5" r="5.6"/>
<circle cx="329.1" cy="169.0" r="5.6"/>
<circle cx="303.5" cy="184.8" r="5.6"/>
<circle cx="320.4" cy="196.1" r="5.6"/>
<circle cx="322.8" cy="198.6" r="5.6"/>
<circle cx="251.8" cy="210.2" r="5.6"/>
<circle cx="287.6" cy="207.5" r="5.6"/>
<circle cx="285.2" cy="211.8" r="5.6"/>
<circle cx="295.8" cy="211.9" r="5.6"/>
<circle cx="299.6" cy="215.2" r="5.6"/>
<circle cx="316.0" cy="212.6" r="5.6"/>
<circle cx="336.5" cy="209.1" r="5.6"/>
<circle cx="351.4" cy="218.1" r="5.6"/>
<circle cx="358.5" cy="216.0" r="5.6"/>
<circle cx="376.5" cy="216.0" r="5.6"/>
<circle cx="251.8" cy="223.0" r="5.6"/>
<circle cx="260.4" cy="233.0" r="5.6"/>
<circle cx="262.1" cy="240.0" r="5.6"/>
<circle cx="272.7" cy="232.0" r="5.6"/>
<circle cx="282.0" cy="224.5" r="5.6"/>
<circle cx="286.0" cy="229.5" r="5.6"/>
<circle cx="291.2" cy="241.2" r="5.6"/>
<circle cx="303.2" cy="243.2" r="5.6"/>
<circle cx="314.7" cy="233.6" r="5.6"/>
<circle cx="318.0" cy="243.7" r="5.6"/>
<circle cx="327.5" cy="245.9" r="5.6"/>
<circle cx="332.0" cy="229.9" r="5.6"/>
<circle cx="337.7" cy="224.8" r="5.6"/>
<circle cx="336.1" cy="234.4" r="5.6"/>
<circle cx="333.0" cy="238.1" r="5.6"/>
<circle cx="348.0" cy="233.0" r="5.6"/>
<circle cx="348.4" cy="238.3" r="5.6"/>
<circle cx="374.3" cy="242.3" r="5.6"/>
<circle cx="255.5" cy="260.0" r="5.6"/>
<circle cx="264.9" cy="268.6" r="5.6"/>
<circle cx="289.8" cy="256.2" r="5.6"/>
<circle cx="310.5" cy="253.6" r="5.6"/>
<circle cx="309.5" cy="261.8" r="5.6"/>
<circle cx="300.9" cy="265.8" r="5.6"/>
<circle cx="346.3" cy="261.0" r="5.6"/>
<circle cx="357.0" cy="265.8" r="5.6"/>
<circle cx="349.6" cy="270.0" r="5.6"/>
<circle cx="382.8" cy="268.7" r="5.6"/>
<circle cx="289.5" cy="281.5" r="5.6"/>
<circle cx="295.1" cy="290.5" r="5.6"/>
<circle cx="316.1" cy="288.6" r="5.6"/>
<circle cx="321.7" cy="284.8" r="5.6"/>
<circle cx="388.8" cy="187.3" r="5.6"/>
<circle cx="388.8" cy="198.4" r="5.6"/>
<circle cx="394.5" cy="206.5" r="5.6"/>
<circle cx="407.8" cy="212.9" r="5.6"/>
<circle cx="402.5" cy="218.3" r="5.6"/>
<circle cx="409.2" cy="234.8" r="5.6"/>
<circle cx="422.9" cy="239.4" r="5.6"/>
<circle cx="429.1" cy="245.4" r="5.6"/>
<circle cx="422.6" cy="276.4" r="5.6"/>
<circle cx="451.5" cy="177.4" r="5.6"/>
<circle cx="447.5" cy="190.0" r="5.6"/>
<circle cx="451.7" cy="208.7" r="5.6"/>
<circle cx="447.3" cy="216.3" r="5.6"/>
<circle cx="472.4" cy="215.3" r="5.6"/>
<circle cx="455.9" cy="249.8" r="5.6"/>
<circle cx="482.6" cy="244.7" r="5.6"/>
<circle cx="465.6" cy="267.4" r="5.6"/>
<circle cx="514.0" cy="268.1" r="5.6"/>
<circle cx="417.1" cy="317.8" r="5.6"/>
<circle cx="520.8" cy="199.3" r="5.6"/>
<circle cx="558.8" cy="219.1" r="5.6"/>
<circle cx="542.6" cy="250.5" r="5.6"/>
<circle cx="541.8" cy="273.0" r="5.6"/>
<circle cx="616.0" cy="291.6" r="5.6"/>
</g>
<polyline points="132.3,310.0 140.4,305.1 148.4,300.4 156.5,295.8 164.5,291.4 172.6,287.1 180.7,283.0 188.7,279.0 196.8,275.1 204.9,271.5 212.9,267.9 221.0,264.5 229.0,261.3 237.1,258.2 245.2,255.3 253.2,252.5 261.3,249.8 269.3,247.3 277.4,245.0 285.5,242.8 293.5,240.7 301.6,238.8 309.7,237.1 317.7,235.4 325.8,234.0 333.8,232.7 341.9,231.5 350.0,230.5 358.0,229.6 366.1,228.9 374.1,228.4 382.2,227.9 390.3,227.7 398.3,227.5 406.4,227.6 414.5,227.7 422.5,228.1 430.6,228.5 438.6,229.2 446.7,229.9 454.8,230.8 462.8,231.9 470.9,233.1 479.0,234.5 487.0,236.0 495.1,237.7 503.1,239.5 511.2,241.4 519.3,243.5 527.3,245.8 535.4,248.2 543.4,250.7 551.5,253.4 559.6,256.3 567.6,259.3 575.7,262.4 583.8,265.7 591.8,269.2 599.9,272.8 607.9,276.5 616.0,280.4" fill="none" stroke="#000" stroke-width="1.3"/>
<g fill="none" stroke="#9370db" stroke-width="1.4">
<circle cx="211.7" cy="988.0" r="5.05"/>
<circle cx="168.3" cy="950.6" r="5.05"/>
<circle cx="191.6" cy="931.1" r="5.05"/>
<circle cx="191.9" cy="991.1" r="5.05"/>
<circle cx="252.1" cy="917.8" r="5.05"/>
<circle cx="171.6" cy="995.1" r="5.05"/>
<circle cx="263.5" cy="920.7" r="5.05"/>
<circle cx="188.2" cy="904.5" r="5.05"/>
<circle cx="212.5" cy="939.5" r="5.05"/>
<circle cx="177.4" cy="955.3" r="5.05"/>
<circle cx="204.7" cy="946.4" r="5.05"/>
<circle cx="179.2" cy="1013.6" r="5.05"/>
<circle cx="271.3" cy="934.4" r="5.05"/>
<circle cx="202.8" cy="915.8" r="5.05"/>
<circle cx="258.4" cy="940.2" r="5.05"/>
<circle cx="153.2" cy="1011.0" r="5.05"/>
<circle cx="204.8" cy="943.3" r="5.05"/>
<circle cx="229.8" cy="924.2" r="5.05"/>
<circle cx="193.9" cy="992.0" r="5.05"/>
<circle cx="187.6" cy="981.1" r="5.05"/>
<circle cx="234.6" cy="915.2" r="5.05"/>
<circle cx="137.3" cy="980.4" r="5.05"/>
<circle cx="232.4" cy="929.4" r="5.05"/>
<circle cx="166.2" cy="1004.6" r="5.05"/>
<circle cx="280.4" cy="921.3" r="5.05"/>
<circle cx="228.3" cy="967.0" r="5.05"/>
<circle cx="186.4" cy="976.3" r="5.05"/>
<circle cx="230.9" cy="958.3" r="5.05"/>
<circle cx="184.1" cy="945.8" r="5.05"/>
<circle cx="152.7" cy="1022.2" r="5.05"/>
<circle cx="172.7" cy="1004.8" r="5.05"/>
<circle cx="173.2" cy="968.7" r="5.05"/>
<circle cx="177.3" cy="994.0" r="5.05"/>
<circle cx="170.7" cy="973.7" r="5.05"/>
<circle cx="222.3" cy="941.9" r="5.05"/>
<circle cx="262.7" cy="904.0" r="5.05"/>
<circle cx="175.9" cy="990.9" r="5.05"/>
<circle cx="148.6" cy="951.9" r="5.05"/>
<circle cx="193.4" cy="948.0" r="5.05"/>
<circle cx="215.8" cy="928.8" r="5.05"/>
<circle cx="292.1" cy="912.7" r="5.05"/>
<circle cx="216.2" cy="956.2" r="5.05"/>
<circle cx="167.7" cy="1007.6" r="5.05"/>
<circle cx="191.6" cy="935.0" r="5.05"/>
<circle cx="233.0" cy="965.5" r="5.05"/>
<circle cx="287.8" cy="939.5" r="5.05"/>
<circle cx="152.4" cy="978.0" r="5.05"/>
<circle cx="219.7" cy="933.9" r="5.05"/>
<circle cx="186.9" cy="1003.2" r="5.05"/>
<circle cx="188.5" cy="945.9" r="5.05"/>
<circle cx="288.1" cy="938.4" r="5.05"/>
<circle cx="198.7" cy="911.7" r="5.05"/>
<circle cx="205.9" cy="944.4" r="5.05"/>
<circle cx="171.5" cy="995.9" r="5.05"/>
<circle cx="194.4" cy="988.3" r="5.05"/>
<circle cx="242.8" cy="956.6" r="5.05"/>
<circle cx="210.0" cy="916.5" r="5.05"/>
<circle cx="161.9" cy="976.5" r="5.05"/>
<circle cx="245.7" cy="924.7" r="5.05"/>
<circle cx="237.8" cy="908.2" r="5.05"/>
<circle cx="232.7" cy="913.0" r="5.05"/>
<circle cx="216.0" cy="932.1" r="5.05"/>
<circle cx="222.7" cy="908.0" r="5.05"/>
<circle cx="211.8" cy="972.6" r="5.05"/>
<circle cx="155.7" cy="931.4" r="5.05"/>
<circle cx="226.0" cy="919.8" r="5.05"/>
<circle cx="192.6" cy="950.1" r="5.05"/>
<circle cx="239.1" cy="904.3" r="5.05"/>
<circle cx="232.5" cy="894.4" r="5.05"/>
<circle cx="251.2" cy="925.9" r="5.05"/>
<circle cx="270.2" cy="913.7" r="5.05"/>
<circle cx="136.5" cy="1009.3" r="5.05"/>
<circle cx="272.9" cy="917.2" r="5.05"/>
<circle cx="278.7" cy="935.4" r="5.05"/>
<circle cx="234.5" cy="906.2" r="5.05"/>
<circle cx="159.7" cy="929.2" r="5.05"/>
<circle cx="178.9" cy="1013.3" r="5.05"/>
<circle cx="262.1" cy="927.6" r="5.05"/>
<circle cx="251.9" cy="920.5" r="5.05"/>
<circle cx="148.7" cy="1014.0" r="5.05"/>
<circle cx="222.9" cy="972.1" r="5.05"/>
<circle cx="272.8" cy="909.2" r="5.05"/>
<circle cx="246.6" cy="952.2" r="5.05"/>
<circle cx="165.7" cy="1018.2" r="5.05"/>
<circle cx="179.3" cy="989.8" r="5.05"/>
<circle cx="267.8" cy="923.2" r="5.05"/>
<circle cx="245.9" cy="943.1" r="5.05"/>
<circle cx="170.1" cy="919.1" r="5.05"/>
<circle cx="287.6" cy="939.3" r="5.05"/>
<circle cx="216.1" cy="957.2" r="5.05"/>
<circle cx="138.3" cy="991.0" r="5.05"/>
<circle cx="191.5" cy="918.1" r="5.05"/>
<circle cx="189.9" cy="988.1" r="5.05"/>
<circle cx="239.9" cy="944.4" r="5.05"/>
<circle cx="218.5" cy="910.6" r="5.05"/>
<circle cx="165.9" cy="986.8" r="5.05"/>
<circle cx="190.9" cy="998.9" r="5.05"/>
<circle cx="236.3" cy="954.6" r="5.05"/>
<circle cx="194.7" cy="967.5" r="5.05"/>
<circle cx="169.1" cy="948.6" r="5.05"/>
<circle cx="174.9" cy="1001.3" r="5.05"/>
<circle cx="222.9" cy="970.6" r="5.05"/>
<circle cx="234.8" cy="906.8" r="5.05"/>
<circle cx="259.1" cy="929.1" r="5.05"/>
<circle cx="204.3" cy="980.2" r="5.05"/>
<circle cx="287.4" cy="915.3" r="5.05"/>
<circle cx="150.2" cy="945.2" r="5.05"/>
<circle cx="216.0" cy="910.0" r="5.05"/>
<circle cx="169.6" cy="1006.1" r="5.05"/>
<circle cx="196.5" cy="910.0" r="5.05"/>
<circle cx="163.5" cy="967.4" r="5.05"/>
<circle cx="164.6" cy="953.7" r="5.05"/>
<circle cx="220.6" cy="948.9" r="5.05"/>
<circle cx="136.7" cy="1014.6" r="5.05"/>
<circle cx="220.6" cy="919.2" r="5.05"/>
<circle cx="259.8" cy="931.1" r="5.05"/>
<circle cx="251.0" cy="920.6" r="5.05"/>
<circle cx="226.2" cy="976.9" r="5.05"/>
<circle cx="193.8" cy="954.3" r="5.05"/>
<circle cx="144.5" cy="976.2" r="5.05"/>
<circle cx="245.3" cy="910.6" r="5.05"/>
<circle cx="150.3" cy="1002.4" r="5.05"/>
<circle cx="274.1" cy="896.8" r="5.05"/>
<circle cx="212.8" cy="923.5" r="5.05"/>
<circle cx="182.3" cy="951.8" r="5.05"/>
<circle cx="193.8" cy="995.7" r="5.05"/>
<circle cx="250.4" cy="905.3" r="5.05"/>
<circle cx="139.9" cy="991.4" r="5.05"/>
<circle cx="197.2" cy="931.9" r="5.05"/>
<circle cx="145.7" cy="1017.0" r="5.05"/>
<circle cx="216.5" cy="949.1" r="5.05"/>
<circle cx="162.7" cy="944.4" r="5.05"/>
<circle cx="208.3" cy="967.0" r="5.05"/>
<circle cx="173.5" cy="964.7" r="5.05"/>
<circle cx="273.2" cy="900.7" r="5.05"/>
<circle cx="155.1" cy="930.2" r="5.05"/>
<circle cx="166.9" cy="976.1" r="5.05"/>
<circle cx="186.3" cy="970.0" r="5.05"/>
<circle cx="188.2" cy="907.2" r="5.05"/>
<circle cx="241.9" cy="928.4" r="5.05"/>
<circle cx="261.3" cy="931.0" r="5.05"/>
<circle cx="152.6" cy="988.0" r="5.05"/>
<circle cx="145.0" cy="1015.5" r="5.05"/>
<circle cx="138.1" cy="987.0" r="5.05"/>
<circle cx="193.4" cy="914.1" r="5.05"/>
<circle cx="197.6" cy="957.2" r="5.05"/>
<circle cx="200.8" cy="906.4" r="5.05"/>
<circle cx="218.2" cy="930.2" r="5.05"/>
<circle cx="204.1" cy="920.6" r="5.05"/>
<circle cx="290.0" cy="933.1" r="5.05"/>
<circle cx="197.3" cy="991.2" r="5.05"/>
<circle cx="140.8" cy="950.2" r="5.05"/>
<circle cx="274.7" cy="917.2" r="5.05"/>
<circle cx="204.9" cy="992.2" r="5.05"/>
<circle cx="178.5" cy="910.5" r="5.05"/>
<circle cx="217.6" cy="947.0" r="5.05"/>
<circle cx="172.3" cy="965.2" r="5.05"/>
<circle cx="182.7" cy="968.5" r="5.05"/>
<circle cx="248.4" cy="898.5" r="5.05"/>
<circle cx="282.8" cy="904.6" r="5.05"/>
<circle cx="182.5" cy="985.9" r="5.05"/>
<circle cx="154.4" cy="953.4" r="5.05"/>
<circle cx="217.3" cy="908.4" r="5.05"/>
<circle cx="266.2" cy="945.9" r="5.05"/>
<circle cx="174.6" cy="922.3" r="5.05"/>
<circle cx="269.2" cy="896.3" r="5.05"/>
<circle cx="253.5" cy="903.1" r="5.05"/>
<circle cx="250.1" cy="927.2" r="5.05"/>
<circle cx="214.0" cy="915.0" r="5.05"/>
<circle cx="204.4" cy="927.7" r="5.05"/>
<circle cx="228.3" cy="930.1" r="5.05"/>
<circle cx="178.2" cy="976.1" r="5.05"/>
<circle cx="147.8" cy="997.4" r="5.05"/>
<circle cx="213.8" cy="920.7" r="5.05"/>
<circle cx="152.5" cy="958.2" r="5.05"/>
<circle cx="215.1" cy="986.4" r="5.05"/>
<circle cx="194.2" cy="945.2" r="5.05"/>
<circle cx="277.7" cy="926.7" r="5.05"/>
<circle cx="175.4" cy="999.1" r="5.05"/>
<circle cx="232.5" cy="917.3" r="5.05"/>
<circle cx="146.8" cy="1005.7" r="5.05"/>
<circle cx="162.2" cy="924.7" r="5.05"/>
<circle cx="233.2" cy="916.0" r="5.05"/>
<circle cx="208.5" cy="985.6" r="5.05"/>
<circle cx="149.5" cy="978.5" r="5.05"/>
<circle cx="150.8" cy="953.7" r="5.05"/>
<circle cx="202.4" cy="940.2" r="5.05"/>
<circle cx="238.7" cy="943.9" r="5.05"/>
<circle cx="225.7" cy="959.1" r="5.05"/>
<circle cx="164.3" cy="1017.2" r="5.05"/>
<circle cx="269.1" cy="922.2" r="5.05"/>
<circle cx="275.6" cy="925.9" r="5.05"/>
<circle cx="184.3" cy="939.4" r="5.05"/>
<circle cx="225.4" cy="918.4" r="5.05"/>
<circle cx="158.9" cy="986.1" r="5.05"/>
<circle cx="170.0" cy="1003.6" r="5.05"/>
<circle cx="187.0" cy="1003.7" r="5.05"/>
<circle cx="182.7" cy="925.8" r="5.05"/>
<circle cx="204.1" cy="940.9" r="5.05"/>
<circle cx="136.0" cy="1005.4" r="5.05"/>
<circle cx="288.6" cy="920.6" r="5.05"/>
<circle cx="150.0" cy="985.1" r="5.05"/>
<circle cx="227.7" cy="957.5" r="5.05"/>
<circle cx="173.6" cy="928.4" r="5.05"/>
<circle cx="154.1" cy="1003.7" r="5.05"/>
<circle cx="137.4" cy="985.3" r="5.05"/>
<circle cx="158.9" cy="962.3" r="5.05"/>
<circle cx="176.8" cy="943.5" r="5.05"/>
<circle cx="164.8" cy="984.9" r="5.05"/>
<circle cx="225.2" cy="933.7" r="5.05"/>
<circle cx="283.4" cy="939.7" r="5.05"/>
<circle cx="150.4" cy="934.7" r="5.05"/>
<circle cx="205.7" cy="951.9" r="5.05"/>
<circle cx="256.3" cy="932.6" r="5.05"/>
<circle cx="151.7" cy="973.0" r="5.05"/>
<circle cx="264.2" cy="923.3" r="5.05"/>
<circle cx="213.4" cy="934.8" r="5.05"/>
<circle cx="235.7" cy="913.2" r="5.05"/>
<circle cx="290.5" cy="913.4" r="5.05"/>
<circle cx="146.2" cy="950.6" r="5.05"/>
<circle cx="136.9" cy="954.4" r="5.05"/>
<circle cx="172.3" cy="930.8" r="5.05"/>
<circle cx="213.1" cy="942.9" r="5.05"/>
<circle cx="237.9" cy="957.7" r="5.05"/>
<circle cx="186.0" cy="971.3" r="5.05"/>
<circle cx="195.7" cy="925.1" r="5.05"/>
<circle cx="233.9" cy="898.8" r="5.05"/>
<circle cx="221.3" cy="940.3" r="5.05"/>
<circle cx="213.2" cy="944.2" r="5.05"/>
<circle cx="150.5" cy="988.0" r="5.05"/>
<circle cx="152.6" cy="970.3" r="5.05"/>
<circle cx="256.1" cy="896.1" r="5.05"/>
<circle cx="178.5" cy="1013.3" r="5.05"/>
<circle cx="173.8" cy="967.3" r="5.05"/>
<circle cx="195.0" cy="929.7" r="5.05"/>
<circle cx="187.4" cy="962.8" r="5.05"/>
<circle cx="208.1" cy="964.0" r="5.05"/>
<circle cx="234.4" cy="954.1" r="5.05"/>
<circle cx="236.1" cy="961.5" r="5.05"/>
<circle cx="275.1" cy="898.0" r="5.05"/>
<circle cx="261.2" cy="894.1" r="5.05"/>
<circle cx="172.3" cy="941.1" r="5.05"/>
<circle cx="170.5" cy="984.4" r="5.05"/>
<circle cx="219.1" cy="971.2" r="5.05"/>
<circle cx="186.4" cy="968.6" r="5.05"/>
<circle cx="287.2" cy="923.1" r="5.05"/>
<circle cx="217.1" cy="941.7" r="5.05"/>
<circle cx="189.7" cy="997.7" r="5.05"/>
<circle cx="162.2" cy="964.8" r="5.05"/>
<circle cx="160.3" cy="1002.7" r="5.05"/>
<circle cx="197.9" cy="963.4" r="5.05"/>
<circle cx="283.4" cy="898.6" r="5.05"/>
<circle cx="187.1" cy="910.9" r="5.05"/>
<circle cx="155.5" cy="930.7" r="5.05"/>
<circle cx="153.6" cy="997.4" r="5.05"/>
<circle cx="215.7" cy="909.2" r="5.05"/>
<circle cx="168.9" cy="1015.9" r="5.05"/>
<circle cx="264.5" cy="920.7" r="5.05"/>
<circle cx="267.0" cy="903.1" r="5.05"/>
<circle cx="184.5" cy="981.6" r="5.05"/>
<circle cx="225.3" cy="926.9" r="5.05"/>
<circle cx="174.5" cy="962.7" r="5.05"/>
<circle cx="155.8" cy="1005.2" r="5.05"/>
<circle cx="277.2" cy="922.5" r="5.05"/>
<circle cx="153.6" cy="994.3" r="5.05"/>
<circle cx="257.4" cy="931.0" r="5.05"/>
<circle cx="265.3" cy="911.4" r="5.05"/>
<circle cx="151.1" cy="936.8" r="5.05"/>
<circle cx="275.7" cy="911.7" r="5.05"/>
<circle cx="145.8" cy="990.9" r="5.05"/>
<circle cx="148.7" cy="979.5" r="5.05"/>
<circle cx="199.9" cy="950.2" r="5.05"/>
<circle cx="173.0" cy="995.7" r="5.05"/>
<circle cx="219.6" cy="983.7" r="5.05"/>
<circle cx="154.5" cy="941.6" r="5.05"/>
<circle cx="181.2" cy="927.8" r="5.05"/>
<circle cx="253.0" cy="918.7" r="5.05"/>
<circle cx="186.4" cy="927.8" r="5.05"/>
<circle cx="211.4" cy="940.9" r="5.05"/>
<circle cx="206.4" cy="966.0" r="5.05"/>
<circle cx="272.9" cy="924.4" r="5.05"/>
<circle cx="159.2" cy="947.9" r="5.05"/>
<circle cx="277.6" cy="940.4" r="5.05"/>
<circle cx="153.9" cy="975.3" r="5.05"/>
<circle cx="240.3" cy="931.2" r="5.05"/>
<circle cx="216.9" cy="928.6" r="5.05"/>
<circle cx="205.8" cy="952.7" r="5.05"/>
<circle cx="289.3" cy="908.6" r="5.05"/>
<circle cx="168.4" cy="990.8" r="5.05"/>
<circle cx="209.4" cy="945.1" r="5.05"/>
<circle cx="165.6" cy="997.2" r="5.05"/>
<circle cx="251.7" cy="901.9" r="5.05"/>
<circle cx="291.5" cy="919.7" r="5.05"/>
<circle cx="194.4" cy="945.6" r="5.05"/>
<circle cx="192.9" cy="904.4" r="5.05"/>
<circle cx="145.1" cy="959.5" r="5.05"/>
<circle cx="227.9" cy="949.9" r="5.05"/>
<circle cx="190.5" cy="946.0" r="5.05"/>
<circle cx="161.7" cy="1015.8" r="5.05"/>
<circle cx="229.1" cy="962.7" r="5.05"/>
<circle cx="202.6" cy="923.5" r="5.05"/>
<circle cx="184.8" cy="956.1" r="5.05"/>
<circle cx="224.7" cy="917.7" r="5.05"/>
<circle cx="189.7" cy="994.9" r="5.05"/>
<circle cx="277.2" cy="921.7" r="5.05"/>
<circle cx="220.5" cy="961.4" r="5.05"/>
<circle cx="266.0" cy="930.5" r="5.05"/>
<circle cx="144.8" cy="964.1" r="5.05"/>
<circle cx="239.3" cy="920.1" r="5.05"/>
<circle cx="141.1" cy="955.3" r="5.05"/>
<circle cx="139.5" cy="988.7" r="5.05"/>
<circle cx="234.7" cy="927.4" r="5.05"/>
<circle cx="205.8" cy="921.2" r="5.05"/>
<circle cx="249.2" cy="936.6" r="5.05"/>
<circle cx="239.3" cy="942.6" r="5.05"/>
<circle cx="224.4" cy="915.5" r="5.05"/>
<circle cx="219.7" cy="975.6" r="5.05"/>
<circle cx="150.1" cy="934.8" r="5.05"/>
<circle cx="171.1" cy="1003.0" r="5.05"/>
<circle cx="249.7" cy="930.4" r="5.05"/>
<circle cx="171.4" cy="984.4" r="5.05"/>
<circle cx="182.1" cy="986.9" r="5.05"/>
<circle cx="190.3" cy="991.9" r="5.05"/>
<circle cx="275.2" cy="894.0" r="5.05"/>
<circle cx="221.8" cy="942.0" r="5.05"/>
<circle cx="257.9" cy="932.2" r="5.05"/>
<circle cx="167.5" cy="995.1" r="5.05"/>
<circle cx="258.2" cy="919.2" r="5.05"/>
<circle cx="175.7" cy="979.2" r="5.05"/>
<circle cx="205.4" cy="988.2" r="5.05"/>
<circle cx="241.7" cy="917.6" r="5.05"/>
<circle cx="220.2" cy="970.1" r="5.05"/>
<circle cx="251.3" cy="916.5" r="5.05"/>
<circle cx="184.0" cy="936.0" r="5.05"/>
<circle cx="149.4" cy="936.7" r="5.05"/>
<circle cx="161.8" cy="988.0" r="5.05"/>
<circle cx="152.8" cy="990.7" r="5.05"/>
<circle cx="174.5" cy="959.0" r="5.05"/>
<circle cx="177.5" cy="1008.5" r="5.05"/>
<circle cx="285.1" cy="928.0" r="5.05"/>
<circle cx="224.3" cy="924.2" r="5.05"/>
<circle cx="185.7" cy="916.6" r="5.05"/>
<circle cx="137.8" cy="1002.0" r="5.05"/>
<circle cx="278.8" cy="926.5" r="5.05"/>
<circle cx="193.1" cy="906.0" r="5.05"/>
<circle cx="162.9" cy="923.5" r="5.05"/>
<circle cx="227.1" cy="949.8" r="5.05"/>
<circle cx="183.1" cy="960.5" r="5.05"/>
<circle cx="210.6" cy="934.2" r="5.05"/>
<circle cx="155.6" cy="1008.7" r="5.05"/>
<circle cx="231.9" cy="903.2" r="5.05"/>
<circle cx="139.4" cy="983.9" r="5.05"/>
<circle cx="172.3" cy="961.8" r="5.05"/>
<circle cx="268.3" cy="937.0" r="5.05"/>
<circle cx="214.2" cy="979.1" r="5.05"/>
<circle cx="165.0" cy="973.9" r="5.05"/>
<circle cx="164.2" cy="985.3" r="5.05"/>
<circle cx="219.0" cy="913.4" r="5.05"/>
<circle cx="262.0" cy="902.9" r="5.05"/>
<circle cx="284.1" cy="935.3" r="5.05"/>
<circle cx="277.5" cy="916.8" r="5.05"/>
<circle cx="152.9" cy="1003.7" r="5.05"/>
<circle cx="230.7" cy="903.4" r="5.05"/>
<circle cx="288.3" cy="903.7" r="5.05"/>
<circle cx="185.1" cy="981.7" r="5.05"/>
<circle cx="200.1" cy="990.6" r="5.05"/>
<circle cx="141.0" cy="1015.1" r="5.05"/>
<circle cx="195.9" cy="997.6" r="5.05"/>
<circle cx="182.5" cy="963.0" r="5.05"/>
<circle cx="138.1" cy="955.6" r="5.05"/>
<circle cx="146.7" cy="1005.1" r="5.05"/>
<circle cx="243.0" cy="947.0" r="5.05"/>
<circle cx="288.0" cy="901.0" r="5.05"/>
<circle cx="282.7" cy="926.3" r="5.05"/>
<circle cx="227.9" cy="907.6" r="5.05"/>
<circle cx="150.8" cy="1017.8" r="5.05"/>
<circle cx="140.8" cy="983.2" r="5.05"/>
<circle cx="213.4" cy="955.8" r="5.05"/>
<circle cx="157.4" cy="958.6" r="5.05"/>
<circle cx="263.1" cy="907.6" r="5.05"/>
<circle cx="176.8" cy="922.1" r="5.05"/>
<circle cx="208.0" cy="976.8" r="5.05"/>
<circle cx="216.3" cy="958.7" r="5.05"/>
<circle cx="293.2" cy="918.8" r="5.05"/>
<circle cx="184.4" cy="906.6" r="5.05"/>
<circle cx="182.6" cy="987.7" r="5.05"/>
<circle cx="167.2" cy="964.3" r="5.05"/>
<circle cx="161.0" cy="936.1" r="5.05"/>
<circle cx="291.4" cy="905.9" r="5.05"/>
<circle cx="217.1" cy="965.3" r="5.05"/>
<circle cx="226.2" cy="907.3" r="5.05"/>
<circle cx="202.6" cy="946.5" r="5.05"/>
<circle cx="203.6" cy="965.2" r="5.05"/>
<circle cx="192.2" cy="942.4" r="5.05"/>
<circle cx="202.7" cy="939.8" r="5.05"/>
<circle cx="290.5" cy="902.1" r="5.05"/>
<circle cx="136.7" cy="986.7" r="5.05"/>
<circle cx="197.6" cy="950.2" r="5.05"/>
<circle cx="229.3" cy="939.2" r="5.05"/>
<circle cx="180.0" cy="952.3" r="5.05"/>
<circle cx="172.8" cy="924.1" r="5.05"/>
<circle cx="209.6" cy="941.9" r="5.05"/>
<circle cx="171.6" cy="997.0" r="5.05"/>
<circle cx="152.4" cy="969.6" r="5.05"/>
<circle cx="207.9" cy="909.4" r="5.05"/>
<circle cx="143.7" cy="988.1" r="5.05"/>
<circle cx="145.0" cy="998.4" r="5.05"/>
<circle cx="241.2" cy="953.4" r="5.05"/>
<circle cx="233.3" cy="903.4" r="5.05"/>
<circle cx="228.8" cy="946.4" r="5.05"/>
<circle cx="174.2" cy="1014.4" r="5.05"/>
<circle cx="251.6" cy="906.3" r="5.05"/>
<circle cx="170.9" cy="935.9" r="5.05"/>
<circle cx="226.2" cy="933.5" r="5.05"/>
<circle cx="163.3" cy="986.5" r="5.05"/>
<circle cx="287.2" cy="933.9" r="5.05"/>
<circle cx="231.6" cy="904.8" r="5.05"/>
<circle cx="200.1" cy="973.5" r="5.05"/>
<circle cx="236.7" cy="935.9" r="5.05"/>
<circle cx="224.2" cy="912.9" r="5.05"/>
<circle cx="183.3" cy="972.9" r="5.05"/>
<circle cx="175.0" cy="968.5" r="5.05"/>
<circle cx="178.4" cy="994.8" r="5.05"/>
<circle cx="159.1" cy="925.1" r="5.05"/>
<circle cx="187.5" cy="942.9" r="5.05"/>
<circle cx="256.3" cy="944.1" r="5.05"/>
<circle cx="210.5" cy="943.1" r="5.05"/>
<circle cx="218.6" cy="981.4" r="5.05"/>
<circle cx="195.4" cy="926.4" r="5.05"/>
<circle cx="155.8" cy="1008.6" r="5.05"/>
<circle cx="191.9" cy="983.6" r="5.05"/>
<circle cx="208.2" cy="960.6" r="5.05"/>
<circle cx="188.1" cy="981.3" r="5.05"/>
<circle cx="248.4" cy="948.0" r="5.05"/>
<circle cx="168.1" cy="1000.3" r="5.05"/>
<circle cx="222.6" cy="933.8" r="5.05"/>
<circle cx="174.0" cy="929.0" r="5.05"/>
<circle cx="179.1" cy="936.4" r="5.05"/>
<circle cx="239.3" cy="905.2" r="5.05"/>
<circle cx="175.6" cy="960.8" r="5.05"/>
<circle cx="203.2" cy="922.4" r="5.05"/>
<circle cx="292.1" cy="924.3" r="5.05"/>
<circle cx="270.5" cy="905.7" r="5.05"/>
<circle cx="239.1" cy="937.8" r="5.05"/>
<circle cx="277.1" cy="929.8" r="5.05"/>
<circle cx="179.4" cy="926.5" r="5.05"/>
<circle cx="148.0" cy="1022.0" r="5.05"/>
<circle cx="141.0" cy="972.1" r="5.05"/>
<circle cx="190.3" cy="915.0" r="5.05"/>
<circle cx="173.9" cy="912.1" r="5.05"/>
<circle cx="216.2" cy="914.1" r="5.05"/>
<circle cx="274.7" cy="904.9" r="5.05"/>
<circle cx="162.0" cy="922.4" r="5.05"/>
<circle cx="216.7" cy="953.8" r="5.05"/>
<circle cx="140.8" cy="1001.3" r="5.05"/>
<circle cx="157.0" cy="970.7" r="5.05"/>
<circle cx="259.9" cy="907.3" r="5.05"/>
<circle cx="181.4" cy="1004.0" r="5.05"/>
<circle cx="244.9" cy="904.5" r="5.05"/>
<circle cx="199.8" cy="910.8" r="5.05"/>
<circle cx="240.1" cy="932.8" r="5.05"/>
<circle cx="198.8" cy="907.0" r="5.05"/>
<circle cx="196.0" cy="963.9" r="5.05"/>
<circle cx="222.9" cy="944.1" r="5.05"/>
<circle cx="262.8" cy="901.8" r="5.05"/>
<circle cx="149.7" cy="1007.3" r="5.05"/>
<circle cx="185.8" cy="944.6" r="5.05"/>
<circle cx="220.7" cy="903.5" r="5.05"/>
<circle cx="185.1" cy="909.5" r="5.05"/>
<circle cx="193.8" cy="936.0" r="5.05"/>
<circle cx="158.7" cy="1001.5" r="5.05"/>
<circle cx="188.7" cy="933.0" r="5.05"/>
<circle cx="276.1" cy="937.3" r="5.05"/>
<circle cx="245.6" cy="944.1" r="5.05"/>
<circle cx="223.4" cy="938.6" r="5.05"/>
<circle cx="178.1" cy="1008.6" r="5.05"/>
<circle cx="262.9" cy="930.9" r="5.05"/>
<circle cx="289.2" cy="895.3" r="5.05"/>
<circle cx="223.2" cy="962.3" r="5.05"/>
<circle cx="200.1" cy="964.7" r="5.05"/>
<circle cx="148.5" cy="1013.3" r="5.05"/>
<circle cx="283.8" cy="896.9" r="5.05"/>
<circle cx="259.4" cy="910.5" r="5.05"/>
<circle cx="159.2" cy="960.7" r="5.05"/>
<circle cx="198.1" cy="954.2" r="5.05"/>
<circle cx="183.0" cy="988.1" r="5.05"/>
<circle cx="244.2" cy="950.4" r="5.05"/>
<circle cx="270.8" cy="909.9" r="5.05"/>
<circle cx="188.4" cy="985.7" r="5.05"/>
<circle cx="266.6" cy="940.0" r="5.05"/>
<circle cx="146.3" cy="966.4" r="5.05"/>
<circle cx="185.8" cy="925.0" r="5.05"/>
<circle cx="206.1" cy="900.5" r="5.05"/>
<circle cx="223.9" cy="949.6" r="5.05"/>
<circle cx="183.7" cy="970.8" r="5.05"/>
<circle cx="267.0" cy="900.1" r="5.05"/>
<circle cx="153.9" cy="936.3" r="5.05"/>
<circle cx="154.3" cy="946.6" r="5.05"/>
<circle cx="288.4" cy="919.7" r="5.05"/>
<circle cx="219.0" cy="930.3" r="5.05"/>
<circle cx="230.2" cy="930.2" r="5.05"/>
<circle cx="249.0" cy="953.1" r="5.05"/>
<circle cx="208.7" cy="928.3" r="5.05"/>
<circle cx="140.5" cy="952.4" r="5.05"/>
<circle cx="233.2" cy="914.9" r="5.05"/>
<circle cx="212.6" cy="913.5" r="5.05"/>
<circle cx="177.7" cy="988.8" r="5.05"/>
<circle cx="292.5" cy="904.9" r="5.05"/>
<circle cx="190.2" cy="970.1" r="5.05"/>
<circle cx="152.1" cy="1003.1" r="5.05"/>
<circle cx="187.0" cy="930.9" r="5.05"/>
<circle cx="162.3" cy="1019.4" r="5.05"/>
<circle cx="144.2" cy="962.8" r="5.05"/>
<circle cx="284.8" cy="903.9" r="5.05"/>
<circle cx="286.3" cy="925.3" r="5.05"/>
<circle cx="224.3" cy="938.3" r="5.05"/>
<circle cx="175.3" cy="1000.0" r="5.05"/>
<circle cx="286.0" cy="924.1" r="5.05"/>
<circle cx="193.1" cy="968.0" r="5.05"/>
<circle cx="172.1" cy="984.9" r="5.05"/>
<circle cx="239.1" cy="902.7" r="5.05"/>
<circle cx="282.1" cy="899.6" r="5.05"/>
<circle cx="246.1" cy="936.7" r="5.05"/>
<circle cx="219.7" cy="926.8" r="5.05"/>
<circle cx="269.7" cy="944.8" r="5.05"/>
<circle cx="166.1" cy="1005.1" r="5.05"/>
<circle cx="138.0" cy="962.0" r="5.05"/>
<circle cx="226.6" cy="909.6" r="5.05"/>
<circle cx="163.8" cy="945.2" r="5.05"/>
<circle cx="229.2" cy="947.5" r="5.05"/>
<circle cx="248.8" cy="907.7" r="5.05"/>
<circle cx="175.1" cy="998.2" r="5.05"/>
<circle cx="203.5" cy="921.8" r="5.05"/>
<circle cx="245.8" cy="904.4" r="5.05"/>
<circle cx="169.9" cy="948.9" r="5.05"/>
<circle cx="184.9" cy="953.7" r="5.05"/>
<circle cx="160.1" cy="943.9" r="5.05"/>
<circle cx="246.7" cy="933.4" r="5.05"/>
<circle cx="262.2" cy="914.7" r="5.05"/>
<circle cx="150.3" cy="974.0" r="5.05"/>
<circle cx="150.9" cy="990.0" r="5.05"/>
<circle cx="241.8" cy="939.6" r="5.05"/>
<circle cx="154.7" cy="972.0" r="5.05"/>
<circle cx="210.1" cy="981.9" r="5.05"/>
<circle cx="232.1" cy="946.7" r="5.05"/>
<circle cx="164.0" cy="952.1" r="5.05"/>
<circle cx="186.9" cy="919.8" r="5.05"/>
<circle cx="173.9" cy="982.5" r="5.05"/>
<circle cx="166.7" cy="936.3" r="5.05"/>
<circle cx="183.3" cy="953.8" r="5.05"/>
<circle cx="139.9" cy="947.8" r="5.05"/>
<circle cx="138.4" cy="960.5" r="5.05"/>
<circle cx="235.8" cy="917.1" r="5.05"/>
<circle cx="271.8" cy="945.4" r="5.05"/>
<circle cx="288.6" cy="937.9" r="5.05"/>
<circle cx="233.8" cy="962.6" r="5.05"/>
<circle cx="176.3" cy="994.5" r="5.05"/>
<circle cx="182.1" cy="971.7" r="5.05"/>
<circle cx="264.2" cy="904.6" r="5.05"/>
<circle cx="259.5" cy="942.3" r="5.05"/>
<circle cx="218.4" cy="946.4" r="5.05"/>
<circle cx="235.5" cy="931.9" r="5.05"/>
<circle cx="177.0" cy="1013.4" r="5.05"/>
<circle cx="188.8" cy="936.8" r="5.05"/>
<circle cx="144.9" cy="1021.1" r="5.05"/>
<circle cx="152.0" cy="987.3" r="5.05"/>
<circle cx="261.5" cy="906.2" r="5.05"/>
<circle cx="217.1" cy="921.4" r="5.05"/>
<circle cx="272.0" cy="906.1" r="5.05"/>
<circle cx="289.1" cy="901.0" r="5.05"/>
<circle cx="254.8" cy="920.3" r="5.05"/>
<circle cx="186.3" cy="935.8" r="5.05"/>
<circle cx="204.0" cy="907.2" r="5.05"/>
<circle cx="257.5" cy="935.1" r="5.05"/>
<circle cx="200.6" cy="989.8" r="5.05"/>
<circle cx="183.8" cy="1003.7" r="5.05"/>
<circle cx="199.7" cy="966.0" r="5.05"/>
<circle cx="184.1" cy="906.5" r="5.05"/>
<circle cx="141.8" cy="986.1" r="5.05"/>
<circle cx="167.2" cy="986.7" r="5.05"/>
<circle cx="170.6" cy="965.7" r="5.05"/>
<circle cx="197.6" cy="926.0" r="5.05"/>
<circle cx="157.9" cy="1005.9" r="5.05"/>
<circle cx="161.7" cy="925.4" r="5.05"/>
<circle cx="216.0" cy="897.9" r="5.05"/>
<circle cx="182.7" cy="962.4" r="5.05"/>
<circle cx="227.0" cy="975.4" r="5.05"/>
<circle cx="169.8" cy="978.2" r="5.05"/>
<circle cx="175.7" cy="941.2" r="5.05"/>
<circle cx="175.9" cy="922.7" r="5.05"/>
<circle cx="186.2" cy="945.5" r="5.05"/>
<circle cx="191.9" cy="933.4" r="5.05"/>
<circle cx="137.1" cy="1002.2" r="5.05"/>
<circle cx="167.1" cy="999.9" r="5.05"/>
<circle cx="277.5" cy="906.4" r="5.05"/>
<circle cx="214.7" cy="965.2" r="5.05"/>
<circle cx="152.9" cy="932.8" r="5.05"/>
<circle cx="136.6" cy="1002.2" r="5.05"/>
<circle cx="146.2" cy="993.1" r="5.05"/>
<circle cx="161.7" cy="936.4" r="5.05"/>
<circle cx="166.2" cy="1005.2" r="5.05"/>
<circle cx="175.9" cy="966.9" r="5.05"/>
<circle cx="242.4" cy="921.3" r="5.05"/>
<circle cx="195.5" cy="903.4" r="5.05"/>
<circle cx="262.3" cy="914.7" r="5.05"/>
<circle cx="155.9" cy="927.2" r="5.05"/>
<circle cx="255.1" cy="918.1" r="5.05"/>
<circle cx="220.1" cy="912.7" r="5.05"/>
<circle cx="146.4" cy="936.9" r="5.05"/>
<circle cx="229.2" cy="961.0" r="5.05"/>
<circle cx="225.1" cy="970.6" r="5.05"/>
<circle cx="146.9" cy="993.6" r="5.05"/>
<circle cx="172.7" cy="969.0" r="5.05"/>
<circle cx="219.3" cy="935.6" r="5.05"/>
<circle cx="202.1" cy="962.4" r="5.05"/>
<circle cx="256.4" cy="919.0" r="5.05"/>
<circle cx="225.5" cy="948.9" r="5.05"/>
<circle cx="171.2" cy="994.7" r="5.05"/>
<circle cx="169.6" cy="985.1" r="5.05"/>
<circle cx="212.8" cy="947.2" r="5.05"/>
<circle cx="262.8" cy="925.4" r="5.05"/>
<circle cx="241.7" cy="956.4" r="5.05"/>
<circle cx="209.7" cy="961.3" r="5.05"/>
<circle cx="211.9" cy="899.5" r="5.05"/>
<circle cx="161.6" cy="949.5" r="5.05"/>
<circle cx="190.1" cy="957.0" r="5.05"/>
<circle cx="219.3" cy="942.1" r="5.05"/>
<circle cx="179.3" cy="937.1" r="5.05"/>
<circle cx="185.4" cy="989.5" r="5.05"/>
<circle cx="167.2" cy="939.4" r="5.05"/>
<circle cx="198.3" cy="941.6" r="5.05"/>
<circle cx="267.3" cy="934.8" r="5.05"/>
<circle cx="139.8" cy="1018.3" r="5.05"/>
<circle cx="220.0" cy="968.0" r="5.05"/>
<circle cx="144.7" cy="989.8" r="5.05"/>
<circle cx="194.2" cy="976.2" r="5.05"/>
<circle cx="179.7" cy="1013.0" r="5.05"/>
<circle cx="193.4" cy="926.9" r="5.05"/>
<circle cx="277.9" cy="919.8" r="5.05"/>
<circle cx="177.6" cy="955.2" r="5.05"/>
<circle cx="291.9" cy="905.5" r="5.05"/>
<circle cx="167.9" cy="996.6" r="5.05"/>
<circle cx="146.1" cy="945.5" r="5.05"/>
<circle cx="261.7" cy="905.7" r="5.05"/>
<circle cx="277.3" cy="937.8" r="5.05"/>
<circle cx="175.5" cy="910.2" r="5.05"/>
<circle cx="160.4" cy="1007.2" r="5.05"/>
<circle cx="158.3" cy="954.4" r="5.05"/>
<circle cx="209.4" cy="904.4" r="5.05"/>
<circle cx="176.4" cy="1013.5" r="5.05"/>
<circle cx="142.1" cy="1006.8" r="5.05"/>
<circle cx="160.5" cy="922.2" r="5.05"/>
<circle cx="156.1" cy="958.6" r="5.05"/>
<circle cx="227.8" cy="951.7" r="5.05"/>
<circle cx="209.7" cy="908.9" r="5.05"/>
<circle cx="183.7" cy="1001.7" r="5.05"/>
<circle cx="196.6" cy="950.3" r="5.05"/>
<circle cx="175.3" cy="989.7" r="5.05"/>
<circle cx="279.7" cy="908.6" r="5.05"/>
<circle cx="150.9" cy="951.1" r="5.05"/>
<circle cx="164.0" cy="927.5" r="5.05"/>
<circle cx="232.4" cy="902.7" r="5.05"/>
<circle cx="254.8" cy="946.8" r="5.05"/>
<circle cx="283.0" cy="919.9" r="5.05"/>
<circle cx="275.3" cy="920.5" r="5.05"/>
<circle cx="146.3" cy="942.1" r="5.05"/>
<circle cx="249.4" cy="894.6" r="5.05"/>
<circle cx="217.0" cy="962.3" r="5.05"/>
<circle cx="149.8" cy="967.7" r="5.05"/>
<circle cx="205.8" cy="933.9" r="5.05"/>
<circle cx="154.0" cy="996.1" r="5.05"/>
<circle cx="154.9" cy="971.8" r="5.05"/>
<circle cx="290.6" cy="925.1" r="5.05"/>
<circle cx="176.5" cy="1006.1" r="5.05"/>
<circle cx="151.9" cy="996.2" r="5.05"/>
<circle cx="231.7" cy="972.2" r="5.05"/>
<circle cx="239.1" cy="900.7" r="5.05"/>
<circle cx="227.5" cy="922.0" r="5.05"/>
<circle cx="193.3" cy="948.2" r="5.05"/>
<circle cx="236.8" cy="914.3" r="5.05"/>
<circle cx="227.7" cy="933.1" r="5.05"/>
<circle cx="210.2" cy="985.5" r="5.05"/>
<circle cx="137.3" cy="958.0" r="5.05"/>
<circle cx="184.6" cy="970.3" r="5.05"/>
<circle cx="235.4" cy="928.7" r="5.05"/>
<circle cx="175.2" cy="958.3" r="5.05"/>
<circle cx="219.7" cy="919.9" r="5.05"/>
<circle cx="191.2" cy="924.0" r="5.05"/>
<circle cx="285.0" cy="923.2" r="5.05"/>
<circle cx="145.5" cy="974.6" r="5.05"/>
<circle cx="138.0" cy="1004.7" r="5.05"/>
<circle cx="243.3" cy="935.1" r="5.05"/>
<circle cx="205.1" cy="981.5" r="5.05"/>
<circle cx="159.8" cy="938.9" r="5.05"/>
<circle cx="228.2" cy="903.8" r="5.05"/>
<circle cx="169.0" cy="924.4" r="5.05"/>
<circle cx="139.1" cy="975.8" r="5.05"/>
<circle cx="209.5" cy="959.4" r="5.05"/>
<circle cx="179.3" cy="952.2" r="5.05"/>
<circle cx="165.8" cy="973.6" r="5.05"/>
<circle cx="216.0" cy="953.7" r="5.05"/>
<circle cx="239.0" cy="957.1" r="5.05"/>
<circle cx="139.8" cy="950.5" r="5.05"/>
<circle cx="160.5" cy="984.7" r="5.05"/>
<circle cx="148.1" cy="952.1" r="5.05"/>
<circle cx="264.5" cy="935.7" r="5.05"/>
<circle cx="157.2" cy="1006.0" r="5.05"/>
<circle cx="144.2" cy="964.7" r="5.05"/>
<circle cx="275.1" cy="904.1" r="5.05"/>
<circle cx="226.7" cy="914.3" r="5.05"/>
<circle cx="187.4" cy="910.0" r="5.05"/>
<circle cx="146.2" cy="1006.4" r="5.05"/>
<circle cx="213.2" cy="900.9" r="5.05"/>
<circle cx="247.4" cy="913.2" r="5.05"/>
<circle cx="186.6" cy="978.7" r="5.05"/>
<circle cx="248.3" cy="951.7" r="5.05"/>
<circle cx="178.4" cy="946.3" r="5.05"/>
<circle cx="249.1" cy="920.6" r="5.05"/>
<circle cx="159.4" cy="954.9" r="5.05"/>
<circle cx="239.9" cy="898.9" r="5.05"/>
<circle cx="177.0" cy="993.4" r="5.05"/>
<circle cx="259.1" cy="896.4" r="5.05"/>
<circle cx="211.7" cy="979.1" r="5.05"/>
<circle cx="218.0" cy="914.5" r="5.05"/>
<circle cx="246.0" cy="907.3" r="5.05"/>
<circle cx="183.9" cy="1004.1" r="5.05"/>
<circle cx="225.5" cy="958.5" r="5.05"/>
<circle cx="195.8" cy="964.0" r="5.05"/>
<circle cx="159.5" cy="1004.6" r="5.05"/>
<circle cx="179.6" cy="997.8" r="5.05"/>
<circle cx="253.4" cy="925.8" r="5.05"/>
<circle cx="175.0" cy="945.0" r="5.05"/>
<circle cx="212.9" cy="963.1" r="5.05"/>
<circle cx="275.6" cy="899.4" r="5.05"/>
<circle cx="191.6" cy="982.0" r="5.05"/>
<circle cx="220.1" cy="956.6" r="5.05"/>
<circle cx="175.7" cy="919.9" r="5.05"/>
<circle cx="241.9" cy="935.7" r="5.05"/>
<circle cx="290.2" cy="927.1" r="5.05"/>
<circle cx="216.8" cy="904.0" r="5.05"/>
<circle cx="256.8" cy="938.8" r="5.05"/>
<circle cx="142.5" cy="1003.2" r="5.05"/>
<circle cx="271.8" cy="899.2" r="5.05"/>
<circle cx="196.6" cy="947.0" r="5.05"/>
<circle cx="232.0" cy="960.6" r="5.05"/>
<circle cx="239.5" cy="900.0" r="5.05"/>
<circle cx="146.2" cy="1010.4" r="5.05"/>
<circle cx="192.6" cy="953.3" r="5.05"/>
<circle cx="290.7" cy="916.1" r="5.05"/>
<circle cx="236.3" cy="898.2" r="5.05"/>
<circle cx="159.3" cy="991.8" r="5.05"/>
<circle cx="162.7" cy="935.3" r="5.05"/>
<circle cx="186.4" cy="1005.1" r="5.05"/>
<circle cx="259.8" cy="929.0" r="5.05"/>
<circle cx="146.4" cy="1017.3" r="5.05"/>
<circle cx="191.7" cy="942.0" r="5.05"/>
<circle cx="235.5" cy="948.9" r="5.05"/>
<circle cx="178.6" cy="960.4" r="5.05"/>
<circle cx="211.0" cy="908.9" r="5.05"/>
<circle cx="157.6" cy="957.9" r="5.05"/>
<circle cx="262.6" cy="947.9" r="5.05"/>
<circle cx="143.5" cy="1015.3" r="5.05"/>
<circle cx="156.1" cy="1008.5" r="5.05"/>
<circle cx="141.3" cy="977.1" r="5.05"/>
<circle cx="157.5" cy="924.9" r="5.05"/>
<circle cx="201.9" cy="991.2" r="5.05"/>
<circle cx="204.1" cy="946.1" r="5.05"/>
<circle cx="198.8" cy="959.8" r="5.05"/>
<circle cx="222.3" cy="937.1" r="5.05"/>
<circle cx="250.1" cy="895.3" r="5.05"/>
<circle cx="242.9" cy="938.8" r="5.05"/>
<circle cx="283.3" cy="930.2" r="5.05"/>
<circle cx="203.7" cy="932.5" r="5.05"/>
<circle cx="219.9" cy="927.6" r="5.05"/>
<circle cx="241.8" cy="945.2" r="5.05"/>
<circle cx="248.0" cy="929.1" r="5.05"/>
<circle cx="207.5" cy="964.6" r="5.05"/>
<circle cx="203.1" cy="901.5" r="5.05"/>
<circle cx="240.6" cy="935.7" r="5.05"/>
<circle cx="280.2" cy="921.4" r="5.05"/>
<circle cx="173.6" cy="914.5" r="5.05"/>
<circle cx="157.2" cy="981.4" r="5.05"/>
<circle cx="227.1" cy="923.7" r="5.05"/>
<circle cx="203.0" cy="971.4" r="5.05"/>
<circle cx="239.7" cy="949.1" r="5.05"/>
<circle cx="148.8" cy="938.8" r="5.05"/>
<circle cx="286.3" cy="940.0" r="5.05"/>
<circle cx="236.9" cy="901.8" r="5.05"/>
<circle cx="194.1" cy="939.9" r="5.05"/>
<circle cx="216.6" cy="923.8" r="5.05"/>
<circle cx="268.9" cy="893.3" r="5.05"/>
<circle cx="154.9" cy="1020.8" r="5.05"/>
<circle cx="233.8" cy="948.5" r="5.05"/>
<circle cx="202.4" cy="909.5" r="5.05"/>
<circle cx="222.2" cy="926.8" r="5.05"/>
<circle cx="153.6" cy="1006.6" r="5.05"/>
<circle cx="181.3" cy="967.3" r="5.05"/>
<circle cx="178.6" cy="1001.3" r="5.05"/>
<circle cx="167.7" cy="976.8" r="5.05"/>
<circle cx="223.3" cy="933.6" r="5.05"/>
<circle cx="146.9" cy="955.2" r="5.05"/>
<circle cx="183.2" cy="997.5" r="5.05"/>
<circle cx="171.4" cy="975.0" r="5.05"/>
<circle cx="152.1" cy="953.4" r="5.05"/>
<circle cx="223.7" cy="946.3" r="5.05"/>
<circle cx="189.9" cy="928.1" r="5.05"/>
<circle cx="164.1" cy="1015.1" r="5.05"/>
<circle cx="269.4" cy="940.7" r="5.05"/>
<circle cx="231.1" cy="964.0" r="5.05"/>
<circle cx="252.4" cy="911.8" r="5.05"/>
<circle cx="272.1" cy="895.6" r="5.05"/>
<circle cx="168.9" cy="944.4" r="5.05"/>
<circle cx="146.1" cy="967.8" r="5.05"/>
<circle cx="169.3" cy="984.0" r="5.05"/>
<circle cx="162.0" cy="982.4" r="5.05"/>
<circle cx="287.0" cy="929.6" r="5.05"/>
<circle cx="244.0" cy="943.2" r="5.05"/>
<circle cx="176.1" cy="1011.7" r="5.05"/>
<circle cx="188.5" cy="1000.1" r="5.05"/>
<circle cx="197.6" cy="996.6" r="5.05"/>
<circle cx="239.4" cy="962.3" r="5.05"/>
<circle cx="274.7" cy="894.3" r="5.05"/>
<circle cx="149.7" cy="1002.9" r="5.05"/>
<circle cx="148.2" cy="1008.2" r="5.05"/>
<circle cx="200.1" cy="969.9" r="5.05"/>
<circle cx="215.7" cy="962.3" r="5.05"/>
<circle cx="208.4" cy="945.2" r="5.05"/>
<circle cx="245.1" cy="904.9" r="5.05"/>
<circle cx="148.9" cy="962.3" r="5.05"/>
<circle cx="163.5" cy="990.4" r="5.05"/>
<circle cx="272.2" cy="915.0" r="5.05"/>
<circle cx="188.0" cy="958.9" r="5.05"/>
<circle cx="251.0" cy="950.1" r="5.05"/>
<circle cx="182.6" cy="1006.2" r="5.05"/>
<circle cx="197.1" cy="946.2" r="5.05"/>
<circle cx="170.0" cy="954.7" r="5.05"/>
<circle cx="247.7" cy="938.5" r="5.05"/>
<circle cx="240.6" cy="956.1" r="5.05"/>
<circle cx="180.4" cy="963.1" r="5.05"/>
<circle cx="288.4" cy="917.7" r="5.05"/>
<circle cx="158.6" cy="1004.1" r="5.05"/>
<circle cx="177.7" cy="958.5" r="5.05"/>
<circle cx="162.1" cy="931.1" r="5.05"/>
<circle cx="171.5" cy="970.1" r="5.05"/>
<circle cx="152.2" cy="959.7" r="5.05"/>
<circle cx="238.3" cy="901.9" r="5.05"/>
<circle cx="222.3" cy="931.5" r="5.05"/>
<circle cx="144.1" cy="945.9" r="5.05"/>
<circle cx="179.5" cy="952.6" r="5.05"/>
<circle cx="178.7" cy="972.9" r="5.05"/>
<circle cx="194.4" cy="953.5" r="5.05"/>
<circle cx="219.4" cy="979.4" r="5.05"/>
<circle cx="161.1" cy="1002.3" r="5.05"/>
<circle cx="159.9" cy="931.9" r="5.05"/>
<circle cx="140.0" cy="1018.0" r="5.05"/>
<circle cx="256.7" cy="911.6" r="5.05"/>
<circle cx="154.0" cy="937.9" r="5.05"/>
<circle cx="147.6" cy="953.1" r="5.05"/>
<circle cx="189.7" cy="989.0" r="5.05"/>
<circle cx="269.8" cy="912.9" r="5.05"/>
<circle cx="225.0" cy="960.6" r="5.05"/>
<circle cx="161.4" cy="933.0" r="5.05"/>
<circle cx="169.4" cy="916.3" r="5.05"/>
<circle cx="232.9" cy="933.5" r="5.05"/>
<circle cx="267.2" cy="901.7" r="5.05"/>
<circle cx="235.8" cy="922.0" r="5.05"/>
<circle cx="246.1" cy="944.4" r="5.05"/>
<circle cx="156.6" cy="930.3" r="5.05"/>
<circle cx="255.1" cy="892.1" r="5.05"/>
<circle cx="235.7" cy="963.1" r="5.05"/>
<circle cx="249.1" cy="934.1" r="5.05"/>
<circle cx="210.8" cy="953.9" r="5.05"/>
<circle cx="254.6" cy="899.8" r="5.05"/>
<circle cx="216.1" cy="924.8" r="5.05"/>
<circle cx="228.9" cy="924.8" r="5.05"/>
<circle cx="167.2" cy="921.0" r="5.05"/>
<circle cx="278.1" cy="938.7" r="5.05"/>
<circle cx="177.3" cy="964.2" r="5.05"/>
<circle cx="235.6" cy="905.1" r="5.05"/>
<circle cx="217.5" cy="956.3" r="5.05"/>
<circle cx="242.0" cy="928.8" r="5.05"/>
<circle cx="145.7" cy="999.7" r="5.05"/>
<circle cx="276.4" cy="930.8" r="5.05"/>
<circle cx="276.0" cy="899.4" r="5.05"/>
<circle cx="268.7" cy="923.3" r="5.05"/>
<circle cx="198.4" cy="956.8" r="5.05"/>
<circle cx="215.8" cy="918.9" r="5.05"/>
<circle cx="176.0" cy="1003.2" r="5.05"/>
<circle cx="290.1" cy="917.6" r="5.05"/>
<circle cx="209.3" cy="900.4" r="5.05"/>
<circle cx="175.1" cy="1000.4" r="5.05"/>
<circle cx="139.3" cy="997.0" r="5.05"/>
<circle cx="175.4" cy="1014.8" r="5.05"/>
<circle cx="193.8" cy="950.3" r="5.05"/>
<circle cx="243.6" cy="904.8" r="5.05"/>
<circle cx="151.0" cy="1000.4" r="5.05"/>
<circle cx="243.2" cy="915.7" r="5.05"/>
<circle cx="248.4" cy="932.6" r="5.05"/>
<circle cx="218.8" cy="900.2" r="5.05"/>
<circle cx="188.7" cy="907.1" r="5.05"/>
<circle cx="186.3" cy="989.1" r="5.05"/>
<circle cx="224.7" cy="908.0" r="5.05"/>
<circle cx="172.8" cy="953.7" r="5.05"/>
<circle cx="206.4" cy="907.9" r="5.05"/>
<circle cx="277.1" cy="907.3" r="5.05"/>
<circle cx="184.8" cy="962.6" r="5.05"/>
<circle cx="183.9" cy="946.5" r="5.05"/>
<circle cx="184.8" cy="977.4" r="5.05"/>
<circle cx="270.8" cy="904.4" r="5.05"/>
<circle cx="144.1" cy="954.1" r="5.05"/>
<circle cx="177.3" cy="971.5" r="5.05"/>
<circle cx="197.9" cy="951.1" r="5.05"/>
<circle cx="220.6" cy="968.8" r="5.05"/>
<circle cx="277.3" cy="927.8" r="5.05"/>
<circle cx="178.2" cy="914.7" r="5.05"/>
<circle cx="152.1" cy="1003.8" r="5.05"/>
<circle cx="282.0" cy="906.9" r="5.05"/>
<circle cx="174.8" cy="953.4" r="5.05"/>
<circle cx="243.8" cy="910.7" r="5.05"/>
<circle cx="153.8" cy="934.3" r="5.05"/>
<circle cx="150.6" cy="997.2" r="5.05"/>
<circle cx="275.5" cy="895.7" r="5.05"/>
<circle cx="238.8" cy="930.2" r="5.05"/>
<circle cx="266.0" cy="900.9" r="5.05"/>
<circle cx="141.5" cy="1017.9" r="5.05"/>
<circle cx="169.6" cy="1012.6" r="5.05"/>
<circle cx="255.4" cy="896.3" r="5.05"/>
<circle cx="149.2" cy="976.6" r="5.05"/>
<circle cx="157.5" cy="979.3" r="5.05"/>
<circle cx="242.3" cy="921.0" r="5.05"/>
<circle cx="210.7" cy="918.4" r="5.05"/>
<circle cx="143.8" cy="1008.7" r="5.05"/>
<circle cx="229.1" cy="956.0" r="5.05"/>
<circle cx="178.7" cy="959.2" r="5.05"/>
<circle cx="249.8" cy="918.0" r="5.05"/>
<circle cx="215.8" cy="968.2" r="5.05"/>
<circle cx="227.3" cy="951.6" r="5.05"/>
<circle cx="216.0" cy="982.2" r="5.05"/>
<circle cx="184.5" cy="937.5" r="5.05"/>
<circle cx="213.1" cy="929.5" r="5.05"/>
<circle cx="193.8" cy="983.8" r="5.05"/>
<circle cx="282.9" cy="911.4" r="5.05"/>
<circle cx="263.4" cy="932.9" r="5.05"/>
<circle cx="157.2" cy="998.1" r="5.05"/>
<circle cx="200.9" cy="936.9" r="5.05"/>
<circle cx="208.7" cy="987.6" r="5.05"/>
<circle cx="257.4" cy="913.6" r="5.05"/>
<circle cx="166.3" cy="935.6" r="5.05"/>
<circle cx="162.5" cy="953.8" r="5.05"/>
<circle cx="155.2" cy="977.5" r="5.05"/>
<circle cx="200.2" cy="923.1" r="5.05"/>
<circle cx="244.4" cy="934.0" r="5.05"/>
<circle cx="137.8" cy="1002.3" r="5.05"/>
<circle cx="181.3" cy="925.4" r="5.05"/>
<circle cx="246.1" cy="909.6" r="5.05"/>
<circle cx="222.3" cy="896.9" r="5.05"/>
<circle cx="179.6" cy="946.7" r="5.05"/>
<circle cx="291.9" cy="909.4" r="5.05"/>
<circle cx="229.3" cy="900.4" r="5.05"/>
<circle cx="162.9" cy="922.3" r="5.05"/>
<circle cx="140.3" cy="963.9" r="5.05"/>
<circle cx="162.0" cy="1013.3" r="5.05"/>
<circle cx="261.1" cy="928.3" r="5.05"/>
<circle cx="290.3" cy="911.4" r="5.05"/>
<circle cx="156.6" cy="941.1" r="5.05"/>
<circle cx="263.7" cy="903.2" r="5.05"/>
<circle cx="262.5" cy="935.1" r="5.05"/>
<circle cx="257.0" cy="916.6" r="5.05"/>
<circle cx="179.0" cy="918.3" r="5.05"/>
<circle cx="158.9" cy="987.2" r="5.05"/>
<circle cx="140.2" cy="952.5" r="5.05"/>
<circle cx="175.4" cy="992.5" r="5.05"/>
<circle cx="135.5" cy="1002.4" r="5.05"/>
<circle cx="278.5" cy="938.4" r="5.05"/>
<circle cx="217.6" cy="977.2" r="5.05"/>
<circle cx="222.1" cy="945.5" r="5.05"/>
<circle cx="188.0" cy="942.8" r="5.05"/>
<circle cx="169.6" cy="931.8" r="5.05"/>
<circle cx="154.2" cy="959.1" r="5.05"/>
<circle cx="196.3" cy="912.5" r="5.05"/>
<circle cx="239.2" cy="936.4" r="5.05"/>
<circle cx="152.2" cy="966.4" r="5.05"/>
<circle cx="227.5" cy="970.1" r="5.05"/>
<circle cx="241.3" cy="924.1" r="5.05"/>
<circle cx="148.4" cy="993.8" r="5.05"/>
<circle cx="136.1" cy="973.8" r="5.05"/>
<circle cx="220.0" cy="899.9" r="5.05"/>
<circle cx="201.4" cy="979.5" r="5.05"/>
<circle cx="273.6" cy="900.3" r="5.05"/>
<circle cx="152.8" cy="1009.6" r="5.05"/>
<circle cx="285.2" cy="935.9" r="5.05"/>
<circle cx="169.4" cy="946.1" r="5.05"/>
<circle cx="202.7" cy="978.1" r="5.05"/>
<circle cx="264.2" cy="905.3" r="5.05"/>
<circle cx="182.3" cy="960.5" r="5.05"/>
<circle cx="151.8" cy="980.7" r="5.05"/>
<circle cx="199.2" cy="902.4" r="5.05"/>
<circle cx="211.1" cy="939.9" r="5.05"/>
<circle cx="259.2" cy="905.0" r="5.05"/>
<circle cx="220.9" cy="938.0" r="5.05"/>
<circle cx="231.3" cy="924.4" r="5.05"/>
<circle cx="204.3" cy="960.6" r="5.05"/>
<circle cx="195.0" cy="965.6" r="5.05"/>
<circle cx="148.5" cy="946.4" r="5.05"/>
<circle cx="195.4" cy="985.4" r="5.05"/>
<circle cx="166.1" cy="972.7" r="5.05"/>
<circle cx="162.2" cy="937.2" r="5.05"/>
<circle cx="252.8" cy="892.8" r="5.05"/>
<circle cx="275.1" cy="902.3" r="5.05"/>
<circle cx="271.8" cy="894.7" r="5.05"/>
<circle cx="259.0" cy="910.0" r="5.05"/>
<circle cx="147.4" cy="960.1" r="5.05"/>
<circle cx="162.8" cy="966.1" r="5.05"/>
<circle cx="290.0" cy="923.9" r="5.05"/>
<circle cx="242.3" cy="949.0" r="5.05"/>
<circle cx="201.3" cy="952.7" r="5.05"/>
<circle cx="179.0" cy="913.3" r="5.05"/>
<circle cx="278.8" cy="938.5" r="5.05"/>
<circle cx="248.5" cy="950.1" r="5.05"/>
<circle cx="173.2" cy="965.6" r="5.05"/>
<circle cx="184.2" cy="1001.0" r="5.05"/>
<circle cx="140.9" cy="975.3" r="5.05"/>
<circle cx="188.6" cy="946.3" r="5.05"/>
<circle cx="218.7" cy="965.5" r="5.05"/>
<circle cx="165.8" cy="995.8" r="5.05"/>
<circle cx="155.1" cy="951.5" r="5.05"/>
<circle cx="155.8" cy="948.3" r="5.05"/>
<circle cx="143.7" cy="971.3" r="5.05"/>
<circle cx="170.8" cy="919.1" r="5.05"/>
<circle cx="136.2" cy="985.8" r="5.05"/>
<circle cx="227.7" cy="955.2" r="5.05"/>
<circle cx="190.6" cy="960.1" r="5.05"/>
<circle cx="188.8" cy="1003.3" r="5.05"/>
<circle cx="213.2" cy="956.9" r="5.05"/>
<circle cx="269.8" cy="905.8" r="5.05"/>
<circle cx="213.1" cy="950.8" r="5.05"/>
<circle cx="199.4" cy="956.5" r="5.05"/>
<circle cx="150.9" cy="990.9" r="5.05"/>
<circle cx="217.6" cy="912.5" r="5.05"/>
<circle cx="275.2" cy="895.7" r="5.05"/>
<circle cx="165.0" cy="953.9" r="5.05"/>
<circle cx="294.5" cy="908.6" r="5.05"/>
<circle cx="176.9" cy="996.0" r="5.05"/>
<circle cx="183.9" cy="1003.7" r="5.05"/>
<circle cx="150.5" cy="980.3" r="5.05"/>
<circle cx="263.8" cy="896.8" r="5.05"/>
<circle cx="211.8" cy="919.2" r="5.05"/>
<circle cx="155.0" cy="928.3" r="5.05"/>
<circle cx="144.6" cy="1014.1" r="5.05"/>
<circle cx="167.3" cy="924.1" r="5.05"/>
<circle cx="164.8" cy="974.2" r="5.05"/>
<circle cx="229.8" cy="959.5" r="5.05"/>
<circle cx="184.7" cy="979.6" r="5.05"/>
<circle cx="286.8" cy="896.7" r="5.05"/>
<circle cx="212.3" cy="908.7" r="5.05"/>
<circle cx="254.3" cy="947.8" r="5.05"/>
<circle cx="263.3" cy="935.3" r="5.05"/>
<circle cx="150.7" cy="1013.5" r="5.05"/>
<circle cx="144.3" cy="1013.7" r="5.05"/>
<circle cx="253.6" cy="950.5" r="5.05"/>
<circle cx="154.1" cy="964.9" r="5.05"/>
<circle cx="176.7" cy="925.2" r="5.05"/>
<circle cx="204.3" cy="950.5" r="5.05"/>
<circle cx="203.6" cy="937.9" r="5.05"/>
<circle cx="182.0" cy="985.3" r="5.05"/>
<circle cx="249.8" cy="933.0" r="5.05"/>
<circle cx="156.6" cy="1012.2" r="5.05"/>
<circle cx="203.9" cy="926.8" r="5.05"/>
<circle cx="194.8" cy="960.8" r="5.05"/>
<circle cx="218.9" cy="929.4" r="5.05"/>
<circle cx="143.7" cy="974.5" r="5.05"/>
<circle cx="136.9" cy="964.3" r="5.05"/>
<circle cx="218.2" cy="920.5" r="5.05"/>
<circle cx="139.8" cy="1019.0" r="5.05"/>
<circle cx="276.6" cy="899.3" r="5.05"/>
<circle cx="239.6" cy="958.1" r="5.05"/>
<circle cx="152.7" cy="1000.2" r="5.05"/>
<circle cx="255.6" cy="942.4" r="5.05"/>
<circle cx="143.3" cy="962.3" r="5.05"/>
<circle cx="189.1" cy="971.2" r="5.05"/>
<circle cx="252.5" cy="941.1" r="5.05"/>
<circle cx="193.5" cy="960.5" r="5.05"/>
<circle cx="177.5" cy="928.3" r="5.05"/>
<circle cx="197.2" cy="977.4" r="5.05"/>
<circle cx="158.9" cy="1021.1" r="5.05"/>
<circle cx="196.1" cy="966.6" r="5.05"/>
<circle cx="148.6" cy="1021.3" r="5.05"/>
<circle cx="228.5" cy="951.5" r="5.05"/>
<circle cx="188.3" cy="977.0" r="5.05"/>
<circle cx="162.0" cy="955.0" r="5.05"/>
<circle cx="177.6" cy="965.7" r="5.05"/>
<circle cx="147.5" cy="978.0" r="5.05"/>
<circle cx="284.9" cy="937.1" r="5.05"/>
<circle cx="270.9" cy="920.8" r="5.05"/>
<circle cx="207.2" cy="956.7" r="5.05"/>
<circle cx="194.0" cy="920.8" r="5.05"/>
<circle cx="284.0" cy="927.9" r="5.05"/>
<circle cx="181.2" cy="967.5" r="5.05"/>
<circle cx="292.2" cy="907.3" r="5.05"/>
<circle cx="170.2" cy="912.9" r="5.05"/>
<circle cx="205.6" cy="928.0" r="5.05"/>
<circle cx="152.1" cy="931.5" r="5.05"/>
<circle cx="155.5" cy="947.9" r="5.05"/>
<circle cx="192.5" cy="987.5" r="5.05"/>
<circle cx="201.7" cy="976.2" r="5.05"/>
<circle cx="155.3" cy="971.8" r="5.05"/>
<circle cx="256.8" cy="899.0" r="5.05"/>
<circle cx="233.9" cy="939.0" r="5.05"/>
<circle cx="187.0" cy="998.8" r="5.05"/>
<circle cx="290.0" cy="938.9" r="5.05"/>
<circle cx="202.8" cy="949.3" r="5.05"/>
<circle cx="184.0" cy="987.1" r="5.05"/>
<circle cx="271.7" cy="943.7" r="5.05"/>
<circle cx="219.6" cy="942.0" r="5.05"/>
<circle cx="284.0" cy="892.1" r="5.05"/>
<circle cx="191.9" cy="995.0" r="5.05"/>
<circle cx="212.6" cy="902.2" r="5.05"/>
<circle cx="210.9" cy="965.3" r="5.05"/>
<circle cx="210.6" cy="954.9" r="5.05"/>
<circle cx="187.9" cy="994.0" r="5.05"/>
<circle cx="194.5" cy="980.3" r="5.05"/>
<circle cx="195.4" cy="937.1" r="5.05"/>
<circle cx="203.8" cy="971.0" r="5.05"/>
<circle cx="139.4" cy="963.1" r="5.05"/>
<circle cx="283.5" cy="898.6" r="5.05"/>
<circle cx="201.8" cy="905.8" r="5.05"/>
<circle cx="250.1" cy="919.2" r="5.05"/>
<circle cx="214.4" cy="958.9" r="5.05"/>
<circle cx="192.6" cy="955.6" r="5.05"/>
<circle cx="280.2" cy="913.8" r="5.05"/>
<circle cx="258.2" cy="941.1" r="5.05"/>
<circle cx="230.2" cy="965.4" r="5.05"/>
<circle cx="253.1" cy="930.3" r="5.05"/>
<circle cx="243.1" cy="939.5" r="5.05"/>
<circle cx="277.4" cy="941.7" r="5.05"/>
<circle cx="192.4" cy="946.3" r="5.05"/>
<circle cx="193.0" cy="935.8" r="5.05"/>
<circle cx="143.8" cy="1022.6" r="5.05"/>
<circle cx="237.4" cy="930.1" r="5.05"/>
<circle cx="195.5" cy="956.9" r="5.05"/>
<circle cx="169.2" cy="923.6" r="5.05"/>
<circle cx="206.0" cy="975.8" r="5.05"/>
<circle cx="191.5" cy="967.1" r="5.05"/>
<circle cx="163.7" cy="962.6" r="5.05"/>
<circle cx="186.3" cy="925.2" r="5.05"/>
<circle cx="253.1" cy="938.3" r="5.05"/>
<circle cx="233.2" cy="944.6" r="5.05"/>
<circle cx="234.4" cy="945.2" r="5.05"/>
<circle cx="372.7" cy="904.4" r="5.05"/>
<circle cx="296.2" cy="935.5" r="5.05"/>
<circle cx="303.8" cy="900.7" r="5.05"/>
<circle cx="317.6" cy="897.9" r="5.05"/>
<circle cx="149.7" cy="1033.3" r="5.05"/>
<circle cx="309.1" cy="902.4" r="5.05"/>
<circle cx="237.4" cy="884.5" r="5.05"/>
<circle cx="330.2" cy="894.8" r="5.05"/>
<circle cx="334.8" cy="942.4" r="5.05"/>
<circle cx="182.8" cy="1019.5" r="5.05"/>
<circle cx="285.4" cy="883.4" r="5.05"/>
<circle cx="330.1" cy="895.1" r="5.05"/>
<circle cx="355.5" cy="930.0" r="5.05"/>
<circle cx="147.3" cy="932.0" r="5.05"/>
<circle cx="167.8" cy="904.8" r="5.05"/>
<circle cx="251.5" cy="877.1" r="5.05"/>
<circle cx="356.4" cy="930.4" r="5.05"/>
<circle cx="151.3" cy="1040.0" r="5.05"/>
<circle cx="244.3" cy="962.5" r="5.05"/>
<circle cx="349.4" cy="939.9" r="5.05"/>
<circle cx="198.1" cy="880.4" r="5.05"/>
<circle cx="185.1" cy="899.0" r="5.05"/>
<circle cx="370.0" cy="927.9" r="5.05"/>
<circle cx="309.2" cy="949.2" r="5.05"/>
<circle cx="201.9" cy="883.1" r="5.05"/>
<circle cx="205.4" cy="1017.6" r="5.05"/>
<circle cx="370.3" cy="939.3" r="5.05"/>
<circle cx="182.4" cy="891.3" r="5.05"/>
<circle cx="320.2" cy="948.2" r="5.05"/>
<circle cx="360.4" cy="930.5" r="5.05"/>
<circle cx="164.9" cy="1036.8" r="5.05"/>
<circle cx="302.9" cy="891.2" r="5.05"/>
<circle cx="298.9" cy="895.0" r="5.05"/>
<circle cx="297.0" cy="934.3" r="5.05"/>
<circle cx="287.9" cy="888.5" r="5.05"/>
<circle cx="308.1" cy="903.3" r="5.05"/>
<circle cx="228.0" cy="995.4" r="5.05"/>
<circle cx="318.3" cy="911.4" r="5.05"/>
<circle cx="248.1" cy="884.0" r="5.05"/>
<circle cx="326.7" cy="908.7" r="5.05"/>
<circle cx="214.0" cy="888.1" r="5.05"/>
<circle cx="277.7" cy="882.4" r="5.05"/>
<circle cx="166.2" cy="1028.8" r="5.05"/>
<circle cx="386.9" cy="944.5" r="5.05"/>
<circle cx="227.1" cy="1001.2" r="5.05"/>
<circle cx="366.5" cy="904.8" r="5.05"/>
<circle cx="213.8" cy="1004.2" r="5.05"/>
<circle cx="315.2" cy="946.1" r="5.05"/>
<circle cx="338.7" cy="920.5" r="5.05"/>
<circle cx="363.3" cy="928.6" r="5.05"/>
<circle cx="332.4" cy="938.4" r="5.05"/>
<circle cx="338.3" cy="946.2" r="5.05"/>
<circle cx="362.2" cy="912.1" r="5.05"/>
<circle cx="291.1" cy="942.7" r="5.05"/>
<circle cx="173.8" cy="1020.3" r="5.05"/>
<circle cx="229.3" cy="990.0" r="5.05"/>
<circle cx="327.5" cy="922.5" r="5.05"/>
<circle cx="284.2" cy="944.6" r="5.05"/>
<circle cx="315.5" cy="950.7" r="5.05"/>
<circle cx="373.0" cy="908.1" r="5.05"/>
<circle cx="340.6" cy="944.2" r="5.05"/>
<circle cx="324.3" cy="918.9" r="5.05"/>
<circle cx="313.7" cy="923.7" r="5.05"/>
<circle cx="237.4" cy="982.0" r="5.05"/>
<circle cx="358.3" cy="929.6" r="5.05"/>
<circle cx="325.3" cy="941.6" r="5.05"/>
<circle cx="215.6" cy="993.0" r="5.05"/>
<circle cx="216.9" cy="993.6" r="5.05"/>
<circle cx="201.6" cy="998.7" r="5.05"/>
<circle cx="238.5" cy="886.2" r="5.05"/>
<circle cx="339.2" cy="918.8" r="5.05"/>
<circle cx="246.3" cy="880.3" r="5.05"/>
<circle cx="190.8" cy="1002.9" r="5.05"/>
<circle cx="146.7" cy="1024.0" r="5.05"/>
<circle cx="292.7" cy="888.8" r="5.05"/>
<circle cx="341.3" cy="949.3" r="5.05"/>
<circle cx="232.6" cy="984.2" r="5.05"/>
<circle cx="307.8" cy="894.3" r="5.05"/>
<circle cx="354.1" cy="937.8" r="5.05"/>
<circle cx="306.4" cy="905.2" r="5.05"/>
<circle cx="366.0" cy="937.7" r="5.05"/>
<circle cx="298.3" cy="927.0" r="5.05"/>
<circle cx="243.9" cy="960.6" r="5.05"/>
<circle cx="144.6" cy="1027.0" r="5.05"/>
<circle cx="138.4" cy="943.4" r="5.05"/>
<circle cx="361.8" cy="945.2" r="5.05"/>
<circle cx="245.6" cy="880.1" r="5.05"/>
<circle cx="208.5" cy="892.6" r="5.05"/>
<circle cx="203.2" cy="1002.4" r="5.05"/>
<circle cx="287.0" cy="947.8" r="5.05"/>
<circle cx="312.5" cy="903.4" r="5.05"/>
<circle cx="317.3" cy="894.1" r="5.05"/>
<circle cx="355.5" cy="906.6" r="5.05"/>
<circle cx="316.7" cy="939.7" r="5.05"/>
<circle cx="315.3" cy="900.9" r="5.05"/>
<circle cx="361.4" cy="931.8" r="5.05"/>
<circle cx="281.6" cy="888.9" r="5.05"/>
<circle cx="367.4" cy="939.4" r="5.05"/>
<circle cx="168.7" cy="1037.7" r="5.05"/>
<circle cx="333.5" cy="917.8" r="5.05"/>
<circle cx="380.4" cy="911.3" r="5.05"/>
<circle cx="205.4" cy="1016.9" r="5.05"/>
<circle cx="307.1" cy="919.7" r="5.05"/>
<circle cx="235.4" cy="886.1" r="5.05"/>
<circle cx="297.7" cy="893.8" r="5.05"/>
<circle cx="340.1" cy="946.5" r="5.05"/>
<circle cx="383.0" cy="927.4" r="5.05"/>
<circle cx="143.4" cy="1023.6" r="5.05"/>
<circle cx="352.1" cy="944.8" r="5.05"/>
<circle cx="281.1" cy="946.9" r="5.05"/>
<circle cx="370.0" cy="916.4" r="5.05"/>
<circle cx="330.5" cy="918.5" r="5.05"/>
<circle cx="315.0" cy="923.2" r="5.05"/>
<circle cx="322.0" cy="905.5" r="5.05"/>
<circle cx="150.9" cy="914.5" r="5.05"/>
<circle cx="294.8" cy="943.9" r="5.05"/>
<circle cx="298.1" cy="915.4" r="5.05"/>
<circle cx="302.9" cy="898.7" r="5.05"/>
<circle cx="306.3" cy="912.3" r="5.05"/>
<circle cx="386.3" cy="933.9" r="5.05"/>
<circle cx="353.4" cy="937.7" r="5.05"/>
<circle cx="191.9" cy="884.0" r="5.05"/>
<circle cx="314.6" cy="912.6" r="5.05"/>
<circle cx="288.0" cy="946.4" r="5.05"/>
<circle cx="327.1" cy="949.7" r="5.05"/>
<circle cx="355.7" cy="901.4" r="5.05"/>
<circle cx="191.4" cy="901.9" r="5.05"/>
<circle cx="140.9" cy="1033.2" r="5.05"/>
<circle cx="156.9" cy="919.9" r="5.05"/>
<circle cx="355.1" cy="923.7" r="5.05"/>
<circle cx="355.4" cy="946.8" r="5.05"/>
<circle cx="208.3" cy="893.0" r="5.05"/>
<circle cx="162.4" cy="1024.3" r="5.05"/>
<circle cx="227.9" cy="878.2" r="5.05"/>
<circle cx="241.7" cy="967.5" r="5.05"/>
<circle cx="330.1" cy="914.9" r="5.05"/>
<circle cx="181.8" cy="1020.7" r="5.05"/>
<circle cx="358.0" cy="923.8" r="5.05"/>
<circle cx="309.8" cy="937.4" r="5.05"/>
<circle cx="345.4" cy="927.8" r="5.05"/>
<circle cx="363.4" cy="921.9" r="5.05"/>
<circle cx="367.0" cy="949.1" r="5.05"/>
<circle cx="306.0" cy="923.9" r="5.05"/>
<circle cx="160.3" cy="906.3" r="5.05"/>
<circle cx="188.0" cy="1025.0" r="5.05"/>
<circle cx="188.1" cy="1018.4" r="5.05"/>
<circle cx="385.7" cy="932.4" r="5.05"/>
<circle cx="347.0" cy="931.0" r="5.05"/>
<circle cx="219.3" cy="986.2" r="5.05"/>
<circle cx="305.2" cy="940.8" r="5.05"/>
<circle cx="315.6" cy="935.1" r="5.05"/>
<circle cx="192.3" cy="892.1" r="5.05"/>
<circle cx="187.3" cy="890.3" r="5.05"/>
<circle cx="205.5" cy="881.9" r="5.05"/>
<circle cx="239.0" cy="973.0" r="5.05"/>
<circle cx="306.3" cy="895.7" r="5.05"/>
<circle cx="323.4" cy="938.4" r="5.05"/>
<circle cx="214.3" cy="889.4" r="5.05"/>
<circle cx="282.7" cy="943.3" r="5.05"/>
<circle cx="306.0" cy="949.2" r="5.05"/>
<circle cx="305.1" cy="945.4" r="5.05"/>
<circle cx="313.0" cy="951.2" r="5.05"/>
<circle cx="199.2" cy="897.6" r="5.05"/>
<circle cx="233.2" cy="889.6" r="5.05"/>
<circle cx="203.7" cy="995.9" r="5.05"/>
<circle cx="329.6" cy="943.5" r="5.05"/>
<circle cx="359.2" cy="941.6" r="5.05"/>
<circle cx="155.1" cy="924.0" r="5.05"/>
<circle cx="139.5" cy="1032.6" r="5.05"/>
<circle cx="303.1" cy="926.1" r="5.05"/>
<circle cx="364.5" cy="948.7" r="5.05"/>
<circle cx="309.1" cy="903.1" r="5.05"/>
<circle cx="160.2" cy="1030.3" r="5.05"/>
<circle cx="308.2" cy="950.5" r="5.05"/>
<circle cx="224.0" cy="987.7" r="5.05"/>
<circle cx="195.1" cy="1001.8" r="5.05"/>
<circle cx="221.2" cy="889.6" r="5.05"/>
<circle cx="143.2" cy="1036.1" r="5.05"/>
<circle cx="320.9" cy="891.8" r="5.05"/>
<circle cx="319.6" cy="932.9" r="5.05"/>
<circle cx="209.1" cy="1001.7" r="5.05"/>
<circle cx="362.1" cy="922.4" r="5.05"/>
<circle cx="220.1" cy="986.1" r="5.05"/>
<circle cx="171.9" cy="907.3" r="5.05"/>
<circle cx="358.5" cy="954.2" r="5.05"/>
<circle cx="337.5" cy="911.7" r="5.05"/>
<circle cx="309.1" cy="928.4" r="5.05"/>
<circle cx="190.4" cy="901.1" r="5.05"/>
<circle cx="220.9" cy="988.9" r="5.05"/>
<circle cx="332.6" cy="944.2" r="5.05"/>
<circle cx="230.6" cy="888.5" r="5.05"/>
<circle cx="338.8" cy="898.7" r="5.05"/>
<circle cx="304.5" cy="931.3" r="5.05"/>
<circle cx="226.4" cy="998.4" r="5.05"/>
<circle cx="256.6" cy="949.7" r="5.05"/>
<circle cx="363.4" cy="919.8" r="5.05"/>
<circle cx="333.0" cy="913.6" r="5.05"/>
<circle cx="313.0" cy="940.9" r="5.05"/>
<circle cx="355.8" cy="939.8" r="5.05"/>
<circle cx="306.0" cy="901.8" r="5.05"/>
<circle cx="347.0" cy="931.3" r="5.05"/>
<circle cx="141.0" cy="939.6" r="5.05"/>
<circle cx="133.6" cy="1011.6" r="5.05"/>
<circle cx="245.5" cy="887.3" r="5.05"/>
<circle cx="373.7" cy="922.2" r="5.05"/>
<circle cx="231.2" cy="988.9" r="5.05"/>
<circle cx="227.8" cy="983.4" r="5.05"/>
<circle cx="350.6" cy="906.8" r="5.05"/>
<circle cx="153.2" cy="923.9" r="5.05"/>
<circle cx="133.1" cy="1032.8" r="5.05"/>
<circle cx="323.6" cy="930.2" r="5.05"/>
<circle cx="234.4" cy="989.5" r="5.05"/>
<circle cx="142.3" cy="1034.2" r="5.05"/>
<circle cx="306.5" cy="896.9" r="5.05"/>
<circle cx="320.2" cy="900.4" r="5.05"/>
<circle cx="317.1" cy="913.8" r="5.05"/>
<circle cx="207.4" cy="1012.0" r="5.05"/>
<circle cx="308.4" cy="945.9" r="5.05"/>
<circle cx="169.2" cy="1020.6" r="5.05"/>
<circle cx="316.0" cy="916.7" r="5.05"/>
<circle cx="157.2" cy="918.1" r="5.05"/>
<circle cx="296.7" cy="898.6" r="5.05"/>
<circle cx="185.8" cy="898.2" r="5.05"/>
<circle cx="379.3" cy="937.8" r="5.05"/>
<circle cx="151.9" cy="1029.1" r="5.05"/>
<circle cx="166.7" cy="1028.9" r="5.05"/>
<circle cx="358.1" cy="932.4" r="5.05"/>
<circle cx="257.8" cy="877.7" r="5.05"/>
<circle cx="327.8" cy="946.0" r="5.05"/>
<circle cx="304.9" cy="902.6" r="5.05"/>
<circle cx="171.0" cy="904.2" r="5.05"/>
<circle cx="261.9" cy="889.4" r="5.05"/>
<circle cx="294.0" cy="889.2" r="5.05"/>
<circle cx="204.1" cy="895.6" r="5.05"/>
<circle cx="312.5" cy="899.1" r="5.05"/>
<circle cx="320.0" cy="930.6" r="5.05"/>
<circle cx="338.8" cy="899.2" r="5.05"/>
<circle cx="200.5" cy="996.6" r="5.05"/>
<circle cx="330.4" cy="931.7" r="5.05"/>
<circle cx="290.5" cy="885.3" r="5.05"/>
<circle cx="325.6" cy="897.3" r="5.05"/>
<circle cx="323.1" cy="917.9" r="5.05"/>
<circle cx="359.6" cy="945.4" r="5.05"/>
<circle cx="168.7" cy="1025.3" r="5.05"/>
<circle cx="138.9" cy="946.3" r="5.05"/>
<circle cx="229.6" cy="881.6" r="5.05"/>
<circle cx="352.0" cy="946.9" r="5.05"/>
<circle cx="194.8" cy="1019.9" r="5.05"/>
<circle cx="143.7" cy="926.9" r="5.05"/>
<circle cx="194.1" cy="1019.0" r="5.05"/>
<circle cx="305.7" cy="919.0" r="5.05"/>
<circle cx="377.1" cy="931.2" r="5.05"/>
<circle cx="222.0" cy="887.3" r="5.05"/>
<circle cx="194.0" cy="883.3" r="5.05"/>
<circle cx="204.2" cy="1011.7" r="5.05"/>
<circle cx="154.9" cy="918.8" r="5.05"/>
<circle cx="380.8" cy="929.2" r="5.05"/>
<circle cx="331.8" cy="927.6" r="5.05"/>
<circle cx="140.6" cy="1028.9" r="5.05"/>
<circle cx="179.9" cy="1027.3" r="5.05"/>
<circle cx="182.4" cy="886.9" r="5.05"/>
<circle cx="333.0" cy="952.2" r="5.05"/>
<circle cx="198.3" cy="998.6" r="5.05"/>
<circle cx="168.7" cy="904.6" r="5.05"/>
<circle cx="187.1" cy="1006.2" r="5.05"/>
<circle cx="338.9" cy="915.0" r="5.05"/>
<circle cx="259.6" cy="875.8" r="5.05"/>
<circle cx="199.4" cy="1010.9" r="5.05"/>
<circle cx="307.4" cy="912.9" r="5.05"/>
<circle cx="302.2" cy="943.5" r="5.05"/>
<circle cx="193.2" cy="889.7" r="5.05"/>
<circle cx="344.2" cy="921.0" r="5.05"/>
<circle cx="183.4" cy="886.1" r="5.05"/>
<circle cx="139.0" cy="1021.6" r="5.05"/>
<circle cx="339.8" cy="898.7" r="5.05"/>
<circle cx="256.4" cy="952.0" r="5.05"/>
<circle cx="360.2" cy="935.4" r="5.05"/>
<circle cx="166.5" cy="905.1" r="5.05"/>
<circle cx="195.2" cy="891.4" r="5.05"/>
<circle cx="336.5" cy="952.7" r="5.05"/>
<circle cx="360.2" cy="946.9" r="5.05"/>
<circle cx="343.6" cy="947.7" r="5.05"/>
<circle cx="330.0" cy="934.7" r="5.05"/>
<circle cx="292.4" cy="926.8" r="5.05"/>
<circle cx="293.9" cy="904.2" r="5.05"/>
<circle cx="370.1" cy="921.4" r="5.05"/>
<circle cx="196.5" cy="895.9" r="5.05"/>
<circle cx="217.1" cy="892.6" r="5.05"/>
<circle cx="258.2" cy="884.8" r="5.05"/>
<circle cx="365.6" cy="916.9" r="5.05"/>
<circle cx="329.3" cy="910.0" r="5.05"/>
<circle cx="202.0" cy="898.4" r="5.05"/>
<circle cx="190.6" cy="897.5" r="5.05"/>
<circle cx="175.0" cy="896.0" r="5.05"/>
<circle cx="297.1" cy="944.7" r="5.05"/>
<circle cx="352.6" cy="901.5" r="5.05"/>
<circle cx="351.1" cy="949.7" r="5.05"/>
<circle cx="335.1" cy="942.5" r="5.05"/>
<circle cx="380.1" cy="934.8" r="5.05"/>
<circle cx="374.6" cy="909.6" r="5.05"/>
<circle cx="175.4" cy="904.4" r="5.05"/>
<circle cx="142.0" cy="933.5" r="5.05"/>
<circle cx="262.6" cy="884.3" r="5.05"/>
<circle cx="245.5" cy="887.2" r="5.05"/>
<circle cx="231.8" cy="883.6" r="5.05"/>
<circle cx="301.9" cy="925.8" r="5.05"/>
<circle cx="370.1" cy="917.5" r="5.05"/>
<circle cx="169.5" cy="910.6" r="5.05"/>
<circle cx="134.2" cy="990.3" r="5.05"/>
<circle cx="169.5" cy="910.6" r="5.05"/>
<circle cx="217.4" cy="892.6" r="5.05"/>
<circle cx="331.9" cy="951.5" r="5.05"/>
<circle cx="309.7" cy="937.9" r="5.05"/>
<circle cx="207.2" cy="889.3" r="5.05"/>
<circle cx="178.9" cy="1027.5" r="5.05"/>
<circle cx="348.3" cy="917.4" r="5.05"/>
<circle cx="190.6" cy="1026.6" r="5.05"/>
<circle cx="313.3" cy="913.3" r="5.05"/>
<circle cx="372.6" cy="935.3" r="5.05"/>
<circle cx="309.4" cy="950.2" r="5.05"/>
<circle cx="226.7" cy="990.6" r="5.05"/>
<circle cx="198.3" cy="1012.3" r="5.05"/>
<circle cx="220.7" cy="888.6" r="5.05"/>
<circle cx="340.3" cy="940.3" r="5.05"/>
<circle cx="199.1" cy="892.0" r="5.05"/>
<circle cx="206.4" cy="991.7" r="5.05"/>
<circle cx="234.1" cy="992.2" r="5.05"/>
<circle cx="376.9" cy="917.8" r="5.05"/>
<circle cx="304.6" cy="910.8" r="5.05"/>
<circle cx="374.2" cy="925.4" r="5.05"/>
<circle cx="194.5" cy="1021.9" r="5.05"/>
<circle cx="219.5" cy="883.1" r="5.05"/>
<circle cx="345.7" cy="901.3" r="5.05"/>
<circle cx="142.7" cy="925.0" r="5.05"/>
<circle cx="226.3" cy="871.8" r="5.05"/>
<circle cx="156.3" cy="902.6" r="5.05"/>
<circle cx="232.7" cy="866.3" r="5.05"/>
<circle cx="177.1" cy="872.1" r="5.05"/>
<circle cx="175.9" cy="882.9" r="5.05"/>
<circle cx="150.7" cy="896.4" r="5.05"/>
<circle cx="183.4" cy="881.9" r="5.05"/>
<circle cx="148.7" cy="916.4" r="5.05"/>
<circle cx="217.2" cy="867.2" r="5.05"/>
<circle cx="241.6" cy="870.1" r="5.05"/>
<circle cx="155.9" cy="907.7" r="5.05"/>
<circle cx="185.2" cy="876.1" r="5.05"/>
<circle cx="210.3" cy="867.4" r="5.05"/>
<circle cx="189.0" cy="875.8" r="5.05"/>
<circle cx="250.0" cy="874.4" r="5.05"/>
<circle cx="166.8" cy="878.9" r="5.05"/>
<circle cx="391.2" cy="847.8" r="5.05"/>
<circle cx="384.1" cy="854.3" r="5.05"/>
<circle cx="381.0" cy="862.5" r="5.05"/>
<circle cx="497.5" cy="858.0" r="5.05"/>
<circle cx="466.9" cy="875.8" r="5.05"/>
<circle cx="482.6" cy="891.1" r="5.05"/>
<circle cx="415.2" cy="892.1" r="5.05"/>
<circle cx="386.5" cy="888.0" r="5.05"/>
<circle cx="407.0" cy="903.8" r="5.05"/>
<circle cx="413.1" cy="909.5" r="5.05"/>
<circle cx="432.7" cy="909.9" r="5.05"/>
<circle cx="517.3" cy="905.4" r="5.05"/>
<circle cx="512.8" cy="917.7" r="5.05"/>
<circle cx="473.0" cy="920.1" r="5.05"/>
<circle cx="478.1" cy="920.7" r="5.05"/>
<circle cx="482.2" cy="925.8" r="5.05"/>
<circle cx="480.1" cy="928.9" r="5.05"/>
<circle cx="492.4" cy="936.1" r="5.05"/>
<circle cx="388.2" cy="917.7" r="5.05"/>
<circle cx="398.4" cy="916.6" r="5.05"/>
<circle cx="404.5" cy="918.7" r="5.05"/>
<circle cx="411.7" cy="913.6" r="5.05"/>
<circle cx="416.8" cy="919.7" r="5.05"/>
<circle cx="423.9" cy="923.8" r="5.05"/>
<circle cx="382.0" cy="925.8" r="5.05"/>
<circle cx="386.1" cy="927.9" r="5.05"/>
<circle cx="398.4" cy="925.8" r="5.05"/>
<circle cx="409.6" cy="929.9" r="5.05"/>
<circle cx="426.0" cy="930.9" r="5.05"/>
<circle cx="433.1" cy="929.9" r="5.05"/>
<circle cx="448.5" cy="927.9" r="5.05"/>
<circle cx="455.6" cy="935.0" r="5.05"/>
<circle cx="414.7" cy="940.6" r="5.05"/>
<circle cx="389.2" cy="941.2" r="5.05"/>
<circle cx="394.3" cy="942.2" r="5.05"/>
<circle cx="401.5" cy="949.3" r="5.05"/>
<circle cx="390.2" cy="950.4" r="5.05"/>
<circle cx="386.1" cy="954.4" r="5.05"/>
<circle cx="392.3" cy="954.4" r="5.05"/>
<circle cx="381.0" cy="951.4" r="5.05"/>
<circle cx="430.1" cy="941.2" r="5.05"/>
<circle cx="436.2" cy="941.2" r="5.05"/>
<circle cx="422.9" cy="948.3" r="5.05"/>
<circle cx="431.1" cy="950.4" r="5.05"/>
<circle cx="434.2" cy="949.3" r="5.05"/>
<circle cx="442.3" cy="949.3" r="5.05"/>
<circle cx="419.9" cy="953.4" r="5.05"/>
<circle cx="429.0" cy="956.5" r="5.05"/>
<circle cx="435.2" cy="956.5" r="5.05"/>
<circle cx="469.9" cy="950.4" r="5.05"/>
<circle cx="476.1" cy="948.3" r="5.05"/>
<circle cx="488.3" cy="947.3" r="5.05"/>
<circle cx="516.5" cy="941.2" r="5.05"/>
<circle cx="516.9" cy="954.4" r="5.05"/>
<circle cx="448.5" cy="963.6" r="5.05"/>
<circle cx="456.0" cy="959.6" r="5.05"/>
<circle cx="468.9" cy="960.6" r="5.05"/>
<circle cx="474.0" cy="967.7" r="5.05"/>
<circle cx="484.2" cy="962.2" r="5.05"/>
<circle cx="496.5" cy="960.6" r="5.05"/>
<circle cx="499.6" cy="962.6" r="5.05"/>
<circle cx="504.7" cy="962.6" r="5.05"/>
<circle cx="491.4" cy="966.7" r="5.05"/>
<circle cx="385.1" cy="962.6" r="5.05"/>
<circle cx="400.4" cy="964.7" r="5.05"/>
<circle cx="409.6" cy="966.7" r="5.05"/>
<circle cx="414.7" cy="964.7" r="5.05"/>
<circle cx="428.0" cy="967.7" r="5.05"/>
<circle cx="450.5" cy="973.9" r="5.05"/>
<circle cx="486.3" cy="974.9" r="5.05"/>
<circle cx="495.5" cy="974.9" r="5.05"/>
<circle cx="509.8" cy="975.9" r="5.05"/>
<circle cx="518.0" cy="970.8" r="5.05"/>
<circle cx="395.3" cy="979.0" r="5.05"/>
<circle cx="396.4" cy="980.2" r="5.05"/>
<circle cx="409.6" cy="977.2" r="5.05"/>
<circle cx="414.7" cy="982.7" r="5.05"/>
<circle cx="402.9" cy="990.0" r="5.05"/>
<circle cx="418.4" cy="1000.2" r="5.05"/>
<circle cx="385.1" cy="1007.2" r="5.05"/>
<circle cx="381.0" cy="1020.1" r="5.05"/>
<circle cx="382.5" cy="1028.2" r="5.05"/>
<circle cx="397.4" cy="1023.1" r="5.05"/>
<circle cx="402.5" cy="1029.7" r="5.05"/>
<circle cx="449.9" cy="975.1" r="5.05"/>
<circle cx="443.4" cy="994.5" r="5.05"/>
<circle cx="438.2" cy="1005.8" r="5.05"/>
<circle cx="463.4" cy="986.8" r="5.05"/>
<circle cx="468.3" cy="989.4" r="5.05"/>
<circle cx="470.9" cy="993.5" r="5.05"/>
<circle cx="466.9" cy="1001.7" r="5.05"/>
<circle cx="485.3" cy="976.1" r="5.05"/>
<circle cx="493.4" cy="975.1" r="5.05"/>
<circle cx="498.5" cy="982.3" r="5.05"/>
<circle cx="494.4" cy="990.0" r="5.05"/>
<circle cx="502.2" cy="988.8" r="5.05"/>
<circle cx="482.2" cy="1030.9" r="5.05"/>
<circle cx="492.4" cy="1041.1" r="5.05"/>
<circle cx="519.0" cy="1037.0" r="5.05"/>
<circle cx="537.0" cy="919.3" r="5.05"/>
<circle cx="553.9" cy="914.0" r="5.05"/>
<circle cx="563.5" cy="918.1" r="5.05"/>
<circle cx="635.7" cy="915.6" r="5.05"/>
<circle cx="581.5" cy="922.8" r="5.05"/>
<circle cx="585.6" cy="922.8" r="5.05"/>
<circle cx="592.8" cy="920.1" r="5.05"/>
<circle cx="593.8" cy="923.8" r="5.05"/>
<circle cx="540.2" cy="932.0" r="5.05"/>
<circle cx="545.8" cy="930.9" r="5.05"/>
<circle cx="543.7" cy="935.0" r="5.05"/>
<circle cx="556.0" cy="933.0" r="5.05"/>
<circle cx="570.3" cy="926.9" r="5.05"/>
<circle cx="521.2" cy="940.1" r="5.05"/>
<circle cx="532.5" cy="939.1" r="5.05"/>
<circle cx="532.1" cy="943.2" r="5.05"/>
<circle cx="561.1" cy="943.2" r="5.05"/>
<circle cx="582.6" cy="934.0" r="5.05"/>
<circle cx="585.6" cy="936.1" r="5.05"/>
<circle cx="580.5" cy="939.1" r="5.05"/>
<circle cx="593.8" cy="941.2" r="5.05"/>
<circle cx="598.9" cy="946.3" r="5.05"/>
<circle cx="608.1" cy="933.0" r="5.05"/>
<circle cx="616.3" cy="934.0" r="5.05"/>
<circle cx="604.0" cy="940.1" r="5.05"/>
<circle cx="610.1" cy="944.2" r="5.05"/>
<circle cx="616.3" cy="941.2" r="5.05"/>
<circle cx="526.3" cy="947.3" r="5.05"/>
<circle cx="519.2" cy="951.4" r="5.05"/>
<circle cx="525.3" cy="955.5" r="5.05"/>
<circle cx="548.8" cy="948.3" r="5.05"/>
<circle cx="550.9" cy="953.4" r="5.05"/>
<circle cx="562.1" cy="954.4" r="5.05"/>
<circle cx="567.2" cy="950.4" r="5.05"/>
<circle cx="572.3" cy="953.4" r="5.05"/>
<circle cx="577.4" cy="952.4" r="5.05"/>
<circle cx="581.5" cy="950.4" r="5.05"/>
<circle cx="565.2" cy="959.6" r="5.05"/>
<circle cx="573.4" cy="958.5" r="5.05"/>
<circle cx="579.5" cy="960.6" r="5.05"/>
<circle cx="621.4" cy="951.4" r="5.05"/>
<circle cx="628.5" cy="953.4" r="5.05"/>
<circle cx="632.6" cy="947.3" r="5.05"/>
<circle cx="637.7" cy="957.5" r="5.05"/>
<circle cx="639.8" cy="965.7" r="5.05"/>
<circle cx="593.8" cy="963.6" r="5.05"/>
<circle cx="606.1" cy="963.6" r="5.05"/>
<circle cx="610.1" cy="959.6" r="5.05"/>
<circle cx="614.2" cy="962.6" r="5.05"/>
<circle cx="587.7" cy="966.7" r="5.05"/>
<circle cx="605.0" cy="967.7" r="5.05"/>
<circle cx="519.2" cy="964.7" r="5.05"/>
<circle cx="518.2" cy="972.8" r="5.05"/>
<circle cx="525.3" cy="970.8" r="5.05"/>
<circle cx="530.4" cy="967.7" r="5.05"/>
<circle cx="533.5" cy="972.8" r="5.05"/>
<circle cx="540.7" cy="970.8" r="5.05"/>
<circle cx="545.8" cy="972.8" r="5.05"/>
<circle cx="549.9" cy="972.8" r="5.05"/>
<circle cx="560.1" cy="970.8" r="5.05"/>
<circle cx="569.3" cy="971.8" r="5.05"/>
<circle cx="577.4" cy="975.9" r="5.05"/>
<circle cx="599.9" cy="975.9" r="5.05"/>
<circle cx="610.1" cy="974.9" r="5.05"/>
<circle cx="622.4" cy="975.9" r="5.05"/>
<circle cx="646.9" cy="976.9" r="5.05"/>
<circle cx="512.0" cy="979.2" r="5.05"/>
<circle cx="523.3" cy="977.2" r="5.05"/>
<circle cx="528.4" cy="978.2" r="5.05"/>
<circle cx="533.5" cy="974.1" r="5.05"/>
<circle cx="543.7" cy="976.1" r="5.05"/>
<circle cx="544.7" cy="979.2" r="5.05"/>
<circle cx="561.1" cy="972.0" r="5.05"/>
<circle cx="562.1" cy="980.2" r="5.05"/>
<circle cx="557.0" cy="989.4" r="5.05"/>
<circle cx="562.1" cy="987.4" r="5.05"/>
<circle cx="564.2" cy="990.4" r="5.05"/>
<circle cx="567.2" cy="988.4" r="5.05"/>
<circle cx="566.2" cy="992.5" r="5.05"/>
<circle cx="569.3" cy="995.5" r="5.05"/>
<circle cx="571.3" cy="978.2" r="5.05"/>
<circle cx="575.4" cy="977.2" r="5.05"/>
<circle cx="577.4" cy="979.2" r="5.05"/>
<circle cx="580.5" cy="989.4" r="5.05"/>
<circle cx="583.6" cy="1000.7" r="5.05"/>
<circle cx="586.6" cy="970.0" r="5.05"/>
<circle cx="610.1" cy="981.2" r="5.05"/>
<circle cx="612.2" cy="988.4" r="5.05"/>
<circle cx="622.4" cy="978.2" r="5.05"/>
<circle cx="597.9" cy="998.6" r="5.05"/>
<circle cx="600.9" cy="999.6" r="5.05"/>
<circle cx="611.2" cy="998.6" r="5.05"/>
<circle cx="627.5" cy="995.5" r="5.05"/>
<circle cx="639.8" cy="970.0" r="5.05"/>
<circle cx="649.0" cy="979.2" r="5.05"/>
<circle cx="650.0" cy="986.3" r="5.05"/>
<circle cx="569.9" cy="1016.0" r="5.05"/>
<circle cx="615.3" cy="1012.9" r="5.05"/>
<circle cx="605.6" cy="1019.0" r="5.05"/>
<circle cx="623.4" cy="1025.2" r="5.05"/>
<circle cx="602.4" cy="1032.7" r="5.05"/>
<circle cx="520.6" cy="1036.8" r="5.05"/>
<circle cx="556.0" cy="1049.7" r="5.05"/>
<circle cx="662.5" cy="923.9" r="5.05"/>
<circle cx="608.0" cy="932.1" r="5.05"/>
<circle cx="611.0" cy="934.0" r="5.05"/>
<circle cx="617.2" cy="934.0" r="5.05"/>
<circle cx="603.7" cy="940.1" r="5.05"/>
<circle cx="607.4" cy="942.5" r="5.05"/>
<circle cx="616.6" cy="941.3" r="5.05"/>
<circle cx="610.4" cy="946.8" r="5.05"/>
<circle cx="601.2" cy="943.8" r="5.05"/>
<circle cx="621.1" cy="951.1" r="5.05"/>
<circle cx="632.5" cy="947.2" r="5.05"/>
<circle cx="629.4" cy="952.3" r="5.05"/>
<circle cx="638.0" cy="957.3" r="5.05"/>
<circle cx="613.5" cy="959.1" r="5.05"/>
<circle cx="614.7" cy="963.4" r="5.05"/>
<circle cx="609.2" cy="962.2" r="5.05"/>
<circle cx="605.5" cy="967.1" r="5.05"/>
<circle cx="622.7" cy="977.5" r="5.05"/>
<circle cx="610.4" cy="976.3" r="5.05"/>
<circle cx="609.8" cy="981.2" r="5.05"/>
<circle cx="612.3" cy="987.9" r="5.05"/>
<circle cx="601.2" cy="978.1" r="5.05"/>
<circle cx="649.7" cy="978.7" r="5.05"/>
<circle cx="664.4" cy="978.1" r="5.05"/>
<circle cx="652.1" cy="987.3" r="5.05"/>
<circle cx="661.3" cy="988.2" r="5.05"/>
<circle cx="627.2" cy="995.3" r="5.05"/>
<circle cx="611.6" cy="998.9" r="5.05"/>
<circle cx="602.5" cy="998.9" r="5.05"/>
<circle cx="615.3" cy="1012.4" r="5.05"/>
<circle cx="605.5" cy="1019.2" r="5.05"/>
<circle cx="623.5" cy="1024.9" r="5.05"/>
<circle cx="603.1" cy="1032.7" r="5.05"/>
<circle cx="638.9" cy="1121.5" r="5.05"/>
<circle cx="209.7" cy="847.3" r="5.05"/>
<circle cx="179.1" cy="857.2" r="5.05"/>
<circle cx="180.1" cy="856.2" r="5.05"/>
<circle cx="179.1" cy="866.0" r="5.05"/>
<circle cx="200.4" cy="863.1" r="5.05"/>
<circle cx="250.7" cy="850.8" r="5.05"/>
<circle cx="251.1" cy="860.1" r="5.05"/>
<circle cx="253.0" cy="863.0" r="5.05"/>
<circle cx="147.6" cy="886.3" r="5.05"/>
<circle cx="149.6" cy="896.6" r="5.05"/>
<circle cx="146.6" cy="902.5" r="5.05"/>
<circle cx="146.6" cy="907.4" r="5.05"/>
<circle cx="166.3" cy="889.7" r="5.05"/>
<circle cx="169.3" cy="891.0" r="5.05"/>
<circle cx="160.4" cy="900.5" r="5.05"/>
<circle cx="181.1" cy="874.9" r="5.05"/>
<circle cx="190.0" cy="877.8" r="5.05"/>
<circle cx="192.9" cy="877.8" r="5.05"/>
<circle cx="204.7" cy="873.9" r="5.05"/>
<circle cx="211.6" cy="869.0" r="5.05"/>
<circle cx="216.6" cy="870.0" r="5.05"/>
<circle cx="236.3" cy="870.0" r="5.05"/>
<circle cx="242.2" cy="874.9" r="5.05"/>
<circle cx="342.2" cy="816.8" r="5.05"/>
<circle cx="344.2" cy="829.2" r="5.05"/>
<circle cx="353.5" cy="833.1" r="5.05"/>
<circle cx="362.3" cy="833.9" r="5.05"/>
<circle cx="344.6" cy="842.0" r="5.05"/>
<circle cx="290.4" cy="831.1" r="5.05"/>
<circle cx="315.0" cy="838.4" r="5.05"/>
<circle cx="316.0" cy="840.4" r="5.05"/>
<circle cx="270.7" cy="843.4" r="5.05"/>
<circle cx="291.4" cy="849.3" r="5.05"/>
<circle cx="252.0" cy="850.3" r="5.05"/>
<circle cx="365.9" cy="851.2" r="5.05"/>
<circle cx="332.8" cy="854.2" r="5.05"/>
<circle cx="336.7" cy="857.2" r="5.05"/>
<circle cx="337.7" cy="860.1" r="5.05"/>
<circle cx="383.0" cy="853.2" r="5.05"/>
<circle cx="379.1" cy="862.1" r="5.05"/>
<circle cx="358.4" cy="864.1" r="5.05"/>
<circle cx="362.3" cy="861.1" r="5.05"/>
<circle cx="270.7" cy="851.2" r="5.05"/>
<circle cx="275.6" cy="853.2" r="5.05"/>
<circle cx="279.6" cy="857.2" r="5.05"/>
<circle cx="278.6" cy="854.2" r="5.05"/>
<circle cx="256.9" cy="861.1" r="5.05"/>
<circle cx="255.9" cy="867.0" r="5.05"/>
<circle cx="318.0" cy="868.0" r="5.05"/>
<circle cx="311.1" cy="876.9" r="5.05"/>
<circle cx="326.9" cy="877.8" r="5.05"/>
<circle cx="334.7" cy="871.9" r="5.05"/>
<circle cx="340.7" cy="880.8" r="5.05"/>
<circle cx="346.6" cy="876.9" r="5.05"/>
<circle cx="352.5" cy="880.8" r="5.05"/>
<circle cx="362.3" cy="874.9" r="5.05"/>
<circle cx="370.2" cy="878.8" r="5.05"/>
<circle cx="355.4" cy="893.6" r="5.05"/>
<circle cx="373.2" cy="893.6" r="5.05"/>
<circle cx="133.8" cy="1037.4" r="5.05"/>
<circle cx="138.7" cy="1040.4" r="5.05"/>
<circle cx="145.6" cy="1037.4" r="5.05"/>
<circle cx="139.7" cy="1059.1" r="5.05"/>
<circle cx="167.3" cy="1047.3" r="5.05"/>
<circle cx="173.2" cy="1051.2" r="5.05"/>
<circle cx="179.1" cy="1053.2" r="5.05"/>
<circle cx="185.0" cy="1047.3" r="5.05"/>
<circle cx="181.1" cy="1044.3" r="5.05"/>
<circle cx="155.5" cy="1032.5" r="5.05"/>
<circle cx="161.4" cy="1034.5" r="5.05"/>
<circle cx="176.2" cy="1028.5" r="5.05"/>
<circle cx="185.0" cy="1030.5" r="5.05"/>
<circle cx="195.9" cy="1034.5" r="5.05"/>
<circle cx="204.7" cy="1022.6" r="5.05"/>
<circle cx="211.6" cy="1026.6" r="5.05"/>
<circle cx="218.5" cy="1022.6" r="5.05"/>
<circle cx="209.7" cy="1039.4" r="5.05"/>
<circle cx="212.6" cy="1044.3" r="5.05"/>
<circle cx="218.5" cy="1045.3" r="5.05"/>
<circle cx="225.4" cy="1037.4" r="5.05"/>
<circle cx="232.3" cy="1024.6" r="5.05"/>
<circle cx="238.2" cy="1028.5" r="5.05"/>
<circle cx="246.1" cy="1029.5" r="5.05"/>
<circle cx="251.1" cy="1029.5" r="5.05"/>
<circle cx="230.4" cy="1016.7" r="5.05"/>
<circle cx="240.2" cy="1018.7" r="5.05"/>
<circle cx="134.8" cy="995.0" r="5.05"/>
<circle cx="132.8" cy="1004.9" r="5.05"/>
<circle cx="133.8" cy="1010.8" r="5.05"/>
<circle cx="216.6" cy="1064.0" r="5.05"/>
<circle cx="257.9" cy="981.2" r="5.05"/>
<circle cx="253.0" cy="989.1" r="5.05"/>
<circle cx="263.8" cy="990.1" r="5.05"/>
<circle cx="257.9" cy="991.1" r="5.05"/>
<circle cx="254.9" cy="1005.9" r="5.05"/>
<circle cx="250.0" cy="1029.5" r="5.05"/>
<circle cx="266.8" cy="1024.6" r="5.05"/>
<circle cx="283.5" cy="1008.4" r="5.05"/>
<circle cx="318.0" cy="1007.8" r="5.05"/>
<circle cx="342.6" cy="1008.8" r="5.05"/>
<circle cx="343.6" cy="1007.8" r="5.05"/>
<circle cx="295.3" cy="992.1" r="5.05"/>
<circle cx="292.4" cy="990.1" r="5.05"/>
<circle cx="290.4" cy="978.3" r="5.05"/>
<circle cx="293.4" cy="974.3" r="5.05"/>
<circle cx="299.3" cy="979.3" r="5.05"/>
<circle cx="294.3" cy="972.4" r="5.05"/>
<circle cx="278.6" cy="971.4" r="5.05"/>
<circle cx="268.7" cy="965.5" r="5.05"/>
<circle cx="263.8" cy="961.5" r="5.05"/>
<circle cx="315.0" cy="972.4" r="5.05"/>
<circle cx="320.0" cy="977.3" r="5.05"/>
<circle cx="328.8" cy="967.4" r="5.05"/>
<circle cx="329.8" cy="972.4" r="5.05"/>
<circle cx="327.8" cy="978.3" r="5.05"/>
<circle cx="346.6" cy="973.0" r="5.05"/>
<circle cx="350.5" cy="989.1" r="5.05"/>
<circle cx="357.4" cy="988.1" r="5.05"/>
<circle cx="366.3" cy="983.2" r="5.05"/>
<circle cx="375.1" cy="983.2" r="5.05"/>
<circle cx="371.2" cy="989.1" r="5.05"/>
<circle cx="371.2" cy="997.0" r="5.05"/>
<circle cx="372.2" cy="974.3" r="5.05"/>
<circle cx="383.0" cy="1006.9" r="5.05"/>
<circle cx="380.1" cy="1019.7" r="5.05"/>
<circle cx="381.1" cy="1027.6" r="5.05"/>
<circle cx="368.2" cy="1027.6" r="5.05"/>
<circle cx="351.5" cy="1039.4" r="5.05"/>
<circle cx="331.2" cy="1047.9" r="5.05"/>
<circle cx="295.3" cy="955.6" r="5.05"/>
<circle cx="301.2" cy="953.7" r="5.05"/>
<circle cx="309.1" cy="951.7" r="5.05"/>
<circle cx="314.0" cy="957.6" r="5.05"/>
<circle cx="321.0" cy="955.6" r="5.05"/>
<circle cx="287.4" cy="946.8" r="5.05"/>
<circle cx="279.6" cy="949.7" r="5.05"/>
<circle cx="269.7" cy="945.8" r="5.05"/>
<circle cx="255.9" cy="957.6" r="5.05"/>
<circle cx="253.0" cy="963.5" r="5.05"/>
<circle cx="267.7" cy="957.6" r="5.05"/>
<circle cx="376.1" cy="959.6" r="5.05"/>
<circle cx="380.1" cy="963.5" r="5.05"/>
<circle cx="369.2" cy="958.6" r="5.05"/>
<circle cx="348.5" cy="962.5" r="5.05"/>
<circle cx="346.6" cy="965.5" r="5.05"/>
<circle cx="139.9" cy="1060.4" r="5.05"/>
<circle cx="139.9" cy="1070.7" r="5.05"/>
<circle cx="146.3" cy="1067.2" r="5.05"/>
<circle cx="164.4" cy="1070.7" r="5.05"/>
<circle cx="188.9" cy="1081.2" r="5.05"/>
<circle cx="218.1" cy="1068.3" r="5.05"/>
<circle cx="222.8" cy="1082.3" r="5.05"/>
<circle cx="152.1" cy="1173.1" r="5.05"/>
<circle cx="137.5" cy="1041.5" r="5.05"/>
<circle cx="144.8" cy="1040.0" r="5.05"/>
<circle cx="171.1" cy="1045.8" r="5.05"/>
<circle cx="174.0" cy="1051.7" r="5.05"/>
<circle cx="181.3" cy="1052.3" r="5.05"/>
<circle cx="185.7" cy="1046.4" r="5.05"/>
<circle cx="163.8" cy="1041.5" r="5.05"/>
<circle cx="212.0" cy="1045.3" r="5.05"/>
<circle cx="219.3" cy="1045.3" r="5.05"/>
<circle cx="225.7" cy="1040.0" r="5.05"/>
<circle cx="148.2" cy="896.1" r="5.05"/>
<circle cx="146.7" cy="904.8" r="5.05"/>
<circle cx="145.3" cy="909.2" r="5.05"/>
<circle cx="135.0" cy="992.4" r="5.05"/>
<circle cx="134.3" cy="1008.5" r="5.05"/>
<circle cx="135.0" cy="1037.7" r="5.05"/>
</g>
<g fill="#000">
<circle cx="201.5" cy="900.1" r="5.6"/>
<circle cx="216.6" cy="896.3" r="5.6"/>
<circle cx="229.4" cy="910.2" r="5.6"/>
<circle cx="235.1" cy="913.7" r="5.6"/>
<circle cx="182.6" cy="913.5" r="5.6"/>
<circle cx="252.5" cy="910.4" r="5.6"/>
<circle cx="262.8" cy="909.4" r="5.6"/>
<circle cx="178.1" cy="931.6" r="5.6"/>
<circle cx="177.3" cy="940.7" r="5.6"/>
<circle cx="197.5" cy="930.4" r="5.6"/>
<circle cx="193.3" cy="934.0" r="5.6"/>
<circle cx="163.1" cy="937.7" r="5.6"/>
<circle cx="155.4" cy="942.9" r="5.6"/>
<circle cx="153.2" cy="953.8" r="5.6"/>
<circle cx="219.8" cy="942.5" r="5.6"/>
<circle cx="202.8" cy="953.7" r="5.6"/>
<circle cx="202.0" cy="958.7" r="5.6"/>
<circle cx="175.5" cy="966.2" r="5.6"/>
<circle cx="209.2" cy="967.7" r="5.6"/>
<circle cx="156.4" cy="973.4" r="5.6"/>
<circle cx="162.2" cy="976.5" r="5.6"/>
<circle cx="171.2" cy="977.8" r="5.6"/>
<circle cx="176.0" cy="978.3" r="5.6"/>
<circle cx="197.2" cy="977.0" r="5.6"/>
<circle cx="144.2" cy="990.1" r="5.6"/>
<circle cx="210.3" cy="988.1" r="5.6"/>
<circle cx="167.3" cy="1009.7" r="5.6"/>
<circle cx="180.9" cy="1010.4" r="5.6"/>
<circle cx="142.2" cy="1015.0" r="5.6"/>
<circle cx="238.2" cy="1005.3" r="5.6"/>
<circle cx="256.9" cy="930.6" r="5.6"/>
<circle cx="270.7" cy="867.0" r="5.6"/>
<circle cx="345.6" cy="862.1" r="5.6"/>
<circle cx="317.6" cy="885.1" r="5.6"/>
<circle cx="382.6" cy="882.1" r="5.6"/>
<circle cx="270.3" cy="896.6" r="5.6"/>
<circle cx="276.6" cy="913.9" r="5.6"/>
<circle cx="280.5" cy="910.4" r="5.6"/>
<circle cx="315.0" cy="917.9" r="5.6"/>
<circle cx="337.7" cy="919.2" r="5.6"/>
<circle cx="337.7" cy="923.2" r="5.6"/>
<circle cx="351.1" cy="916.3" r="5.6"/>
<circle cx="364.3" cy="929.6" r="5.6"/>
<circle cx="363.3" cy="947.7" r="5.6"/>
<circle cx="340.7" cy="953.7" r="5.6"/>
<circle cx="364.3" cy="970.4" r="5.6"/>
<circle cx="388.6" cy="985.9" r="5.6"/>
<circle cx="496.1" cy="947.7" r="5.6"/>
<circle cx="570.7" cy="935.6" r="5.6"/>
<circle cx="537.6" cy="965.3" r="5.6"/>
<circle cx="568.9" cy="964.7" r="5.6"/>
<circle cx="586.0" cy="989.4" r="5.6"/>
</g>
<polyline points="140.6,975.3 148.0,971.4 155.4,967.5 162.8,963.9 170.2,960.3 177.6,957.0 185.0,953.7 192.4,950.6 199.8,947.6 207.2,944.7 214.6,942.0 222.0,939.4 229.4,937.0 236.8,934.7 244.2,932.5 251.6,930.5 259.0,928.6 266.4,926.8 273.8,925.2 281.2,923.7 288.6,922.4 296.0,921.1 303.4,920.1 310.8,919.1 318.2,918.3 325.6,917.6 333.0,917.1 340.4,916.7 347.8,916.4 355.2,916.3 362.6,916.3 370.0,916.5 377.4,916.7 384.8,917.2 392.2,917.7 399.6,918.4 407.0,919.2 414.4,920.2 421.8,921.3 429.2,922.5 436.6,923.9 444.0,925.4 451.4,927.0 458.8,928.8 466.2,930.7 473.6,932.8 481.0,935.0 488.4,937.3 495.8,939.8 503.2,942.3 510.6,945.1 518.0,947.9 525.4,950.9 532.8,954.1 540.2,957.4 547.6,960.8 555.0,964.3 562.4,968.0 569.8,971.8 577.2,975.8 584.6,979.9" fill="none" stroke="#000" stroke-width="1.3"/>
<rect x="99" y="0" width="585" height="541" fill="none" stroke="#333" stroke-width="1.8" stroke-linejoin="round"/>
<line x1="88" y1="521.3" x2="99" y2="521.3" stroke="#333" stroke-width="1.8" stroke-linejoin="round"/>
<text transform="translate(74.1,521.3) rotate(-90)" text-anchor="middle" font-size="17.8">0</text>
<line x1="88" y1="421.1" x2="99" y2="421.1" stroke="#333" stroke-width="1.8" stroke-linejoin="round"/>
<text transform="translate(74.1,421.1) rotate(-90)" text-anchor="middle" font-size="17.8">2</text>
<line x1="88" y1="320.9" x2="99" y2="320.9" stroke="#333" stroke-width="1.8" stroke-linejoin="round"/>
<text transform="translate(74.1,320.9) rotate(-90)" text-anchor="middle" font-size="17.8">4</text>
<line x1="88" y1="220.7" x2="99" y2="220.7" stroke="#333" stroke-width="1.8" stroke-linejoin="round"/>
<text transform="translate(74.1,220.7) rotate(-90)" text-anchor="middle" font-size="17.8">6</text>
<line x1="88" y1="120.5" x2="99" y2="120.5" stroke="#333" stroke-width="1.8" stroke-linejoin="round"/>
<text transform="translate(74.1,120.5) rotate(-90)" text-anchor="middle" font-size="17.8">8</text>
<line x1="88" y1="20.3" x2="99" y2="20.3" stroke="#333" stroke-width="1.8" stroke-linejoin="round"/>
<text transform="translate(74.1,20.3) rotate(-90)" text-anchor="middle" font-size="17.8">10</text>
<line x1="220.9" y1="541" x2="220.9" y2="552" stroke="#333" stroke-width="1.8" stroke-linejoin="round"/>
<text x="220.9" y="579.4" text-anchor="middle" font-size="17.8">500</text>
<line x1="364.3" y1="541" x2="364.3" y2="552" stroke="#333" stroke-width="1.8" stroke-linejoin="round"/>
<text x="364.3" y="579.4" text-anchor="middle" font-size="17.8">1000</text>
<line x1="507.7" y1="541" x2="507.7" y2="552" stroke="#333" stroke-width="1.8" stroke-linejoin="round"/>
<text x="507.7" y="579.4" text-anchor="middle" font-size="17.8">1500</text>
<line x1="651.1" y1="541" x2="651.1" y2="552" stroke="#333" stroke-width="1.8" stroke-linejoin="round"/>
<text x="651.1" y="579.4" text-anchor="middle" font-size="17.8">2000</text>
<rect x="99" y="698" width="585" height="541" fill="none" stroke="#333" stroke-width="1.8" stroke-linejoin="round"/>
<line x1="88" y1="1219.2" x2="99" y2="1219.2" stroke="#333" stroke-width="1.8" stroke-linejoin="round"/>
<text transform="translate(74.1,1219.2) rotate(-90)" text-anchor="middle" font-size="17.8">0</text>
<line x1="88" y1="1119.0" x2="99" y2="1119.0" stroke="#333" stroke-width="1.8" stroke-linejoin="round"/>
<text transform="translate(74.1,1119.0) rotate(-90)" text-anchor="middle" font-size="17.8">2</text>
<line x1="88" y1="1018.7" x2="99" y2="1018.7" stroke="#333" stroke-width="1.8" stroke-linejoin="round"/>
<text transform="translate(74.1,1018.7) rotate(-90)" text-anchor="middle" font-size="17.8">4</text>
<line x1="88" y1="918.5" x2="99" y2="918.5" stroke="#333" stroke-width="1.8" stroke-linejoin="round"/>
<text transform="translate(74.1,918.5) rotate(-90)" text-anchor="middle" font-size="17.8">6</text>
<line x1="88" y1="818.2" x2="99" y2="818.2" stroke="#333" stroke-width="1.8" stroke-linejoin="round"/>
<text transform="translate(74.1,818.2) rotate(-90)" text-anchor="middle" font-size="17.8">8</text>
<line x1="88" y1="718.0" x2="99" y2="718.0" stroke="#333" stroke-width="1.8" stroke-linejoin="round"/>
<text transform="translate(74.1,718.0) rotate(-90)" text-anchor="middle" font-size="17.8">10</text>
<line x1="131.8" y1="1239" x2="131.8" y2="1250" stroke="#333" stroke-width="1.8" stroke-linejoin="round"/>
<text x="131.8" y="1277.4" text-anchor="middle" font-size="17.8">0</text>
<line x1="208.0" y1="1239" x2="208.0" y2="1250" stroke="#333" stroke-width="1.8" stroke-linejoin="round"/>
<text x="208.0" y="1277.4" text-anchor="middle" font-size="17.8">2</text>
<line x1="284.2" y1="1239" x2="284.2" y2="1250" stroke="#333" stroke-width="1.8" stroke-linejoin="round"/>
<text x="284.2" y="1277.4" text-anchor="middle" font-size="17.8">4</text>
<line x1="360.4" y1="1239" x2="360.4" y2="1250" stroke="#333" stroke-width="1.8" stroke-linejoin="round"/>
<text x="360.4" y="1277.4" text-anchor="middle" font-size="17.8">6</text>
<line x1="436.6" y1="1239" x2="436.6" y2="1250" stroke="#333" stroke-width="1.8" stroke-linejoin="round"/>
<text x="436.6" y="1277.4" text-anchor="middle" font-size="17.8">8</text>
<line x1="512.8" y1="1239" x2="512.8" y2="1250" stroke="#333" stroke-width="1.8" stroke-linejoin="round"/>
<text x="512.8" y="1277.4" text-anchor="middle" font-size="17.8">10</text>
<line x1="589.0" y1="1239" x2="589.0" y2="1250" stroke="#333" stroke-width="1.8" stroke-linejoin="round"/>
<text x="589.0" y="1277.4" text-anchor="middle" font-size="17.8">12</text>
<line x1="665.2" y1="1239" x2="665.2" y2="1250" stroke="#333" stroke-width="1.8" stroke-linejoin="round"/>
<text x="665.2" y="1277.4" text-anchor="middle" font-size="17.8">14</text>
<text transform="translate(27.3,270.4) rotate(-90)" text-anchor="middle" font-size="26.1" xml:space="preserve">Ln(Aboveground plant biomass (g  m<tspan font-size="18" dy="-12.5">−2</tspan><tspan dy="12.5">))</tspan></text>
<text transform="translate(27.3,968.4) rotate(-90)" text-anchor="middle" font-size="26.1" xml:space="preserve">Ln(Aboveground plant biomass (g  m<tspan font-size="18" dy="-12.5">−2</tspan><tspan dy="12.5">))</tspan></text>
<text x="391.9" y="621" text-anchor="middle" font-size="26.1">Mean annual precipitation (mm)</text>
<text x="391.9" y="1312.6" text-anchor="middle" font-size="26.1">Soil nitrogen (g kg<tspan font-size="18" dy="-12.5">−1</tspan><tspan dy="12.5">)</tspan></text>
<text x="145.6" y="40.6" font-size="26.8" font-weight="bold">A</text>
<text x="145.6" y="738.4" font-size="26.8" font-weight="bold">B</text>
<circle cx="485.4" cy="29.7" r="6.1" fill="#000"/>
<circle cx="485.5" cy="58.6" r="5.6" fill="none" stroke="#add8e6" stroke-width="1.3"/>
<text x="506.5" y="38.6" font-size="24.7">Site (N = 116)</text>
<text x="506.5" y="67.1" font-size="24.7">Plot (N = 3380)</text>
<circle cx="485.4" cy="727.7" r="6.1" fill="#000"/>
<circle cx="485.5" cy="756.6" r="5.6" fill="none" stroke="#9370db" stroke-width="1.3"/>
<text x="506.5" y="736.6" font-size="24.7">Site (N = 55)</text>
<text x="506.5" y="765.1" font-size="24.7">Plot (N = 1598)</text>
<text x="451" y="522.7" font-size="24.5" xml:space="preserve">R<tspan font-size="16.5" dy="-12.5">2</tspan><tspan dy="12.5">= 0.34,  P &lt; 0.001</tspan></text>
<text x="451" y="1220.7" font-size="24.5" xml:space="preserve">R<tspan font-size="16.5" dy="-12.5">2</tspan><tspan dy="12.5">= 0.33,  P &lt; 0.001</tspan></text>
</svg></body></html>
